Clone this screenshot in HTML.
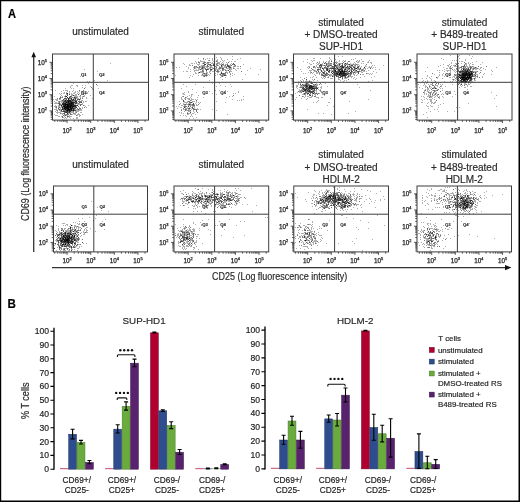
<!DOCTYPE html>
<html><head><meta charset="utf-8"><style>
html,body{margin:0;padding:0;background:#fff;}
svg{display:block;font-family:"Liberation Sans", sans-serif;will-change:transform;}
</style></head><body>
<svg width="520" height="502" viewBox="0 0 520 502">
<rect x="0" y="0" width="520" height="502" fill="#fff"/>
<path d="M63 107.5h1M54 103.5h1M62 106.5h1M69 100.5h1M73 104.5h1M66 96.5h1M64 114.5h1M70 100.5h1M62 101.5h1M75 102.5h1M71 106.5h1M79 102.5h1M65 117.5h1M75 104.5h1M56 109.5h1M72 107.5h1M67 104.5h1M77 105.5h1M71 103.5h1M65 105.5h1M70 86.5h1M63 110.5h1M68 101.5h1M71 110.5h1M58 109.5h1M65 100.5h1M68 113.5h1M70 105.5h1M55 111.5h1M62 116.5h1M62 109.5h1M58 108.5h1M59 98.5h1M74 107.5h1M68 100.5h1M83 102.5h1M55 109.5h1M65 107.5h1M70 103.5h1M62 100.5h1M77 117.5h1M63 110.5h1M75 105.5h1M62 97.5h1M66 94.5h1M59 104.5h1M66 104.5h1M62 108.5h1M80 95.5h1M75 102.5h1M68 98.5h1M71 96.5h1M74 97.5h1M80 105.5h1M55 103.5h1M70 102.5h1M64 109.5h1M72 102.5h1M62 107.5h1M72 106.5h1M65 108.5h1M68 108.5h1M65 112.5h1M70 109.5h1M68 105.5h1M74 97.5h1M61 109.5h1M56 100.5h1M80 115.5h1M75 103.5h1M55 90.5h1M63 103.5h1M71 104.5h1M69 110.5h1M74 99.5h1M69 110.5h1M73 110.5h1M76 102.5h1M70 107.5h1M64 101.5h1M72 110.5h1M71 109.5h1M63 106.5h1M65 104.5h1M66 104.5h1M80 98.5h1M63 115.5h1M66 108.5h1M67 112.5h1M65 90.5h1M79 91.5h1M73 109.5h1M63 104.5h1M64 110.5h1M76 101.5h1M75 106.5h1M82 114.5h1M70 102.5h1M67 102.5h1M68 102.5h1M81 110.5h1M57 99.5h1M78 109.5h1M70 97.5h1M67 115.5h1M69 105.5h1M62 104.5h1M74 105.5h1M74 110.5h1M62 104.5h1M76 100.5h1M79 102.5h1M69 115.5h1M59 99.5h1M65 102.5h1M62 107.5h1M71 109.5h1M76 115.5h1M63 113.5h1M82 103.5h1M70 105.5h1M67 116.5h1M81 102.5h1M70 105.5h1M69 94.5h1M73 103.5h1M69 97.5h1M64 107.5h1M69 102.5h1M79 104.5h1M60 99.5h1M66 111.5h1M71 98.5h1M73 110.5h1M64 98.5h1M59 101.5h1M65 107.5h1M65 115.5h1M63 101.5h1M70 113.5h1M56 99.5h1M73 99.5h1M68 98.5h1M62 119.5h1M76 112.5h1M79 116.5h1M65 109.5h1M70 109.5h1M64 113.5h1M67 106.5h1M66 107.5h1M57 110.5h1M60 103.5h1M67 112.5h1M58 103.5h1M72 103.5h1M73 98.5h1M59 101.5h1M63 103.5h1M69 111.5h1M54 106.5h1M70 105.5h1M60 97.5h1M79 110.5h1M62 104.5h1M69 113.5h1M57 98.5h1M66 99.5h1M67 113.5h1M67 106.5h1M69 106.5h1M56 108.5h1M58 116.5h1M70 106.5h1M74 93.5h1M72 104.5h1M74 105.5h1M71 110.5h1M69 100.5h1M70 118.5h1M74 108.5h1M65 106.5h1M67 97.5h1M78 111.5h1M75 101.5h1M78 106.5h1M70 114.5h1M66 115.5h1M62 109.5h1M65 103.5h1M72 104.5h1M63 109.5h1M56 106.5h1M64 111.5h1M74 98.5h1M60 108.5h1M64 107.5h1M69 110.5h1M68 108.5h1M65 109.5h1M71 105.5h1M67 110.5h1M67 102.5h1M64 106.5h1M64 105.5h1M65 108.5h1M65 100.5h1M64 106.5h1M70 100.5h1M67 110.5h1M64 104.5h1M66 110.5h1M62 108.5h1M66 96.5h1M69 110.5h1M70 105.5h1M62 108.5h1M70 107.5h1M75 105.5h1M64 106.5h1M75 103.5h1M71 100.5h1M63 109.5h1M64 107.5h1M67 107.5h1M64 111.5h1M67 111.5h1M68 104.5h1M65 106.5h1M68 110.5h1M68 108.5h1M69 109.5h1M69 99.5h1M70 106.5h1M65 104.5h1M65 105.5h1M68 109.5h1M68 101.5h1M65 110.5h1M67 106.5h1M65 104.5h1M70 103.5h1M70 101.5h1M64 101.5h1M73 104.5h1M65 106.5h1M71 105.5h1M69 103.5h1M68 112.5h1M70 106.5h1M72 108.5h1M68 109.5h1M73 105.5h1M71 103.5h1M66 107.5h1M67 106.5h1M67 103.5h1M67 110.5h1M66 112.5h1M68 106.5h1M63 107.5h1M67 105.5h1M68 99.5h1M66 102.5h1M69 110.5h1M62 103.5h1M64 103.5h1M65 105.5h1M69 101.5h1M65 107.5h1M63 111.5h1M72 102.5h1M71 102.5h1M67 104.5h1M65 103.5h1M68 101.5h1M71 106.5h1M75 106.5h1M68 106.5h1M69 110.5h1M68 102.5h1M68 101.5h1M67 109.5h1M68 106.5h1M65 104.5h1M69 109.5h1M83 101.5h1M81 94.5h1M69 100.5h1M71 96.5h1M85 87.5h1M81 112.5h1M82 96.5h1M83 94.5h1M73 107.5h1M78 99.5h1M76 95.5h1M70 87.5h1M82 92.5h1M75 94.5h1M86 93.5h1M75 97.5h1M70 97.5h1M80 98.5h1M78 94.5h1M83 92.5h1M83 90.5h1M97 85.5h1M96 84.5h1M85 94.5h1M92 89.5h1M93 89.5h1M98 88.5h1M80 76.5h1M97 71.5h1" stroke="#000" stroke-opacity="0.32" stroke-width="1"/>
<path d="M69 108.5h1M75 103.5h1M63 115.5h1M70 104.5h1M71 106.5h1M75 109.5h1M63 102.5h1M77 102.5h1M65 98.5h1M62 106.5h1M78 103.5h1M71 111.5h1M73 110.5h1M64 105.5h1M67 113.5h1M71 107.5h1M68 107.5h1M80 99.5h1M71 105.5h1M56 103.5h1M73 95.5h1M78 110.5h1M79 108.5h1M75 99.5h1M76 105.5h1M54 109.5h1M66 112.5h1M78 98.5h1M62 107.5h1M61 104.5h1M63 90.5h1M73 105.5h1M79 101.5h1M62 117.5h1M81 104.5h1M66 112.5h1M68 116.5h1M66 110.5h1M80 104.5h1M74 102.5h1M69 109.5h1M63 99.5h1M56 106.5h1M61 101.5h1M65 98.5h1M66 101.5h1M73 104.5h1M66 107.5h1M68 102.5h1M68 111.5h1M73 118.5h1M71 109.5h1M71 114.5h1M77 86.5h1M71 109.5h1M61 110.5h1M66 111.5h1M78 101.5h1M64 118.5h1M70 111.5h1M61 110.5h1M66 109.5h1M70 106.5h1M68 101.5h1M73 109.5h1M69 105.5h1M71 102.5h1M67 116.5h1M64 115.5h1M68 104.5h1M71 101.5h1M73 113.5h1M69 104.5h1M67 109.5h1M71 102.5h1M67 95.5h1M69 111.5h1M68 103.5h1M77 111.5h1M76 105.5h1M62 96.5h1M66 102.5h1M80 109.5h1M65 107.5h1M60 113.5h1M75 99.5h1M60 105.5h1M73 109.5h1M72 106.5h1M69 109.5h1M71 104.5h1M77 108.5h1M70 112.5h1M68 111.5h1M75 101.5h1M67 106.5h1M63 108.5h1M73 106.5h1M68 104.5h1M64 96.5h1M66 108.5h1M75 105.5h1M63 108.5h1M61 97.5h1M57 113.5h1M88 105.5h1M67 104.5h1M59 106.5h1M67 105.5h1M64 105.5h1M82 108.5h1M74 97.5h1M76 115.5h1M61 110.5h1M65 96.5h1M79 99.5h1M65 100.5h1M70 106.5h1M72 102.5h1M69 104.5h1M60 94.5h1M65 101.5h1M68 108.5h1M70 104.5h1M62 100.5h1M67 93.5h1M57 103.5h1M71 105.5h1M74 100.5h1M68 101.5h1M72 103.5h1M75 101.5h1M60 112.5h1M68 116.5h1M76 117.5h1M70 109.5h1M63 101.5h1M59 109.5h1M75 106.5h1M60 98.5h1M84 105.5h1M76 107.5h1M64 114.5h1M71 99.5h1M65 97.5h1M76 109.5h1M64 113.5h1M73 99.5h1M68 99.5h1M77 99.5h1M70 111.5h1M75 95.5h1M67 105.5h1M64 103.5h1M72 105.5h1M59 109.5h1M61 116.5h1M63 109.5h1M79 99.5h1M69 103.5h1M67 103.5h1M70 111.5h1M76 103.5h1M71 104.5h1M67 108.5h1M77 100.5h1M76 101.5h1M63 113.5h1M79 108.5h1M65 115.5h1M85 101.5h1M55 105.5h1M67 93.5h1M80 104.5h1M72 107.5h1M66 112.5h1M82 91.5h1M64 103.5h1M58 106.5h1M75 107.5h1M83 105.5h1M70 106.5h1M63 100.5h1M81 101.5h1M80 97.5h1M65 101.5h1M69 104.5h1M67 100.5h1M69 105.5h1M71 105.5h1M68 106.5h1M72 99.5h1M73 99.5h1M72 102.5h1M66 102.5h1M66 92.5h1M67 94.5h1M78 94.5h1M72 103.5h1M76 97.5h1M68 109.5h1M70 108.5h1M71 114.5h1M68 102.5h1M70 106.5h1M70 106.5h1M66 102.5h1M66 101.5h1M68 105.5h1M66 110.5h1M69 103.5h1M56 110.5h1M61 107.5h1M69 101.5h1M67 116.5h1M70 104.5h1M57 110.5h1M69 106.5h1M67 104.5h1M61 105.5h1M59 107.5h1M69 112.5h1M69 107.5h1M67 108.5h1M67 108.5h1M70 107.5h1M74 110.5h1M66 107.5h1M65 105.5h1M67 107.5h1M73 108.5h1M68 107.5h1M73 106.5h1M70 100.5h1M66 104.5h1M68 102.5h1M70 104.5h1M67 100.5h1M68 106.5h1M70 105.5h1M72 107.5h1M62 107.5h1M65 100.5h1M67 108.5h1M71 106.5h1M68 103.5h1M68 108.5h1M71 98.5h1M66 107.5h1M64 107.5h1M68 104.5h1M73 100.5h1M67 112.5h1M64 104.5h1M70 106.5h1M70 109.5h1M62 107.5h1M67 107.5h1M72 108.5h1M67 111.5h1M67 105.5h1M65 104.5h1M70 107.5h1M67 107.5h1M67 107.5h1M73 108.5h1M71 105.5h1M64 109.5h1M79 100.5h1M85 93.5h1M75 101.5h1M84 88.5h1M78 106.5h1M87 93.5h1M67 98.5h1M77 96.5h1M82 87.5h1M80 105.5h1M81 94.5h1M72 100.5h1M72 91.5h1M78 92.5h1M72 103.5h1M78 94.5h1M83 93.5h1M83 96.5h1M71 88.5h1M90 86.5h1M85 85.5h1M94 80.5h1" stroke="#000" stroke-opacity="0.32" stroke-width="1"/>
<path d="M66 104.5h1M73 106.5h1M71 116.5h1M66 106.5h1M57 111.5h1M71 103.5h1M73 106.5h1M71 94.5h1M71 104.5h1M74 105.5h1M71 109.5h1M68 108.5h1M67 106.5h1M70 96.5h1M78 109.5h1M69 94.5h1M73 110.5h1M73 103.5h1M79 90.5h1M66 102.5h1M73 111.5h1M68 112.5h1M75 108.5h1M66 99.5h1M60 110.5h1M57 115.5h1M75 106.5h1M73 104.5h1M64 93.5h1M73 108.5h1M86 101.5h1M81 109.5h1M71 105.5h1M81 102.5h1M70 108.5h1M64 107.5h1M69 110.5h1M68 106.5h1M64 99.5h1M72 104.5h1M70 109.5h1M75 107.5h1M74 100.5h1M73 102.5h1M61 106.5h1M60 97.5h1M67 110.5h1M71 103.5h1M80 101.5h1M74 106.5h1M60 107.5h1M62 109.5h1M66 102.5h1M64 109.5h1M61 111.5h1M64 103.5h1M70 101.5h1M73 99.5h1M64 100.5h1M56 107.5h1M76 96.5h1M69 104.5h1M72 102.5h1M60 109.5h1M59 102.5h1M79 101.5h1M77 115.5h1M67 109.5h1M68 105.5h1M75 98.5h1M69 106.5h1M65 103.5h1M76 112.5h1M65 107.5h1M70 105.5h1M68 104.5h1M67 110.5h1M71 103.5h1M66 96.5h1M66 104.5h1M71 103.5h1M73 103.5h1M72 100.5h1M70 99.5h1M74 114.5h1M73 102.5h1M66 98.5h1M68 109.5h1M63 117.5h1M73 106.5h1M76 105.5h1M72 97.5h1M68 102.5h1M76 102.5h1M61 105.5h1M65 108.5h1M66 107.5h1M67 106.5h1M66 104.5h1M71 102.5h1M71 85.5h1M56 115.5h1M75 100.5h1M66 108.5h1M68 101.5h1M72 104.5h1M73 106.5h1M73 102.5h1M77 105.5h1M63 106.5h1M71 102.5h1M75 110.5h1M68 101.5h1M70 100.5h1M63 106.5h1M73 105.5h1M66 102.5h1M69 111.5h1M74 102.5h1M74 108.5h1M77 105.5h1M72 108.5h1M68 110.5h1M74 108.5h1M72 106.5h1M71 109.5h1M75 110.5h1M62 104.5h1M64 104.5h1M66 100.5h1M78 109.5h1M77 105.5h1M71 110.5h1M68 110.5h1M67 109.5h1M68 114.5h1M67 94.5h1M65 106.5h1M73 95.5h1M80 108.5h1M82 97.5h1M75 113.5h1M80 110.5h1M57 100.5h1M67 111.5h1M70 103.5h1M63 99.5h1M65 112.5h1M68 99.5h1M64 108.5h1M54 114.5h1M59 102.5h1M74 103.5h1M65 103.5h1M67 95.5h1M55 102.5h1M70 105.5h1M84 107.5h1M59 116.5h1M77 118.5h1M68 104.5h1M67 113.5h1M75 96.5h1M60 98.5h1M63 105.5h1M66 114.5h1M67 100.5h1M73 102.5h1M66 93.5h1M68 108.5h1M58 108.5h1M71 101.5h1M74 113.5h1M77 109.5h1M70 106.5h1M86 97.5h1M64 106.5h1M66 90.5h1M71 107.5h1M84 107.5h1M72 111.5h1M63 103.5h1M66 108.5h1M61 93.5h1M71 108.5h1M78 114.5h1M71 93.5h1M65 104.5h1M80 108.5h1M69 103.5h1M70 101.5h1M66 102.5h1M59 104.5h1M68 100.5h1M69 100.5h1M68 109.5h1M64 111.5h1M81 102.5h1M75 114.5h1M67 91.5h1M67 111.5h1M69 98.5h1M72 110.5h1M69 103.5h1M65 104.5h1M65 105.5h1M72 105.5h1M63 106.5h1M72 109.5h1M69 111.5h1M71 101.5h1M68 104.5h1M60 111.5h1M66 104.5h1M70 107.5h1M66 106.5h1M69 104.5h1M64 112.5h1M68 105.5h1M64 108.5h1M71 105.5h1M70 103.5h1M70 107.5h1M72 101.5h1M64 108.5h1M67 105.5h1M65 111.5h1M68 101.5h1M69 112.5h1M67 103.5h1M70 103.5h1M70 106.5h1M67 104.5h1M64 102.5h1M72 102.5h1M70 101.5h1M60 104.5h1M65 105.5h1M69 107.5h1M73 103.5h1M67 100.5h1M64 106.5h1M68 109.5h1M69 97.5h1M71 102.5h1M67 104.5h1M69 110.5h1M66 109.5h1M64 106.5h1M64 108.5h1M66 106.5h1M67 107.5h1M67 104.5h1M67 104.5h1M72 103.5h1M70 107.5h1M67 101.5h1M74 106.5h1M62 109.5h1M65 104.5h1M66 107.5h1M73 110.5h1M69 105.5h1M82 85.5h1M74 96.5h1M75 100.5h1M82 98.5h1M74 92.5h1M83 90.5h1M81 91.5h1M80 96.5h1M84 96.5h1M79 99.5h1M86 98.5h1M80 102.5h1M83 96.5h1M79 90.5h1M71 100.5h1M74 97.5h1M73 83.5h1M76 100.5h1M66 105.5h1M80 95.5h1M87 92.5h1M94 82.5h1M90 95.5h1M84 95.5h1M92 88.5h1" stroke="#000" stroke-opacity="0.32" stroke-width="1"/>
<path d="M76 103.5h1M71 104.5h1M70 113.5h1M65 109.5h1M73 111.5h1M65 101.5h1M66 114.5h1M67 93.5h1M71 102.5h1M66 111.5h1M82 98.5h1M69 109.5h1M68 106.5h1M73 113.5h1M73 100.5h1M71 108.5h1M72 107.5h1M69 98.5h1M58 102.5h1M78 104.5h1M73 95.5h1M68 101.5h1M72 110.5h1M55 106.5h1M67 106.5h1M66 108.5h1M58 108.5h1M71 109.5h1M71 99.5h1M78 103.5h1M73 90.5h1M70 108.5h1M59 107.5h1M63 102.5h1M58 103.5h1M65 109.5h1M66 101.5h1M69 106.5h1M74 109.5h1M68 99.5h1M59 112.5h1M79 103.5h1M76 118.5h1M71 97.5h1M58 112.5h1M69 106.5h1M68 105.5h1M66 96.5h1M73 104.5h1M66 102.5h1M66 104.5h1M67 90.5h1M65 109.5h1M79 114.5h1M76 107.5h1M71 102.5h1M75 101.5h1M65 109.5h1M74 106.5h1M70 116.5h1M77 99.5h1M70 100.5h1M67 111.5h1M75 100.5h1M65 107.5h1M64 98.5h1M69 107.5h1M78 113.5h1M71 106.5h1M65 100.5h1M73 104.5h1M69 101.5h1M63 111.5h1M73 106.5h1M71 105.5h1M75 98.5h1M70 98.5h1M66 96.5h1M65 107.5h1M55 99.5h1M72 100.5h1M71 110.5h1M66 118.5h1M73 108.5h1M69 104.5h1M61 95.5h1M73 97.5h1M65 111.5h1M73 88.5h1M59 104.5h1M69 100.5h1M63 106.5h1M67 97.5h1M73 112.5h1M65 103.5h1M66 110.5h1M72 85.5h1M66 102.5h1M56 112.5h1M71 107.5h1M72 100.5h1M60 96.5h1M62 97.5h1M67 106.5h1M74 104.5h1M64 108.5h1M72 104.5h1M56 107.5h1M63 104.5h1M57 112.5h1M70 108.5h1M62 103.5h1M69 110.5h1M66 98.5h1M59 103.5h1M53 99.5h1M72 114.5h1M62 114.5h1M68 114.5h1M63 104.5h1M69 103.5h1M79 109.5h1M70 101.5h1M73 108.5h1M69 109.5h1M75 105.5h1M77 98.5h1M66 109.5h1M69 96.5h1M75 105.5h1M65 96.5h1M65 111.5h1M62 104.5h1M76 102.5h1M59 109.5h1M75 111.5h1M65 115.5h1M86 107.5h1M74 102.5h1M79 107.5h1M67 97.5h1M69 100.5h1M67 110.5h1M63 103.5h1M80 102.5h1M73 95.5h1M58 105.5h1M64 106.5h1M63 111.5h1M62 109.5h1M69 117.5h1M68 100.5h1M69 110.5h1M78 101.5h1M71 98.5h1M60 104.5h1M62 100.5h1M63 93.5h1M64 106.5h1M74 100.5h1M65 102.5h1M79 102.5h1M67 103.5h1M59 103.5h1M70 114.5h1M62 116.5h1M64 112.5h1M64 106.5h1M69 94.5h1M76 111.5h1M59 105.5h1M66 108.5h1M55 107.5h1M62 111.5h1M77 105.5h1M63 105.5h1M70 98.5h1M66 99.5h1M70 105.5h1M65 96.5h1M70 108.5h1M66 107.5h1M68 105.5h1M66 102.5h1M82 100.5h1M68 98.5h1M73 107.5h1M65 108.5h1M71 108.5h1M77 110.5h1M61 105.5h1M67 105.5h1M71 106.5h1M76 101.5h1M67 108.5h1M76 107.5h1M65 105.5h1M72 106.5h1M70 102.5h1M69 106.5h1M64 105.5h1M66 110.5h1M70 104.5h1M64 107.5h1M64 110.5h1M64 101.5h1M67 108.5h1M65 104.5h1M67 114.5h1M65 109.5h1M70 104.5h1M66 106.5h1M63 105.5h1M64 108.5h1M70 110.5h1M64 106.5h1M65 103.5h1M65 108.5h1M69 108.5h1M66 104.5h1M66 106.5h1M68 106.5h1M65 104.5h1M67 104.5h1M65 114.5h1M65 107.5h1M66 104.5h1M69 101.5h1M64 108.5h1M66 110.5h1M72 106.5h1M72 103.5h1M65 110.5h1M68 105.5h1M65 105.5h1M66 104.5h1M68 107.5h1M69 107.5h1M64 107.5h1M64 106.5h1M70 105.5h1M71 108.5h1M70 106.5h1M66 106.5h1M66 104.5h1M68 109.5h1M69 106.5h1M70 102.5h1M70 105.5h1M73 105.5h1M74 106.5h1M69 108.5h1M71 99.5h1M66 105.5h1M71 108.5h1M63 102.5h1M67 105.5h1M61 113.5h1M82 104.5h1M73 99.5h1M79 99.5h1M91 87.5h1M74 98.5h1M81 100.5h1M61 102.5h1M74 95.5h1M88 91.5h1M76 97.5h1M88 83.5h1M89 81.5h1M96 84.5h1M91 87.5h1M87 81.5h1M92 98.5h1M90 82.5h1M107 80.5h1M121 82.5h1M84 69.5h1" stroke="#000" stroke-opacity="0.32" stroke-width="1"/>
<path d="M63 104.5h1M75 107.5h1M69 91.5h1M62 111.5h1M68 100.5h1M67 117.5h1M74 101.5h1M75 98.5h1M61 109.5h1M72 95.5h1M68 110.5h1M65 106.5h1M65 88.5h1M67 95.5h1M72 100.5h1M69 116.5h1M73 101.5h1M72 106.5h1M75 99.5h1M71 109.5h1M82 107.5h1M62 117.5h1M78 99.5h1M63 100.5h1M69 112.5h1M61 105.5h1M64 111.5h1M71 101.5h1M69 102.5h1M77 108.5h1M65 104.5h1M79 115.5h1M63 108.5h1M68 104.5h1M73 102.5h1M72 105.5h1M73 104.5h1M54 96.5h1M70 108.5h1M70 96.5h1M70 111.5h1M70 110.5h1M74 109.5h1M70 105.5h1M64 98.5h1M76 107.5h1M80 105.5h1M59 93.5h1M73 106.5h1M68 105.5h1M60 101.5h1M74 110.5h1M77 114.5h1M67 106.5h1M69 107.5h1M72 94.5h1M67 104.5h1M64 103.5h1M66 108.5h1M67 110.5h1M71 103.5h1M71 99.5h1M67 93.5h1M72 105.5h1M64 104.5h1M59 103.5h1M71 108.5h1M69 111.5h1M72 101.5h1M74 107.5h1M73 93.5h1M80 112.5h1M68 99.5h1M75 103.5h1M77 99.5h1M79 93.5h1M63 105.5h1M70 107.5h1M69 92.5h1M72 105.5h1M70 103.5h1M66 112.5h1M56 102.5h1M77 104.5h1M67 101.5h1M64 116.5h1M68 101.5h1M68 102.5h1M65 112.5h1M64 113.5h1M64 92.5h1M70 100.5h1M72 108.5h1M76 106.5h1M63 104.5h1M67 101.5h1M71 95.5h1M67 109.5h1M76 102.5h1M67 109.5h1M75 101.5h1M81 101.5h1M65 100.5h1M70 107.5h1M72 112.5h1M60 113.5h1M59 98.5h1M75 110.5h1M83 105.5h1M61 100.5h1M77 103.5h1M75 92.5h1M64 104.5h1M68 110.5h1M61 91.5h1M69 104.5h1M65 117.5h1M65 98.5h1M76 98.5h1M64 100.5h1M73 105.5h1M68 107.5h1M58 107.5h1M60 97.5h1M62 103.5h1M55 115.5h1M61 110.5h1M68 107.5h1M75 112.5h1M63 111.5h1M66 108.5h1M68 108.5h1M65 95.5h1M76 110.5h1M71 107.5h1M58 101.5h1M76 101.5h1M57 98.5h1M59 110.5h1M73 109.5h1M71 112.5h1M72 97.5h1M62 102.5h1M70 106.5h1M67 97.5h1M72 99.5h1M74 102.5h1M65 104.5h1M81 104.5h1M66 102.5h1M68 103.5h1M67 106.5h1M67 114.5h1M63 106.5h1M77 97.5h1M80 101.5h1M67 101.5h1M71 98.5h1M73 101.5h1M67 102.5h1M75 97.5h1M69 103.5h1M62 105.5h1M54 101.5h1M71 110.5h1M68 103.5h1M69 97.5h1M65 109.5h1M75 108.5h1M85 106.5h1M65 103.5h1M74 105.5h1M68 98.5h1M70 109.5h1M70 106.5h1M65 101.5h1M67 104.5h1M69 93.5h1M67 113.5h1M67 93.5h1M71 104.5h1M61 106.5h1M66 103.5h1M70 96.5h1M70 108.5h1M66 100.5h1M72 109.5h1M76 103.5h1M63 104.5h1M66 106.5h1M66 93.5h1M69 103.5h1M69 109.5h1M66 106.5h1M68 101.5h1M68 108.5h1M68 103.5h1M69 106.5h1M61 105.5h1M65 102.5h1M65 99.5h1M64 108.5h1M72 107.5h1M68 99.5h1M69 102.5h1M70 106.5h1M69 107.5h1M66 105.5h1M68 105.5h1M66 103.5h1M65 109.5h1M68 106.5h1M59 105.5h1M61 111.5h1M74 106.5h1M72 107.5h1M70 105.5h1M67 104.5h1M67 108.5h1M70 110.5h1M67 109.5h1M75 106.5h1M64 102.5h1M68 101.5h1M73 106.5h1M73 110.5h1M64 101.5h1M64 105.5h1M65 109.5h1M68 104.5h1M67 105.5h1M63 102.5h1M70 109.5h1M71 102.5h1M66 108.5h1M68 107.5h1M69 112.5h1M72 107.5h1M66 107.5h1M67 107.5h1M68 105.5h1M68 98.5h1M73 108.5h1M67 100.5h1M64 108.5h1M62 113.5h1M68 105.5h1M68 109.5h1M67 110.5h1M68 107.5h1M72 106.5h1M74 105.5h1M69 101.5h1M62 103.5h1M63 99.5h1M62 107.5h1M68 101.5h1M68 105.5h1M66 106.5h1M70 107.5h1M71 103.5h1M65 105.5h1M76 85.5h1M75 91.5h1M76 94.5h1M77 85.5h1M79 96.5h1M84 88.5h1M77 93.5h1M77 91.5h1M110 63.5h1" stroke="#000" stroke-opacity="0.32" stroke-width="1"/>
<rect x="52.5" y="54" width="96" height="66.1" fill="none" stroke="#3c3c3c" stroke-width="1"/>
<path d="M93.3 54V120.1M52.5 82.3H148.5" stroke="#3c3c3c" stroke-width="1" fill="none"/>
<text x="83.8" y="75.9" font-size="4.3" text-anchor="middle" fill="#222" stroke="#222" stroke-width="0.12" font-weight="bold">Q1</text>
<text x="101.8" y="75.9" font-size="4.3" text-anchor="middle" fill="#222" stroke="#222" stroke-width="0.12" font-weight="bold">Q2</text>
<text x="83.8" y="93.9" font-size="4.3" text-anchor="middle" fill="#222" stroke="#222" stroke-width="0.12" font-weight="bold">Q3</text>
<text x="101.8" y="93.9" font-size="4.3" text-anchor="middle" fill="#222" stroke="#222" stroke-width="0.12" font-weight="bold">Q4</text>
<path d="M52.5 62.3h-3M52.5 73.62h-1.8M52.5 70.77h-1.8M52.5 68.75h-1.8M52.5 67.18h-1.8M52.5 65.89h-1.8M52.5 64.81h-1.8M52.5 63.87h-1.8M52.5 63.04h-1.8M52.5 78.5h-3M52.5 89.82h-1.8M52.5 86.97h-1.8M52.5 84.95h-1.8M52.5 83.38h-1.8M52.5 82.09h-1.8M52.5 81.01h-1.8M52.5 80.07h-1.8M52.5 79.24h-1.8M52.5 94.7h-3M52.5 106.02h-1.8M52.5 103.17h-1.8M52.5 101.15h-1.8M52.5 99.58h-1.8M52.5 98.29h-1.8M52.5 97.21h-1.8M52.5 96.27h-1.8M52.5 95.44h-1.8M52.5 110.9h-3M52.5 119.37h-1.8M52.5 117.35h-1.8M52.5 115.78h-1.8M52.5 114.49h-1.8M52.5 113.41h-1.8M52.5 112.47h-1.8M52.5 111.64h-1.8M54.75 120.1v1.8M57.7 120.1v1.8M59.99 120.1v1.8M61.86 120.1v1.8M63.44 120.1v1.8M64.81 120.1v1.8M66.02 120.1v1.8M67.1 120.1v3M74.21 120.1v1.8M78.37 120.1v1.8M81.32 120.1v1.8M83.61 120.1v1.8M85.48 120.1v1.8M87.06 120.1v1.8M88.43 120.1v1.8M89.64 120.1v1.8M90.72 120.1v3M97.83 120.1v1.8M101.99 120.1v1.8M104.94 120.1v1.8M107.23 120.1v1.8M109.1 120.1v1.8M110.68 120.1v1.8M112.05 120.1v1.8M113.26 120.1v1.8M114.34 120.1v3M121.45 120.1v1.8M125.61 120.1v1.8M128.56 120.1v1.8M130.85 120.1v1.8M132.72 120.1v1.8M134.3 120.1v1.8M135.67 120.1v1.8M136.88 120.1v1.8M137.96 120.1v3M145.07 120.1v1.8" stroke="#333" stroke-width="0.8" fill="none"/>
<text x="46.9" y="64.6" font-size="6.3" text-anchor="end" fill="#1e1e1e" stroke="#1e1e1e" stroke-width="0.25">10<tspan font-size="3.9" dy="-3.0">5</tspan></text>
<text x="46.9" y="80.8" font-size="6.3" text-anchor="end" fill="#1e1e1e" stroke="#1e1e1e" stroke-width="0.25">10<tspan font-size="3.9" dy="-3.0">4</tspan></text>
<text x="46.9" y="97" font-size="6.3" text-anchor="end" fill="#1e1e1e" stroke="#1e1e1e" stroke-width="0.25">10<tspan font-size="3.9" dy="-3.0">3</tspan></text>
<text x="46.9" y="113.2" font-size="6.3" text-anchor="end" fill="#1e1e1e" stroke="#1e1e1e" stroke-width="0.25">10<tspan font-size="3.9" dy="-3.0">2</tspan></text>
<text x="67.1" y="132.7" font-size="6.3" text-anchor="middle" fill="#1e1e1e" stroke="#1e1e1e" stroke-width="0.25">10<tspan font-size="3.9" dy="-3.0">2</tspan></text>
<text x="90.72" y="132.7" font-size="6.3" text-anchor="middle" fill="#1e1e1e" stroke="#1e1e1e" stroke-width="0.25">10<tspan font-size="3.9" dy="-3.0">3</tspan></text>
<text x="114.34" y="132.7" font-size="6.3" text-anchor="middle" fill="#1e1e1e" stroke="#1e1e1e" stroke-width="0.25">10<tspan font-size="3.9" dy="-3.0">4</tspan></text>
<text x="137.96" y="132.7" font-size="6.3" text-anchor="middle" fill="#1e1e1e" stroke="#1e1e1e" stroke-width="0.25">10<tspan font-size="3.9" dy="-3.0">5</tspan></text>
<path d="M220 68.5h1M214 64.5h1M194 67.5h1M203 61.5h1M199 66.5h1M206 63.5h1M222 69.5h1M215 66.5h1M221 65.5h1M193 74.5h1M208 62.5h1M208 69.5h1M196 62.5h1M200 69.5h1M229 61.5h1M220 67.5h1M226 67.5h1M194 68.5h1M205 66.5h1M202 63.5h1M234 66.5h1M230 69.5h1M227 59.5h1M202 69.5h1M198 64.5h1M221 66.5h1M202 70.5h1M212 65.5h1M204 67.5h1M216 60.5h1M229 67.5h1M208 64.5h1M200 71.5h1M220 67.5h1M210 71.5h1M214 65.5h1M211 70.5h1M220 64.5h1M226 66.5h1M199 64.5h1M213 61.5h1M214 66.5h1M199 72.5h1M243 64.5h1M232 56.5h1M203 65.5h1M229 72.5h1M204 66.5h1M210 73.5h1M217 74.5h1M221 71.5h1M223 61.5h1M214 70.5h1M217 61.5h1M222 66.5h1M216 67.5h1M207 66.5h1M209 75.5h1M223 69.5h1M203 58.5h1M211 69.5h1M227 68.5h1M202 68.5h1M213 68.5h1M217 72.5h1M233 63.5h1M219 62.5h1M214 67.5h1M207 62.5h1M233 66.5h1M225 65.5h1M203 71.5h1M210 69.5h1M222 68.5h1M211 69.5h1M206 76.5h1M207 65.5h1M190 71.5h1M214 65.5h1M207 62.5h1M196 67.5h1M205 62.5h1M236 70.5h1M225 70.5h1M198 62.5h1M211 69.5h1M187 71.5h1M203 67.5h1M206 70.5h1M223 74.5h1M199 72.5h1M210 64.5h1M245 74.5h1M219 66.5h1M190 75.5h1M258 74.5h1M226 62.5h1M190 112.5h1M192 113.5h1M194 105.5h1M187 113.5h1M183 113.5h1M190 102.5h1M193 105.5h1M191 105.5h1M189 108.5h1M190 100.5h1M189 104.5h1M185 99.5h1M192 106.5h1M183 104.5h1M190 102.5h1M189 99.5h1M185 105.5h1M194 112.5h1M192 116.5h1M198 104.5h1M189 107.5h1M196 105.5h1M193 113.5h1M183 101.5h1M182 96.5h1M184 107.5h1M186 103.5h1M191 104.5h1M187 113.5h1M190 106.5h1M188 105.5h1M187 104.5h1M184 107.5h1M187 112.5h1M184 102.5h1M196 101.5h1M188 92.5h1M188 109.5h1M185 99.5h1M196 111.5h1M191 96.5h1M193 118.5h1M192 94.5h1M190 103.5h1M196 109.5h1M192 99.5h1M190 102.5h1M189 108.5h1M219 83.5h1M209 91.5h1M203 87.5h1M192 101.5h1M183 84.5h1M216 86.5h1M233 95.5h1M243 99.5h1M238 91.5h1M233 93.5h1" stroke="#000" stroke-opacity="0.32" stroke-width="1"/>
<path d="M215 69.5h1M211 69.5h1M230 67.5h1M188 68.5h1M208 66.5h1M201 68.5h1M213 68.5h1M202 65.5h1M221 59.5h1M198 61.5h1M209 60.5h1M205 69.5h1M217 69.5h1M227 65.5h1M203 63.5h1M221 73.5h1M208 64.5h1M209 64.5h1M214 61.5h1M201 72.5h1M226 67.5h1M192 65.5h1M205 59.5h1M218 68.5h1M224 69.5h1M190 69.5h1M204 64.5h1M195 70.5h1M216 61.5h1M227 73.5h1M226 64.5h1M213 71.5h1M231 61.5h1M229 71.5h1M223 70.5h1M231 65.5h1M211 63.5h1M223 69.5h1M230 74.5h1M228 66.5h1M221 63.5h1M202 66.5h1M229 66.5h1M200 61.5h1M220 57.5h1M219 63.5h1M212 68.5h1M222 64.5h1M225 67.5h1M240 66.5h1M209 65.5h1M215 66.5h1M214 62.5h1M218 63.5h1M231 67.5h1M214 66.5h1M223 73.5h1M225 69.5h1M237 66.5h1M228 70.5h1M214 64.5h1M227 65.5h1M210 65.5h1M235 65.5h1M206 70.5h1M235 66.5h1M214 74.5h1M211 66.5h1M233 67.5h1M186 71.5h1M203 65.5h1M210 65.5h1M195 66.5h1M196 63.5h1M200 66.5h1M210 70.5h1M207 63.5h1M194 70.5h1M232 59.5h1M208 69.5h1M199 66.5h1M209 60.5h1M204 73.5h1M202 61.5h1M231 63.5h1M204 64.5h1M218 69.5h1M216 66.5h1M234 74.5h1M223 65.5h1M217 71.5h1M210 66.5h1M211 65.5h1M198 65.5h1M197 70.5h1M232 73.5h1M216 61.5h1M229 67.5h1M221 68.5h1M205 75.5h1M213 64.5h1M230 73.5h1M227 64.5h1M203 67.5h1M225 77.5h1M192 76.5h1M214 79.5h1M189 65.5h1M207 65.5h1M231 71.5h1M225 75.5h1M201 67.5h1M215 70.5h1M210 70.5h1M203 58.5h1M189 104.5h1M183 100.5h1M196 110.5h1M185 110.5h1M187 107.5h1M193 104.5h1M194 106.5h1M181 110.5h1M188 106.5h1M188 114.5h1M186 106.5h1M188 103.5h1M193 103.5h1M185 106.5h1M184 104.5h1M194 109.5h1M181 107.5h1M191 102.5h1M190 116.5h1M185 104.5h1M198 109.5h1M195 109.5h1M188 111.5h1M186 116.5h1M188 106.5h1M193 104.5h1M189 101.5h1M203 97.5h1M188 98.5h1M192 105.5h1M188 106.5h1M181 112.5h1M186 109.5h1M184 105.5h1M196 110.5h1M189 98.5h1M188 104.5h1M193 99.5h1M194 101.5h1M193 105.5h1M182 99.5h1M193 111.5h1M187 96.5h1M189 102.5h1M185 110.5h1M185 97.5h1M181 105.5h1M193 109.5h1M188 110.5h1M187 102.5h1M188 91.5h1M184 94.5h1M190 100.5h1M231 86.5h1M212 83.5h1M241 100.5h1M238 92.5h1M243 96.5h1" stroke="#000" stroke-opacity="0.32" stroke-width="1"/>
<path d="M198 68.5h1M204 65.5h1M198 75.5h1M192 63.5h1M216 71.5h1M203 72.5h1M230 67.5h1M224 60.5h1M204 67.5h1M216 65.5h1M233 68.5h1M188 67.5h1M233 64.5h1M204 63.5h1M221 65.5h1M221 67.5h1M228 62.5h1M233 63.5h1M209 67.5h1M196 69.5h1M212 62.5h1M203 69.5h1M207 67.5h1M220 70.5h1M202 71.5h1M221 72.5h1M227 64.5h1M203 71.5h1M197 64.5h1M202 72.5h1M207 69.5h1M233 63.5h1M207 65.5h1M208 62.5h1M199 69.5h1M229 65.5h1M214 69.5h1M195 73.5h1M207 66.5h1M217 71.5h1M201 75.5h1M225 75.5h1M212 67.5h1M199 67.5h1M226 68.5h1M190 65.5h1M234 66.5h1M213 65.5h1M217 59.5h1M222 64.5h1M229 72.5h1M206 69.5h1M216 71.5h1M220 68.5h1M228 66.5h1M227 63.5h1M230 66.5h1M203 59.5h1M219 71.5h1M201 69.5h1M210 69.5h1M203 70.5h1M216 63.5h1M229 67.5h1M229 71.5h1M229 66.5h1M195 68.5h1M217 65.5h1M217 70.5h1M217 64.5h1M230 74.5h1M240 66.5h1M201 68.5h1M196 66.5h1M199 63.5h1M222 70.5h1M219 67.5h1M183 63.5h1M198 67.5h1M228 62.5h1M228 65.5h1M203 66.5h1M215 75.5h1M217 62.5h1M222 68.5h1M211 65.5h1M200 60.5h1M209 71.5h1M197 67.5h1M207 72.5h1M214 69.5h1M209 68.5h1M216 67.5h1M194 67.5h1M198 72.5h1M218 71.5h1M225 65.5h1M230 68.5h1M240 58.5h1M214 71.5h1M227 72.5h1M223 68.5h1M203 62.5h1M179 67.5h1M228 70.5h1M217 63.5h1M198 58.5h1M222 79.5h1M194 66.5h1M216 69.5h1M218 62.5h1M212 63.5h1M189 64.5h1M199 68.5h1M175 75.5h1M193 67.5h1M183 71.5h1M230 64.5h1M183 108.5h1M189 105.5h1M183 101.5h1M191 100.5h1M192 108.5h1M189 101.5h1M197 105.5h1M187 108.5h1M186 108.5h1M189 109.5h1M193 109.5h1M192 107.5h1M179 101.5h1M190 106.5h1M197 109.5h1M185 106.5h1M196 104.5h1M186 104.5h1M183 100.5h1M185 109.5h1M196 100.5h1M189 95.5h1M191 98.5h1M188 106.5h1M185 109.5h1M192 104.5h1M196 109.5h1M183 103.5h1M190 110.5h1M190 97.5h1M179 104.5h1M193 110.5h1M180 103.5h1M195 99.5h1M193 108.5h1M184 109.5h1M195 109.5h1M191 107.5h1M194 105.5h1M187 98.5h1M193 101.5h1M190 105.5h1M183 101.5h1M187 113.5h1M192 105.5h1M184 111.5h1M189 103.5h1M181 99.5h1M191 102.5h1M192 107.5h1M181 97.5h1M187 110.5h1M197 97.5h1M183 109.5h1M227 91.5h1M202 67.5h1M215 90.5h1M212 109.5h1M198 95.5h1M226 97.5h1M227 114.5h1M195 103.5h1M192 89.5h1M209 80.5h1M181 88.5h1M212 93.5h1M189 77.5h1M237 100.5h1M232 96.5h1" stroke="#000" stroke-opacity="0.32" stroke-width="1"/>
<path d="M234 65.5h1M228 66.5h1M213 65.5h1M234 64.5h1M233 68.5h1M205 64.5h1M230 70.5h1M215 73.5h1M234 68.5h1M198 69.5h1M230 76.5h1M223 63.5h1M222 69.5h1M221 65.5h1M219 67.5h1M199 72.5h1M224 66.5h1M227 65.5h1M194 66.5h1M222 70.5h1M212 60.5h1M223 67.5h1M206 72.5h1M210 68.5h1M207 69.5h1M204 61.5h1M196 66.5h1M230 65.5h1M206 70.5h1M237 68.5h1M207 58.5h1M226 71.5h1M238 66.5h1M186 66.5h1M235 65.5h1M223 64.5h1M202 68.5h1M202 68.5h1M227 66.5h1M205 68.5h1M195 72.5h1M213 64.5h1M221 58.5h1M221 64.5h1M199 67.5h1M203 68.5h1M225 66.5h1M219 69.5h1M217 70.5h1M213 63.5h1M224 67.5h1M223 64.5h1M228 68.5h1M204 64.5h1M198 73.5h1M216 64.5h1M195 67.5h1M205 64.5h1M206 69.5h1M208 63.5h1M210 64.5h1M235 61.5h1M221 66.5h1M229 66.5h1M210 69.5h1M222 68.5h1M207 69.5h1M214 63.5h1M204 62.5h1M196 70.5h1M231 69.5h1M216 64.5h1M240 68.5h1M229 69.5h1M191 63.5h1M211 67.5h1M222 60.5h1M212 69.5h1M208 60.5h1M213 64.5h1M227 70.5h1M212 59.5h1M205 69.5h1M232 64.5h1M205 62.5h1M210 67.5h1M202 70.5h1M238 68.5h1M207 64.5h1M229 69.5h1M219 64.5h1M232 64.5h1M210 67.5h1M234 61.5h1M209 62.5h1M199 62.5h1M222 67.5h1M228 70.5h1M234 64.5h1M199 62.5h1M227 66.5h1M260 69.5h1M215 68.5h1M228 67.5h1M201 71.5h1M223 73.5h1M186 102.5h1M200 109.5h1M190 112.5h1M188 113.5h1M190 104.5h1M185 108.5h1M186 110.5h1M198 102.5h1M200 102.5h1M189 99.5h1M194 108.5h1M185 102.5h1M190 108.5h1M188 110.5h1M199 103.5h1M197 112.5h1M192 102.5h1M188 101.5h1M181 110.5h1M190 110.5h1M182 93.5h1M194 109.5h1M190 113.5h1M186 109.5h1M184 92.5h1M183 93.5h1M189 104.5h1M192 104.5h1M177 108.5h1M195 114.5h1M192 108.5h1M186 106.5h1M198 104.5h1M193 104.5h1M187 114.5h1M190 112.5h1M188 99.5h1M193 108.5h1M197 108.5h1M191 115.5h1M184 107.5h1M216 101.5h1M220 85.5h1M183 96.5h1M242 79.5h1M225 86.5h1M230 84.5h1M226 75.5h1M219 90.5h1M216 94.5h1M233 95.5h1M229 96.5h1" stroke="#000" stroke-opacity="0.32" stroke-width="1"/>
<path d="M214 67.5h1M219 68.5h1M217 65.5h1M221 73.5h1M225 70.5h1M201 66.5h1M221 66.5h1M192 65.5h1M205 64.5h1M200 72.5h1M227 65.5h1M202 66.5h1M200 69.5h1M216 57.5h1M223 68.5h1M198 70.5h1M231 68.5h1M222 74.5h1M206 67.5h1M210 64.5h1M208 66.5h1M221 72.5h1M202 67.5h1M222 65.5h1M228 66.5h1M226 70.5h1M221 73.5h1M219 68.5h1M220 74.5h1M217 63.5h1M200 69.5h1M225 64.5h1M218 70.5h1M206 66.5h1M221 65.5h1M194 68.5h1M197 67.5h1M224 65.5h1M202 67.5h1M206 69.5h1M209 64.5h1M208 68.5h1M204 65.5h1M195 61.5h1M212 58.5h1M234 64.5h1M218 72.5h1M241 71.5h1M225 72.5h1M220 61.5h1M205 68.5h1M209 72.5h1M202 71.5h1M214 74.5h1M232 75.5h1M218 71.5h1M204 62.5h1M230 67.5h1M225 72.5h1M210 73.5h1M207 68.5h1M194 63.5h1M205 64.5h1M226 72.5h1M228 65.5h1M214 68.5h1M222 62.5h1M230 71.5h1M235 69.5h1M220 77.5h1M200 67.5h1M209 58.5h1M233 64.5h1M203 63.5h1M193 69.5h1M231 65.5h1M194 71.5h1M201 65.5h1M198 62.5h1M229 68.5h1M204 68.5h1M203 63.5h1M215 70.5h1M216 68.5h1M206 71.5h1M221 72.5h1M212 71.5h1M210 62.5h1M226 67.5h1M218 65.5h1M199 72.5h1M196 73.5h1M219 74.5h1M250 68.5h1M237 59.5h1M176 67.5h1M217 60.5h1M241 71.5h1M184 64.5h1M214 70.5h1M208 74.5h1M213 65.5h1M247 70.5h1M201 61.5h1M183 115.5h1M185 97.5h1M188 108.5h1M179 104.5h1M184 106.5h1M193 103.5h1M181 98.5h1M189 108.5h1M183 106.5h1M197 99.5h1M179 112.5h1M188 104.5h1M189 110.5h1M187 101.5h1M189 113.5h1M191 109.5h1M181 109.5h1M193 103.5h1M184 98.5h1M196 117.5h1M196 102.5h1M194 104.5h1M186 97.5h1M191 102.5h1M188 108.5h1M189 111.5h1M184 104.5h1M183 94.5h1M183 100.5h1M196 100.5h1M194 107.5h1M180 115.5h1M181 113.5h1M184 107.5h1M184 101.5h1M191 99.5h1M196 92.5h1M189 118.5h1M191 94.5h1M183 108.5h1M189 104.5h1M190 111.5h1M191 114.5h1M182 105.5h1M184 106.5h1M185 115.5h1M190 104.5h1M189 102.5h1M183 96.5h1M185 104.5h1M197 112.5h1M185 98.5h1M196 111.5h1M188 101.5h1M192 107.5h1M193 106.5h1M180 107.5h1M176 106.5h1M225 102.5h1M195 84.5h1M178 106.5h1M216 110.5h1M186 86.5h1M225 90.5h1M191 95.5h1M185 107.5h1M241 99.5h1M232 99.5h1M235 93.5h1M239 100.5h1" stroke="#000" stroke-opacity="0.32" stroke-width="1"/>
<rect x="174" y="54" width="94.7" height="66.1" fill="none" stroke="#3c3c3c" stroke-width="1"/>
<path d="M214.6 54V120.1M174 82.3H268.7" stroke="#3c3c3c" stroke-width="1" fill="none"/>
<text x="205.1" y="75.9" font-size="4.3" text-anchor="middle" fill="#222" stroke="#222" stroke-width="0.12" font-weight="bold">Q1</text>
<text x="223.1" y="75.9" font-size="4.3" text-anchor="middle" fill="#222" stroke="#222" stroke-width="0.12" font-weight="bold">Q2</text>
<text x="205.1" y="93.9" font-size="4.3" text-anchor="middle" fill="#222" stroke="#222" stroke-width="0.12" font-weight="bold">Q3</text>
<text x="223.1" y="93.9" font-size="4.3" text-anchor="middle" fill="#222" stroke="#222" stroke-width="0.12" font-weight="bold">Q4</text>
<path d="M174 62.3h-3M174 73.62h-1.8M174 70.77h-1.8M174 68.75h-1.8M174 67.18h-1.8M174 65.89h-1.8M174 64.81h-1.8M174 63.87h-1.8M174 63.04h-1.8M174 78.5h-3M174 89.82h-1.8M174 86.97h-1.8M174 84.95h-1.8M174 83.38h-1.8M174 82.09h-1.8M174 81.01h-1.8M174 80.07h-1.8M174 79.24h-1.8M174 94.7h-3M174 106.02h-1.8M174 103.17h-1.8M174 101.15h-1.8M174 99.58h-1.8M174 98.29h-1.8M174 97.21h-1.8M174 96.27h-1.8M174 95.44h-1.8M174 110.9h-3M174 119.37h-1.8M174 117.35h-1.8M174 115.78h-1.8M174 114.49h-1.8M174 113.41h-1.8M174 112.47h-1.8M174 111.64h-1.8M175.85 120.1v1.8M178.8 120.1v1.8M181.09 120.1v1.8M182.96 120.1v1.8M184.54 120.1v1.8M185.91 120.1v1.8M187.12 120.1v1.8M188.2 120.1v3M195.31 120.1v1.8M199.47 120.1v1.8M202.42 120.1v1.8M204.71 120.1v1.8M206.58 120.1v1.8M208.16 120.1v1.8M209.53 120.1v1.8M210.74 120.1v1.8M211.82 120.1v3M218.93 120.1v1.8M223.09 120.1v1.8M226.04 120.1v1.8M228.33 120.1v1.8M230.2 120.1v1.8M231.78 120.1v1.8M233.15 120.1v1.8M234.36 120.1v1.8M235.44 120.1v3M242.55 120.1v1.8M246.71 120.1v1.8M249.66 120.1v1.8M251.95 120.1v1.8M253.82 120.1v1.8M255.4 120.1v1.8M256.77 120.1v1.8M257.98 120.1v1.8M259.06 120.1v3M266.17 120.1v1.8" stroke="#333" stroke-width="0.8" fill="none"/>
<text x="168.4" y="64.6" font-size="6.3" text-anchor="end" fill="#1e1e1e" stroke="#1e1e1e" stroke-width="0.25">10<tspan font-size="3.9" dy="-3.0">5</tspan></text>
<text x="168.4" y="80.8" font-size="6.3" text-anchor="end" fill="#1e1e1e" stroke="#1e1e1e" stroke-width="0.25">10<tspan font-size="3.9" dy="-3.0">4</tspan></text>
<text x="168.4" y="97" font-size="6.3" text-anchor="end" fill="#1e1e1e" stroke="#1e1e1e" stroke-width="0.25">10<tspan font-size="3.9" dy="-3.0">3</tspan></text>
<text x="168.4" y="113.2" font-size="6.3" text-anchor="end" fill="#1e1e1e" stroke="#1e1e1e" stroke-width="0.25">10<tspan font-size="3.9" dy="-3.0">2</tspan></text>
<text x="188.2" y="132.7" font-size="6.3" text-anchor="middle" fill="#1e1e1e" stroke="#1e1e1e" stroke-width="0.25">10<tspan font-size="3.9" dy="-3.0">2</tspan></text>
<text x="211.82" y="132.7" font-size="6.3" text-anchor="middle" fill="#1e1e1e" stroke="#1e1e1e" stroke-width="0.25">10<tspan font-size="3.9" dy="-3.0">3</tspan></text>
<text x="235.44" y="132.7" font-size="6.3" text-anchor="middle" fill="#1e1e1e" stroke="#1e1e1e" stroke-width="0.25">10<tspan font-size="3.9" dy="-3.0">4</tspan></text>
<text x="259.06" y="132.7" font-size="6.3" text-anchor="middle" fill="#1e1e1e" stroke="#1e1e1e" stroke-width="0.25">10<tspan font-size="3.9" dy="-3.0">5</tspan></text>
<path d="M329 69.5h1M338 69.5h1M342 67.5h1M347 66.5h1M343 67.5h1M356 70.5h1M344 68.5h1M341 66.5h1M331 65.5h1M351 64.5h1M333 76.5h1M326 61.5h1M357 67.5h1M339 65.5h1M326 68.5h1M342 67.5h1M350 63.5h1M340 66.5h1M334 68.5h1M337 69.5h1M329 62.5h1M337 68.5h1M348 76.5h1M321 70.5h1M342 56.5h1M353 73.5h1M335 62.5h1M328 65.5h1M354 74.5h1M368 81.5h1M342 73.5h1M339 70.5h1M308 72.5h1M350 76.5h1M316 72.5h1M326 69.5h1M359 70.5h1M319 65.5h1M316 71.5h1M338 69.5h1M324 68.5h1M339 69.5h1M331 69.5h1M337 74.5h1M336 71.5h1M334 63.5h1M328 64.5h1M346 82.5h1M324 67.5h1M355 65.5h1M359 61.5h1M317 69.5h1M340 66.5h1M324 63.5h1M370 68.5h1M322 72.5h1M337 65.5h1M323 68.5h1M321 71.5h1M335 72.5h1M348 68.5h1M330 76.5h1M351 67.5h1M330 78.5h1M359 69.5h1M313 72.5h1M322 68.5h1M342 73.5h1M333 69.5h1M336 67.5h1M322 68.5h1M319 69.5h1M349 70.5h1M321 64.5h1M345 69.5h1M314 67.5h1M356 70.5h1M358 68.5h1M348 61.5h1M356 61.5h1M331 60.5h1M347 67.5h1M335 65.5h1M324 67.5h1M355 71.5h1M349 68.5h1M346 67.5h1M346 75.5h1M313 76.5h1M355 72.5h1M316 66.5h1M324 65.5h1M344 69.5h1M353 63.5h1M322 67.5h1M314 74.5h1M336 66.5h1M345 63.5h1M362 72.5h1M349 66.5h1M336 68.5h1M348 67.5h1M357 69.5h1M344 67.5h1M328 69.5h1M331 65.5h1M344 74.5h1M334 69.5h1M342 66.5h1M343 73.5h1M329 68.5h1M353 66.5h1M350 66.5h1M339 74.5h1M335 68.5h1M317 69.5h1M350 67.5h1M331 72.5h1M325 71.5h1M324 73.5h1M343 67.5h1M348 72.5h1M310 72.5h1M327 67.5h1M347 67.5h1M340 71.5h1M319 62.5h1M335 71.5h1M338 68.5h1M329 71.5h1M324 72.5h1M319 65.5h1M355 58.5h1M333 66.5h1M352 65.5h1M340 73.5h1M342 67.5h1M338 71.5h1M327 68.5h1M318 64.5h1M339 71.5h1M324 65.5h1M341 65.5h1M337 67.5h1M320 65.5h1M348 76.5h1M361 63.5h1M330 63.5h1M346 70.5h1M327 69.5h1M333 66.5h1M341 74.5h1M335 71.5h1M350 70.5h1M333 73.5h1M356 68.5h1M335 62.5h1M342 64.5h1M348 64.5h1M323 72.5h1M338 69.5h1M346 73.5h1M351 72.5h1M353 70.5h1M340 73.5h1M342 69.5h1M341 69.5h1M340 75.5h1M339 75.5h1M340 72.5h1M344 70.5h1M344 80.5h1M342 70.5h1M344 73.5h1M343 71.5h1M341 69.5h1M340 71.5h1M348 68.5h1M336 81.5h1M344 73.5h1M332 76.5h1M342 73.5h1M341 68.5h1M340 77.5h1M339 71.5h1M344 75.5h1M342 75.5h1M338 70.5h1M338 75.5h1M338 76.5h1M345 75.5h1M339 79.5h1M342 70.5h1M341 70.5h1M345 77.5h1M344 73.5h1M344 71.5h1M345 69.5h1M340 72.5h1M346 74.5h1M342 76.5h1M342 69.5h1M345 74.5h1M343 73.5h1M349 74.5h1M343 75.5h1M350 72.5h1M334 72.5h1M345 73.5h1M342 73.5h1M342 71.5h1M336 73.5h1M339 73.5h1M348 74.5h1M347 74.5h1M347 74.5h1M343 73.5h1M311 68.5h1M324 78.5h1M383 65.5h1M300 69.5h1M338 74.5h1M353 78.5h1M336 63.5h1M325 66.5h1M339 66.5h1M332 73.5h1M311 68.5h1M326 63.5h1M331 63.5h1M337 74.5h1M327 66.5h1M357 71.5h1M306 77.5h1M370 62.5h1M345 73.5h1M371 67.5h1M345 64.5h1M342 71.5h1M324 71.5h1M338 71.5h1M309 66.5h1M313 70.5h1M325 62.5h1M344 70.5h1M374 76.5h1M341 76.5h1M313 60.5h1M341 65.5h1M322 75.5h1M340 75.5h1M340 64.5h1M347 72.5h1M363 70.5h1M327 69.5h1M359 60.5h1M344 71.5h1M321 92.5h1M306 91.5h1M310 92.5h1M305 87.5h1M307 90.5h1M310 94.5h1M302 88.5h1M310 86.5h1M307 96.5h1M304 88.5h1M318 87.5h1M305 87.5h1M301 91.5h1M312 90.5h1M307 88.5h1M313 86.5h1M305 89.5h1M317 93.5h1M303 91.5h1M304 91.5h1M311 83.5h1M305 90.5h1M307 88.5h1M309 81.5h1M314 94.5h1M310 87.5h1M306 84.5h1M308 88.5h1M313 85.5h1M310 87.5h1M315 96.5h1M306 82.5h1M303 91.5h1M306 83.5h1M302 91.5h1M310 93.5h1M305 86.5h1M303 85.5h1M311 88.5h1M321 87.5h1M304 78.5h1M321 86.5h1M308 87.5h1M310 83.5h1M317 88.5h1M307 91.5h1M305 93.5h1M305 90.5h1M315 96.5h1M305 94.5h1M310 86.5h1M307 98.5h1M310 88.5h1M311 87.5h1M299 91.5h1M313 91.5h1M303 89.5h1M308 90.5h1M308 89.5h1M303 89.5h1M311 91.5h1M302 87.5h1M307 84.5h1M310 87.5h1M308 84.5h1M297 88.5h1M318 98.5h1M311 82.5h1M318 93.5h1M319 93.5h1M307 85.5h1M305 89.5h1M313 88.5h1M303 85.5h1M306 85.5h1M303 93.5h1M310 90.5h1M305 85.5h1M308 86.5h1M309 97.5h1M302 88.5h1M306 93.5h1M305 90.5h1M299 95.5h1M299 87.5h1M308 89.5h1M312 87.5h1M316 84.5h1M315 88.5h1M308 91.5h1M319 90.5h1M300 87.5h1M298 83.5h1M309 91.5h1M314 79.5h1M311 85.5h1M311 82.5h1M313 93.5h1M312 86.5h1M312 86.5h1M303 89.5h1M310 92.5h1M310 91.5h1M307 90.5h1M316 89.5h1M330 98.5h1M338 79.5h1M331 114.5h1M327 86.5h1M322 97.5h1" stroke="#000" stroke-opacity="0.32" stroke-width="1"/>
<path d="M356 64.5h1M355 64.5h1M320 64.5h1M371 74.5h1M337 62.5h1M352 69.5h1M372 65.5h1M314 70.5h1M324 70.5h1M373 67.5h1M332 67.5h1M343 60.5h1M356 64.5h1M339 64.5h1M340 80.5h1M329 71.5h1M345 68.5h1M326 70.5h1M335 73.5h1M343 67.5h1M350 75.5h1M346 63.5h1M359 66.5h1M358 71.5h1M341 71.5h1M348 75.5h1M318 71.5h1M313 63.5h1M349 73.5h1M361 59.5h1M323 73.5h1M334 67.5h1M313 66.5h1M327 68.5h1M353 59.5h1M321 66.5h1M366 73.5h1M349 64.5h1M360 67.5h1M328 77.5h1M327 70.5h1M347 68.5h1M326 68.5h1M354 68.5h1M315 70.5h1M349 61.5h1M346 77.5h1M361 66.5h1M318 68.5h1M336 71.5h1M341 70.5h1M350 73.5h1M370 68.5h1M348 71.5h1M351 76.5h1M357 62.5h1M318 67.5h1M334 65.5h1M350 75.5h1M342 64.5h1M325 68.5h1M339 69.5h1M335 70.5h1M367 62.5h1M344 72.5h1M337 67.5h1M342 69.5h1M358 73.5h1M330 65.5h1M353 70.5h1M352 69.5h1M321 70.5h1M360 74.5h1M373 71.5h1M368 70.5h1M343 66.5h1M323 70.5h1M349 68.5h1M320 65.5h1M312 73.5h1M349 64.5h1M326 65.5h1M305 73.5h1M334 65.5h1M342 67.5h1M315 68.5h1M351 70.5h1M353 72.5h1M336 61.5h1M352 71.5h1M357 71.5h1M354 66.5h1M370 68.5h1M329 57.5h1M320 65.5h1M320 66.5h1M342 71.5h1M323 69.5h1M318 72.5h1M351 68.5h1M339 73.5h1M348 64.5h1M342 66.5h1M330 68.5h1M335 64.5h1M333 68.5h1M351 73.5h1M328 71.5h1M343 62.5h1M355 68.5h1M352 76.5h1M350 73.5h1M350 66.5h1M332 71.5h1M344 66.5h1M359 71.5h1M326 69.5h1M340 68.5h1M364 70.5h1M356 70.5h1M319 74.5h1M358 66.5h1M356 75.5h1M340 76.5h1M316 65.5h1M338 64.5h1M352 65.5h1M324 71.5h1M346 73.5h1M329 58.5h1M358 68.5h1M339 67.5h1M317 70.5h1M334 72.5h1M317 62.5h1M322 63.5h1M327 70.5h1M334 76.5h1M361 70.5h1M344 64.5h1M372 80.5h1M360 74.5h1M318 70.5h1M342 65.5h1M352 66.5h1M309 63.5h1M321 65.5h1M329 60.5h1M347 69.5h1M321 70.5h1M326 65.5h1M331 70.5h1M339 64.5h1M336 71.5h1M335 71.5h1M317 62.5h1M369 60.5h1M364 67.5h1M317 64.5h1M333 75.5h1M329 72.5h1M358 72.5h1M326 72.5h1M297 67.5h1M309 67.5h1M346 75.5h1M338 66.5h1M330 70.5h1M354 67.5h1M329 75.5h1M327 70.5h1M351 67.5h1M330 67.5h1M361 70.5h1M342 65.5h1M337 68.5h1M339 73.5h1M354 68.5h1M328 61.5h1M334 63.5h1M349 71.5h1M351 70.5h1M340 71.5h1M345 71.5h1M333 74.5h1M340 71.5h1M344 72.5h1M342 73.5h1M333 69.5h1M341 68.5h1M339 75.5h1M335 71.5h1M336 75.5h1M337 73.5h1M345 69.5h1M340 73.5h1M337 74.5h1M348 76.5h1M340 73.5h1M336 76.5h1M344 74.5h1M343 72.5h1M328 76.5h1M342 70.5h1M343 71.5h1M342 72.5h1M339 74.5h1M329 74.5h1M335 74.5h1M341 72.5h1M327 77.5h1M347 73.5h1M331 74.5h1M339 73.5h1M343 73.5h1M346 74.5h1M345 74.5h1M337 76.5h1M342 74.5h1M341 76.5h1M351 71.5h1M341 71.5h1M344 72.5h1M336 75.5h1M337 73.5h1M345 73.5h1M349 71.5h1M342 72.5h1M354 71.5h1M344 75.5h1M337 74.5h1M336 72.5h1M337 73.5h1M341 73.5h1M345 77.5h1M336 73.5h1M344 74.5h1M339 74.5h1M343 74.5h1M346 72.5h1M338 73.5h1M332 71.5h1M344 71.5h1M344 71.5h1M341 71.5h1M345 76.5h1M319 63.5h1M357 74.5h1M332 73.5h1M328 71.5h1M325 75.5h1M372 73.5h1M301 71.5h1M340 77.5h1M307 59.5h1M359 68.5h1M308 66.5h1M342 70.5h1M350 67.5h1M330 59.5h1M349 82.5h1M332 71.5h1M357 66.5h1M327 73.5h1M333 68.5h1M337 68.5h1M354 67.5h1M331 63.5h1M349 64.5h1M332 66.5h1M321 77.5h1M320 72.5h1M328 65.5h1M314 58.5h1M308 88.5h1M305 92.5h1M306 83.5h1M313 88.5h1M309 91.5h1M314 82.5h1M307 86.5h1M310 95.5h1M304 78.5h1M311 86.5h1M299 95.5h1M313 93.5h1M313 84.5h1M314 85.5h1M314 96.5h1M309 89.5h1M306 88.5h1M312 95.5h1M316 86.5h1M320 87.5h1M301 92.5h1M313 88.5h1M296 86.5h1M311 88.5h1M313 91.5h1M309 92.5h1M310 93.5h1M312 88.5h1M303 86.5h1M301 86.5h1M315 87.5h1M308 88.5h1M309 90.5h1M316 88.5h1M307 94.5h1M298 81.5h1M317 88.5h1M305 93.5h1M304 90.5h1M316 90.5h1M307 94.5h1M308 84.5h1M308 91.5h1M306 90.5h1M322 94.5h1M308 85.5h1M311 89.5h1M308 93.5h1M309 87.5h1M310 91.5h1M308 89.5h1M312 91.5h1M313 87.5h1M311 92.5h1M309 86.5h1M320 90.5h1M315 84.5h1M312 79.5h1M304 88.5h1M299 90.5h1M302 90.5h1M306 90.5h1M315 84.5h1M307 83.5h1M305 91.5h1M309 90.5h1M301 87.5h1M311 86.5h1M310 81.5h1M310 86.5h1M309 90.5h1M320 89.5h1M312 92.5h1M306 87.5h1M304 94.5h1M305 89.5h1M320 83.5h1M315 86.5h1M315 84.5h1M303 88.5h1M309 87.5h1M300 92.5h1M306 86.5h1M306 92.5h1M301 98.5h1M310 87.5h1M313 84.5h1M309 87.5h1M309 85.5h1M298 84.5h1M317 88.5h1M311 89.5h1M314 87.5h1M305 89.5h1M314 89.5h1M312 87.5h1M297 92.5h1M312 83.5h1M311 85.5h1M314 88.5h1M309 91.5h1M296 85.5h1M315 85.5h1M307 89.5h1M309 88.5h1M315 93.5h1M306 84.5h1M321 84.5h1M302 89.5h1M314 88.5h1M314 85.5h1M316 87.5h1M308 91.5h1M303 85.5h1M317 80.5h1M328 102.5h1M368 99.5h1M359 87.5h1M370 90.5h1M302 96.5h1M331 75.5h1M316 102.5h1M303 96.5h1" stroke="#000" stroke-opacity="0.32" stroke-width="1"/>
<path d="M318 69.5h1M329 70.5h1M333 74.5h1M358 67.5h1M329 70.5h1M342 71.5h1M321 75.5h1M364 71.5h1M329 64.5h1M346 67.5h1M321 64.5h1M348 79.5h1M366 73.5h1M311 64.5h1M338 63.5h1M367 73.5h1M316 73.5h1M336 74.5h1M349 68.5h1M331 68.5h1M315 71.5h1M334 66.5h1M327 65.5h1M343 70.5h1M328 71.5h1M319 69.5h1M316 63.5h1M322 64.5h1M353 67.5h1M327 68.5h1M341 74.5h1M350 69.5h1M347 66.5h1M322 68.5h1M350 72.5h1M321 75.5h1M333 68.5h1M332 67.5h1M358 73.5h1M326 68.5h1M323 69.5h1M355 70.5h1M352 68.5h1M328 66.5h1M337 71.5h1M332 68.5h1M322 65.5h1M322 72.5h1M326 69.5h1M344 71.5h1M339 70.5h1M342 63.5h1M327 66.5h1M343 66.5h1M336 63.5h1M332 68.5h1M362 70.5h1M331 72.5h1M347 63.5h1M346 80.5h1M325 66.5h1M342 67.5h1M327 70.5h1M345 65.5h1M333 72.5h1M351 74.5h1M360 68.5h1M345 70.5h1M339 68.5h1M348 79.5h1M332 66.5h1M337 70.5h1M351 71.5h1M345 63.5h1M327 69.5h1M320 69.5h1M350 65.5h1M328 66.5h1M345 65.5h1M342 66.5h1M323 72.5h1M347 68.5h1M366 66.5h1M313 69.5h1M339 71.5h1M324 67.5h1M324 63.5h1M340 73.5h1M358 72.5h1M356 70.5h1M358 62.5h1M340 66.5h1M345 68.5h1M328 72.5h1M334 78.5h1M327 73.5h1M333 68.5h1M346 71.5h1M319 67.5h1M335 70.5h1M354 72.5h1M363 68.5h1M360 71.5h1M358 64.5h1M364 67.5h1M329 65.5h1M331 61.5h1M371 62.5h1M361 72.5h1M341 63.5h1M337 68.5h1M348 67.5h1M366 64.5h1M355 68.5h1M351 73.5h1M321 74.5h1M333 64.5h1M351 69.5h1M311 70.5h1M356 68.5h1M341 68.5h1M370 73.5h1M327 64.5h1M329 70.5h1M342 71.5h1M354 69.5h1M338 56.5h1M317 69.5h1M341 68.5h1M346 67.5h1M355 66.5h1M356 71.5h1M336 62.5h1M368 61.5h1M362 61.5h1M330 68.5h1M334 61.5h1M327 69.5h1M347 77.5h1M351 66.5h1M364 67.5h1M333 72.5h1M333 63.5h1M333 72.5h1M359 65.5h1M357 67.5h1M354 62.5h1M321 65.5h1M336 67.5h1M342 68.5h1M371 63.5h1M325 74.5h1M354 64.5h1M367 68.5h1M372 68.5h1M369 67.5h1M362 69.5h1M332 66.5h1M349 64.5h1M358 69.5h1M355 73.5h1M348 77.5h1M348 66.5h1M340 69.5h1M354 72.5h1M326 63.5h1M369 66.5h1M339 64.5h1M336 75.5h1M342 68.5h1M347 70.5h1M351 67.5h1M344 69.5h1M335 73.5h1M349 71.5h1M336 76.5h1M347 72.5h1M348 73.5h1M343 73.5h1M344 76.5h1M350 74.5h1M347 76.5h1M348 73.5h1M337 73.5h1M345 76.5h1M346 73.5h1M345 71.5h1M334 75.5h1M345 74.5h1M335 70.5h1M339 74.5h1M343 74.5h1M346 74.5h1M340 71.5h1M343 71.5h1M350 72.5h1M344 74.5h1M342 75.5h1M339 69.5h1M342 72.5h1M344 66.5h1M336 72.5h1M340 72.5h1M340 76.5h1M340 76.5h1M342 79.5h1M354 69.5h1M330 74.5h1M346 75.5h1M344 73.5h1M341 70.5h1M343 76.5h1M339 75.5h1M342 76.5h1M340 69.5h1M347 70.5h1M339 77.5h1M339 74.5h1M342 75.5h1M345 71.5h1M338 74.5h1M349 75.5h1M332 76.5h1M335 75.5h1M341 73.5h1M339 73.5h1M344 77.5h1M341 76.5h1M354 72.5h1M333 70.5h1M366 71.5h1M357 68.5h1M345 63.5h1M325 65.5h1M319 72.5h1M356 68.5h1M317 72.5h1M357 65.5h1M335 69.5h1M322 68.5h1M323 65.5h1M313 67.5h1M331 78.5h1M351 71.5h1M333 64.5h1M350 64.5h1M311 72.5h1M329 75.5h1M349 61.5h1M343 81.5h1M354 67.5h1M301 92.5h1M312 89.5h1M313 90.5h1M311 89.5h1M306 80.5h1M307 91.5h1M307 84.5h1M300 91.5h1M312 88.5h1M317 94.5h1M317 88.5h1M305 89.5h1M306 84.5h1M309 90.5h1M305 86.5h1M304 85.5h1M302 91.5h1M310 95.5h1M308 89.5h1M308 90.5h1M306 91.5h1M314 90.5h1M321 97.5h1M314 87.5h1M308 85.5h1M307 93.5h1M307 85.5h1M311 92.5h1M313 80.5h1M314 92.5h1M316 93.5h1M310 97.5h1M307 83.5h1M317 94.5h1M300 85.5h1M306 85.5h1M312 94.5h1M307 93.5h1M305 88.5h1M310 85.5h1M313 88.5h1M309 95.5h1M305 91.5h1M309 88.5h1M313 90.5h1M321 92.5h1M302 79.5h1M306 79.5h1M316 88.5h1M303 87.5h1M323 91.5h1M305 84.5h1M303 91.5h1M309 80.5h1M309 84.5h1M309 92.5h1M310 85.5h1M314 96.5h1M304 93.5h1M312 92.5h1M302 94.5h1M310 95.5h1M323 82.5h1M308 81.5h1M316 88.5h1M306 88.5h1M300 84.5h1M309 86.5h1M300 83.5h1M305 95.5h1M310 88.5h1M314 89.5h1M301 90.5h1M316 87.5h1M303 88.5h1M314 92.5h1M309 86.5h1M314 89.5h1M310 88.5h1M311 86.5h1M311 92.5h1M309 94.5h1M319 84.5h1M309 88.5h1M311 88.5h1M309 95.5h1M303 94.5h1M315 90.5h1M299 89.5h1M312 89.5h1M318 93.5h1M314 79.5h1M310 85.5h1M305 90.5h1M310 85.5h1M310 87.5h1M306 89.5h1M311 83.5h1M303 87.5h1M327 105.5h1M329 102.5h1M348 113.5h1M346 91.5h1M300 91.5h1M295 99.5h1M333 106.5h1M319 73.5h1M313 102.5h1" stroke="#000" stroke-opacity="0.32" stroke-width="1"/>
<path d="M323 72.5h1M309 67.5h1M326 67.5h1M354 65.5h1M338 65.5h1M349 68.5h1M313 66.5h1M353 66.5h1M329 70.5h1M351 77.5h1M342 63.5h1M340 67.5h1M330 65.5h1M336 66.5h1M349 66.5h1M321 66.5h1M376 72.5h1M358 66.5h1M318 71.5h1M310 73.5h1M353 72.5h1M322 71.5h1M353 74.5h1M353 67.5h1M325 62.5h1M362 69.5h1M318 71.5h1M319 65.5h1M342 71.5h1M340 69.5h1M359 69.5h1M336 65.5h1M326 72.5h1M335 70.5h1M326 69.5h1M343 68.5h1M325 77.5h1M333 70.5h1M320 67.5h1M317 73.5h1M319 66.5h1M337 65.5h1M358 66.5h1M335 72.5h1M332 73.5h1M353 73.5h1M335 68.5h1M320 70.5h1M310 64.5h1M319 73.5h1M329 63.5h1M336 72.5h1M368 67.5h1M325 76.5h1M345 63.5h1M344 66.5h1M341 70.5h1M358 61.5h1M318 69.5h1M375 69.5h1M310 71.5h1M337 64.5h1M340 69.5h1M331 72.5h1M356 78.5h1M312 69.5h1M328 63.5h1M316 71.5h1M318 69.5h1M349 68.5h1M339 64.5h1M328 67.5h1M314 60.5h1M346 64.5h1M361 71.5h1M333 67.5h1M325 74.5h1M326 70.5h1M355 68.5h1M355 63.5h1M331 67.5h1M320 68.5h1M351 65.5h1M321 73.5h1M331 66.5h1M341 68.5h1M352 72.5h1M339 65.5h1M346 69.5h1M337 71.5h1M342 61.5h1M343 67.5h1M351 65.5h1M342 63.5h1M332 75.5h1M358 72.5h1M337 71.5h1M336 67.5h1M323 61.5h1M341 72.5h1M355 67.5h1M324 63.5h1M314 66.5h1M349 71.5h1M334 74.5h1M335 73.5h1M335 65.5h1M346 67.5h1M348 71.5h1M369 74.5h1M321 65.5h1M374 65.5h1M365 65.5h1M352 71.5h1M324 65.5h1M342 65.5h1M356 68.5h1M354 69.5h1M334 77.5h1M357 67.5h1M331 61.5h1M353 69.5h1M344 71.5h1M334 70.5h1M332 76.5h1M329 66.5h1M337 72.5h1M310 70.5h1M328 63.5h1M335 65.5h1M332 70.5h1M335 66.5h1M334 74.5h1M365 68.5h1M347 66.5h1M321 71.5h1M321 67.5h1M347 65.5h1M337 68.5h1M348 73.5h1M346 64.5h1M331 71.5h1M339 63.5h1M311 72.5h1M375 67.5h1M320 64.5h1M364 70.5h1M371 66.5h1M340 68.5h1M348 69.5h1M349 65.5h1M336 69.5h1M332 68.5h1M347 64.5h1M345 69.5h1M335 66.5h1M351 65.5h1M338 67.5h1M325 67.5h1M314 70.5h1M343 72.5h1M343 74.5h1M339 72.5h1M338 75.5h1M340 75.5h1M340 73.5h1M341 74.5h1M345 76.5h1M344 78.5h1M344 76.5h1M340 73.5h1M337 73.5h1M338 72.5h1M337 72.5h1M349 76.5h1M334 73.5h1M342 73.5h1M342 75.5h1M341 72.5h1M340 71.5h1M341 69.5h1M342 74.5h1M342 77.5h1M343 72.5h1M338 72.5h1M339 74.5h1M336 74.5h1M340 77.5h1M334 73.5h1M341 75.5h1M341 72.5h1M338 77.5h1M334 70.5h1M337 74.5h1M338 71.5h1M339 73.5h1M343 74.5h1M345 69.5h1M342 70.5h1M345 67.5h1M338 78.5h1M340 71.5h1M348 73.5h1M338 76.5h1M335 74.5h1M347 73.5h1M338 74.5h1M343 75.5h1M344 72.5h1M343 72.5h1M340 74.5h1M340 72.5h1M339 77.5h1M338 70.5h1M340 71.5h1M343 75.5h1M340 72.5h1M337 72.5h1M342 75.5h1M345 77.5h1M344 64.5h1M359 71.5h1M312 69.5h1M330 63.5h1M356 61.5h1M371 77.5h1M331 61.5h1M326 64.5h1M340 63.5h1M303 61.5h1M303 73.5h1M365 69.5h1M347 71.5h1M356 68.5h1M339 70.5h1M320 69.5h1M360 68.5h1M339 70.5h1M310 77.5h1M348 61.5h1M351 71.5h1M358 71.5h1M300 84.5h1M345 61.5h1M309 87.5h1M310 89.5h1M315 94.5h1M304 86.5h1M301 85.5h1M305 85.5h1M303 88.5h1M313 88.5h1M306 85.5h1M312 85.5h1M312 92.5h1M311 96.5h1M303 91.5h1M305 90.5h1M304 89.5h1M311 97.5h1M308 93.5h1M315 93.5h1M307 93.5h1M301 81.5h1M307 90.5h1M300 86.5h1M316 85.5h1M316 83.5h1M305 83.5h1M311 91.5h1M303 84.5h1M304 90.5h1M312 86.5h1M304 84.5h1M304 90.5h1M305 85.5h1M316 91.5h1M301 89.5h1M312 77.5h1M316 87.5h1M305 92.5h1M307 92.5h1M308 91.5h1M307 87.5h1M311 89.5h1M300 87.5h1M302 90.5h1M311 86.5h1M300 77.5h1M303 81.5h1M319 82.5h1M309 94.5h1M311 87.5h1M314 88.5h1M310 95.5h1M304 93.5h1M311 87.5h1M307 86.5h1M313 91.5h1M306 86.5h1M306 87.5h1M316 93.5h1M295 93.5h1M303 89.5h1M307 86.5h1M306 83.5h1M313 86.5h1M309 86.5h1M303 80.5h1M309 85.5h1M312 88.5h1M313 93.5h1M297 85.5h1M304 86.5h1M306 87.5h1M298 91.5h1M309 89.5h1M310 85.5h1M306 88.5h1M312 95.5h1M312 93.5h1M314 82.5h1M309 88.5h1M314 92.5h1M316 89.5h1M304 90.5h1M306 88.5h1M316 86.5h1M307 86.5h1M311 87.5h1M309 81.5h1M310 86.5h1M302 86.5h1M312 82.5h1M313 88.5h1M297 86.5h1M311 86.5h1M313 93.5h1M309 87.5h1M306 86.5h1M309 90.5h1M314 82.5h1M305 85.5h1M305 84.5h1M321 88.5h1M309 88.5h1M301 81.5h1M314 90.5h1M309 94.5h1M303 91.5h1M313 91.5h1M307 85.5h1M315 82.5h1M300 90.5h1M302 87.5h1M304 93.5h1M317 87.5h1M309 81.5h1M296 97.5h1M310 90.5h1M307 109.5h1M317 97.5h1M323 113.5h1M318 100.5h1M319 84.5h1M305 81.5h1M313 92.5h1M334 72.5h1M334 106.5h1M318 113.5h1" stroke="#000" stroke-opacity="0.32" stroke-width="1"/>
<path d="M354 70.5h1M340 72.5h1M334 66.5h1M319 61.5h1M346 71.5h1M328 70.5h1M349 71.5h1M325 67.5h1M329 71.5h1M357 60.5h1M319 67.5h1M349 68.5h1M339 74.5h1M319 66.5h1M313 67.5h1M331 68.5h1M349 68.5h1M338 69.5h1M347 66.5h1M317 67.5h1M320 67.5h1M349 73.5h1M343 67.5h1M342 73.5h1M341 66.5h1M323 69.5h1M322 78.5h1M345 67.5h1M364 76.5h1M357 72.5h1M330 65.5h1M336 65.5h1M344 74.5h1M344 71.5h1M335 70.5h1M327 70.5h1M357 71.5h1M353 70.5h1M323 62.5h1M349 66.5h1M317 70.5h1M341 67.5h1M351 73.5h1M358 71.5h1M328 71.5h1M364 67.5h1M332 71.5h1M366 64.5h1M329 61.5h1M327 68.5h1M354 67.5h1M344 65.5h1M356 72.5h1M350 74.5h1M343 67.5h1M335 68.5h1M363 63.5h1M346 71.5h1M341 74.5h1M351 59.5h1M360 77.5h1M355 65.5h1M333 62.5h1M339 60.5h1M341 67.5h1M324 72.5h1M344 61.5h1M343 62.5h1M351 68.5h1M314 66.5h1M361 69.5h1M357 67.5h1M345 66.5h1M321 66.5h1M364 68.5h1M320 67.5h1M344 69.5h1M316 77.5h1M351 70.5h1M308 68.5h1M353 64.5h1M335 71.5h1M350 67.5h1M307 67.5h1M341 71.5h1M320 64.5h1M357 64.5h1M317 67.5h1M344 75.5h1M329 68.5h1M370 67.5h1M339 63.5h1M330 64.5h1M363 69.5h1M347 63.5h1M343 73.5h1M321 74.5h1M364 67.5h1M320 68.5h1M336 69.5h1M315 75.5h1M345 65.5h1M342 71.5h1M323 68.5h1M360 68.5h1M350 72.5h1M327 63.5h1M342 75.5h1M328 62.5h1M329 65.5h1M354 75.5h1M341 66.5h1M332 73.5h1M339 61.5h1M348 69.5h1M355 69.5h1M360 68.5h1M332 68.5h1M326 67.5h1M345 73.5h1M331 64.5h1M331 68.5h1M344 70.5h1M352 64.5h1M320 58.5h1M363 71.5h1M328 68.5h1M339 72.5h1M347 70.5h1M334 67.5h1M351 72.5h1M348 75.5h1M349 69.5h1M326 64.5h1M339 74.5h1M326 64.5h1M351 68.5h1M334 73.5h1M335 70.5h1M329 72.5h1M315 67.5h1M352 68.5h1M330 68.5h1M335 70.5h1M345 75.5h1M340 66.5h1M352 65.5h1M321 71.5h1M351 69.5h1M334 60.5h1M333 67.5h1M346 68.5h1M309 70.5h1M342 66.5h1M323 75.5h1M327 74.5h1M358 67.5h1M318 63.5h1M327 66.5h1M363 61.5h1M339 69.5h1M368 62.5h1M342 65.5h1M336 74.5h1M334 61.5h1M312 61.5h1M336 73.5h1M335 59.5h1M328 74.5h1M335 70.5h1M365 66.5h1M349 67.5h1M368 73.5h1M313 58.5h1M333 71.5h1M328 74.5h1M323 72.5h1M340 72.5h1M340 72.5h1M341 72.5h1M343 75.5h1M338 70.5h1M345 71.5h1M338 72.5h1M343 72.5h1M345 72.5h1M343 71.5h1M335 75.5h1M342 71.5h1M341 71.5h1M346 78.5h1M343 75.5h1M342 78.5h1M341 74.5h1M342 75.5h1M337 73.5h1M344 71.5h1M340 74.5h1M341 71.5h1M339 74.5h1M336 73.5h1M339 71.5h1M341 73.5h1M336 75.5h1M341 73.5h1M340 70.5h1M342 78.5h1M347 77.5h1M345 78.5h1M345 73.5h1M342 74.5h1M334 74.5h1M339 70.5h1M338 73.5h1M346 71.5h1M338 74.5h1M341 74.5h1M336 73.5h1M336 76.5h1M333 71.5h1M331 72.5h1M338 70.5h1M342 77.5h1M338 72.5h1M337 73.5h1M339 73.5h1M343 72.5h1M346 73.5h1M337 75.5h1M338 77.5h1M339 74.5h1M340 73.5h1M340 72.5h1M339 75.5h1M345 75.5h1M342 78.5h1M347 74.5h1M338 69.5h1M337 66.5h1M314 71.5h1M363 74.5h1M335 74.5h1M344 61.5h1M347 62.5h1M335 65.5h1M353 64.5h1M345 60.5h1M358 73.5h1M339 67.5h1M379 69.5h1M344 63.5h1M355 79.5h1M330 75.5h1M307 62.5h1M332 78.5h1M335 71.5h1M311 60.5h1M347 74.5h1M360 69.5h1M340 66.5h1M337 76.5h1M355 70.5h1M362 74.5h1M362 70.5h1M328 77.5h1M354 77.5h1M323 77.5h1M325 63.5h1M323 75.5h1M345 65.5h1M324 95.5h1M311 81.5h1M314 90.5h1M313 86.5h1M303 87.5h1M312 91.5h1M306 85.5h1M312 88.5h1M307 81.5h1M298 91.5h1M296 87.5h1M309 86.5h1M304 88.5h1M312 88.5h1M307 87.5h1M312 93.5h1M317 84.5h1M311 83.5h1M303 87.5h1M310 85.5h1M305 96.5h1M311 89.5h1M299 92.5h1M302 84.5h1M314 86.5h1M306 86.5h1M314 86.5h1M313 86.5h1M321 91.5h1M301 87.5h1M314 93.5h1M312 87.5h1M315 87.5h1M311 91.5h1M314 84.5h1M311 85.5h1M313 87.5h1M303 90.5h1M315 86.5h1M307 89.5h1M301 90.5h1M302 84.5h1M304 94.5h1M304 85.5h1M311 87.5h1M308 83.5h1M312 91.5h1M309 91.5h1M309 85.5h1M314 88.5h1M312 83.5h1M304 89.5h1M307 88.5h1M300 80.5h1M310 91.5h1M307 90.5h1M314 91.5h1M310 88.5h1M304 97.5h1M310 92.5h1M301 85.5h1M302 84.5h1M312 96.5h1M302 96.5h1M320 91.5h1M306 79.5h1M306 81.5h1M312 86.5h1M305 87.5h1M306 99.5h1M312 88.5h1M306 79.5h1M302 85.5h1M300 84.5h1M315 88.5h1M302 88.5h1M308 87.5h1M313 89.5h1M309 86.5h1M309 87.5h1M308 93.5h1M307 82.5h1M318 97.5h1M312 87.5h1M309 88.5h1M315 95.5h1M317 85.5h1M308 92.5h1M308 96.5h1M306 89.5h1M320 83.5h1M311 89.5h1M306 89.5h1M315 88.5h1M318 89.5h1M320 90.5h1M304 89.5h1M311 86.5h1M317 88.5h1M308 93.5h1M308 87.5h1M310 86.5h1M306 86.5h1M306 92.5h1M349 101.5h1M355 111.5h1M316 97.5h1M316 92.5h1M325 83.5h1M317 101.5h1M357 84.5h1M334 104.5h1" stroke="#000" stroke-opacity="0.32" stroke-width="1"/>
<rect x="293.5" y="54" width="95" height="66.1" fill="none" stroke="#3c3c3c" stroke-width="1"/>
<path d="M334.6 54V120.1M293.5 82.3H388.5" stroke="#3c3c3c" stroke-width="1" fill="none"/>
<text x="325.1" y="75.9" font-size="4.3" text-anchor="middle" fill="#222" stroke="#222" stroke-width="0.12" font-weight="bold">Q1</text>
<text x="343.1" y="75.9" font-size="4.3" text-anchor="middle" fill="#222" stroke="#222" stroke-width="0.12" font-weight="bold">Q2</text>
<text x="325.1" y="93.9" font-size="4.3" text-anchor="middle" fill="#222" stroke="#222" stroke-width="0.12" font-weight="bold">Q3</text>
<text x="343.1" y="93.9" font-size="4.3" text-anchor="middle" fill="#222" stroke="#222" stroke-width="0.12" font-weight="bold">Q4</text>
<path d="M293.5 62.3h-3M293.5 73.62h-1.8M293.5 70.77h-1.8M293.5 68.75h-1.8M293.5 67.18h-1.8M293.5 65.89h-1.8M293.5 64.81h-1.8M293.5 63.87h-1.8M293.5 63.04h-1.8M293.5 78.5h-3M293.5 89.82h-1.8M293.5 86.97h-1.8M293.5 84.95h-1.8M293.5 83.38h-1.8M293.5 82.09h-1.8M293.5 81.01h-1.8M293.5 80.07h-1.8M293.5 79.24h-1.8M293.5 94.7h-3M293.5 106.02h-1.8M293.5 103.17h-1.8M293.5 101.15h-1.8M293.5 99.58h-1.8M293.5 98.29h-1.8M293.5 97.21h-1.8M293.5 96.27h-1.8M293.5 95.44h-1.8M293.5 110.9h-3M293.5 119.37h-1.8M293.5 117.35h-1.8M293.5 115.78h-1.8M293.5 114.49h-1.8M293.5 113.41h-1.8M293.5 112.47h-1.8M293.5 111.64h-1.8M295.35 120.1v1.8M298.3 120.1v1.8M300.59 120.1v1.8M302.46 120.1v1.8M304.04 120.1v1.8M305.41 120.1v1.8M306.62 120.1v1.8M307.7 120.1v3M314.81 120.1v1.8M318.97 120.1v1.8M321.92 120.1v1.8M324.21 120.1v1.8M326.08 120.1v1.8M327.66 120.1v1.8M329.03 120.1v1.8M330.24 120.1v1.8M331.32 120.1v3M338.43 120.1v1.8M342.59 120.1v1.8M345.54 120.1v1.8M347.83 120.1v1.8M349.7 120.1v1.8M351.28 120.1v1.8M352.65 120.1v1.8M353.86 120.1v1.8M354.94 120.1v3M362.05 120.1v1.8M366.21 120.1v1.8M369.16 120.1v1.8M371.45 120.1v1.8M373.32 120.1v1.8M374.9 120.1v1.8M376.27 120.1v1.8M377.48 120.1v1.8M378.56 120.1v3M385.67 120.1v1.8" stroke="#333" stroke-width="0.8" fill="none"/>
<text x="287.9" y="64.6" font-size="6.3" text-anchor="end" fill="#1e1e1e" stroke="#1e1e1e" stroke-width="0.25">10<tspan font-size="3.9" dy="-3.0">5</tspan></text>
<text x="287.9" y="80.8" font-size="6.3" text-anchor="end" fill="#1e1e1e" stroke="#1e1e1e" stroke-width="0.25">10<tspan font-size="3.9" dy="-3.0">4</tspan></text>
<text x="287.9" y="97" font-size="6.3" text-anchor="end" fill="#1e1e1e" stroke="#1e1e1e" stroke-width="0.25">10<tspan font-size="3.9" dy="-3.0">3</tspan></text>
<text x="287.9" y="113.2" font-size="6.3" text-anchor="end" fill="#1e1e1e" stroke="#1e1e1e" stroke-width="0.25">10<tspan font-size="3.9" dy="-3.0">2</tspan></text>
<text x="307.7" y="132.7" font-size="6.3" text-anchor="middle" fill="#1e1e1e" stroke="#1e1e1e" stroke-width="0.25">10<tspan font-size="3.9" dy="-3.0">2</tspan></text>
<text x="331.32" y="132.7" font-size="6.3" text-anchor="middle" fill="#1e1e1e" stroke="#1e1e1e" stroke-width="0.25">10<tspan font-size="3.9" dy="-3.0">3</tspan></text>
<text x="354.94" y="132.7" font-size="6.3" text-anchor="middle" fill="#1e1e1e" stroke="#1e1e1e" stroke-width="0.25">10<tspan font-size="3.9" dy="-3.0">4</tspan></text>
<text x="378.56" y="132.7" font-size="6.3" text-anchor="middle" fill="#1e1e1e" stroke="#1e1e1e" stroke-width="0.25">10<tspan font-size="3.9" dy="-3.0">5</tspan></text>
<path d="M468 74.5h1M461 77.5h1M469 78.5h1M458 70.5h1M472 69.5h1M461 79.5h1M475 76.5h1M464 72.5h1M475 72.5h1M467 76.5h1M467 75.5h1M458 76.5h1M470 71.5h1M462 73.5h1M463 71.5h1M471 74.5h1M465 75.5h1M458 82.5h1M472 71.5h1M470 72.5h1M457 74.5h1M462 78.5h1M467 85.5h1M463 74.5h1M465 77.5h1M467 79.5h1M468 78.5h1M475 75.5h1M474 76.5h1M466 75.5h1M459 74.5h1M467 74.5h1M467 75.5h1M468 79.5h1M463 73.5h1M454 82.5h1M471 73.5h1M463 81.5h1M473 72.5h1M465 73.5h1M469 77.5h1M469 75.5h1M467 66.5h1M466 84.5h1M466 71.5h1M467 73.5h1M462 75.5h1M467 70.5h1M471 72.5h1M468 71.5h1M469 69.5h1M464 70.5h1M467 76.5h1M461 84.5h1M465 76.5h1M458 81.5h1M459 79.5h1M472 75.5h1M468 76.5h1M468 75.5h1M455 66.5h1M476 72.5h1M464 76.5h1M463 78.5h1M468 79.5h1M460 80.5h1M459 76.5h1M462 70.5h1M466 77.5h1M469 82.5h1M476 76.5h1M468 77.5h1M464 75.5h1M467 77.5h1M476 69.5h1M461 84.5h1M462 72.5h1M466 74.5h1M471 86.5h1M468 69.5h1M465 72.5h1M466 73.5h1M465 74.5h1M463 79.5h1M475 73.5h1M471 77.5h1M466 74.5h1M456 79.5h1M457 76.5h1M462 77.5h1M460 82.5h1M469 77.5h1M458 77.5h1M466 77.5h1M470 74.5h1M471 74.5h1M465 75.5h1M466 77.5h1M462 81.5h1M468 77.5h1M473 72.5h1M467 89.5h1M465 71.5h1M461 77.5h1M461 75.5h1M465 75.5h1M459 74.5h1M463 69.5h1M464 74.5h1M458 79.5h1M462 73.5h1M461 75.5h1M460 71.5h1M472 70.5h1M467 76.5h1M466 84.5h1M460 81.5h1M464 75.5h1M469 81.5h1M463 77.5h1M459 72.5h1M459 77.5h1M460 80.5h1M466 77.5h1M462 74.5h1M471 80.5h1M474 78.5h1M467 71.5h1M467 81.5h1M465 79.5h1M471 72.5h1M461 77.5h1M465 75.5h1M466 77.5h1M467 74.5h1M462 80.5h1M471 66.5h1M475 69.5h1M458 74.5h1M468 69.5h1M458 79.5h1M465 79.5h1M454 76.5h1M464 79.5h1M469 71.5h1M464 74.5h1M462 75.5h1M469 77.5h1M462 71.5h1M466 78.5h1M466 74.5h1M473 74.5h1M466 73.5h1M464 76.5h1M474 74.5h1M462 79.5h1M469 76.5h1M463 77.5h1M464 81.5h1M471 75.5h1M468 73.5h1M462 77.5h1M468 77.5h1M469 74.5h1M459 77.5h1M462 78.5h1M462 78.5h1M464 77.5h1M467 76.5h1M465 74.5h1M465 75.5h1M465 77.5h1M464 79.5h1M468 77.5h1M463 77.5h1M468 77.5h1M467 73.5h1M470 79.5h1M467 77.5h1M464 76.5h1M467 76.5h1M467 76.5h1M469 75.5h1M465 80.5h1M464 77.5h1M464 76.5h1M461 79.5h1M465 75.5h1M464 65.5h1M463 69.5h1M460 78.5h1M460 73.5h1M482 62.5h1M466 71.5h1M443 73.5h1M449 68.5h1M462 68.5h1M450 74.5h1M473 68.5h1M461 67.5h1M466 70.5h1M450 72.5h1M462 73.5h1M458 68.5h1M439 75.5h1M474 72.5h1M457 59.5h1M473 68.5h1M456 63.5h1M463 68.5h1M469 70.5h1M458 69.5h1M458 74.5h1M464 76.5h1M466 72.5h1M449 77.5h1M447 70.5h1M454 77.5h1M440 65.5h1M465 72.5h1M462 71.5h1M459 68.5h1M464 68.5h1M481 67.5h1M454 71.5h1M465 60.5h1M456 78.5h1M467 79.5h1M439 74.5h1M486 66.5h1M451 65.5h1M456 71.5h1M459 55.5h1M466 74.5h1M442 75.5h1M465 72.5h1M463 78.5h1M465 59.5h1M449 70.5h1M455 70.5h1M464 79.5h1M422 81.5h1M438 94.5h1M436 88.5h1M428 95.5h1M435 91.5h1M426 94.5h1M435 90.5h1M437 85.5h1M433 90.5h1M421 99.5h1M434 82.5h1M429 93.5h1M429 77.5h1M430 96.5h1M432 90.5h1M431 99.5h1M427 81.5h1M434 88.5h1M423 85.5h1M423 92.5h1M444 81.5h1M431 84.5h1M430 93.5h1M435 84.5h1M436 93.5h1M431 92.5h1M427 89.5h1M430 94.5h1M422 78.5h1M434 86.5h1M429 95.5h1M425 71.5h1M423 82.5h1M431 97.5h1M430 94.5h1M442 90.5h1M434 86.5h1M432 85.5h1M434 91.5h1M435 88.5h1M436 90.5h1M427 103.5h1M432 88.5h1M424 92.5h1M434 95.5h1M426 105.5h1M433 90.5h1M429 87.5h1M424 93.5h1M440 86.5h1M432 83.5h1M434 91.5h1M435 85.5h1M434 103.5h1M431 76.5h1M447 111.5h1M442 96.5h1" stroke="#000" stroke-opacity="0.32" stroke-width="1"/>
<path d="M473 75.5h1M475 67.5h1M469 76.5h1M459 75.5h1M462 77.5h1M460 77.5h1M464 75.5h1M460 72.5h1M458 73.5h1M460 85.5h1M463 76.5h1M460 71.5h1M463 81.5h1M463 76.5h1M465 69.5h1M462 78.5h1M460 75.5h1M465 71.5h1M463 72.5h1M465 78.5h1M470 73.5h1M468 75.5h1M461 78.5h1M468 77.5h1M465 71.5h1M458 74.5h1M459 80.5h1M469 65.5h1M465 81.5h1M466 74.5h1M470 75.5h1M461 84.5h1M468 79.5h1M468 70.5h1M462 79.5h1M464 72.5h1M461 80.5h1M464 77.5h1M457 78.5h1M462 78.5h1M460 75.5h1M470 75.5h1M457 85.5h1M470 71.5h1M465 79.5h1M461 82.5h1M470 77.5h1M469 79.5h1M474 79.5h1M458 80.5h1M475 78.5h1M457 76.5h1M469 80.5h1M461 79.5h1M464 74.5h1M466 81.5h1M464 75.5h1M466 74.5h1M464 73.5h1M467 75.5h1M460 82.5h1M474 78.5h1M460 72.5h1M467 69.5h1M477 77.5h1M473 69.5h1M461 72.5h1M461 81.5h1M467 77.5h1M459 75.5h1M464 74.5h1M468 75.5h1M471 73.5h1M458 80.5h1M467 79.5h1M464 78.5h1M465 77.5h1M470 74.5h1M465 81.5h1M457 79.5h1M463 74.5h1M469 76.5h1M468 74.5h1M468 72.5h1M470 74.5h1M466 82.5h1M465 74.5h1M464 79.5h1M461 75.5h1M465 76.5h1M452 79.5h1M465 74.5h1M459 73.5h1M462 79.5h1M470 68.5h1M466 80.5h1M464 77.5h1M466 71.5h1M457 88.5h1M461 73.5h1M465 75.5h1M471 72.5h1M461 71.5h1M465 67.5h1M462 81.5h1M469 76.5h1M467 80.5h1M463 74.5h1M465 73.5h1M470 71.5h1M466 77.5h1M468 81.5h1M470 67.5h1M475 75.5h1M470 69.5h1M475 80.5h1M470 78.5h1M467 79.5h1M464 79.5h1M472 73.5h1M467 78.5h1M463 76.5h1M463 71.5h1M461 77.5h1M465 80.5h1M463 70.5h1M466 74.5h1M470 77.5h1M466 74.5h1M470 78.5h1M459 71.5h1M464 87.5h1M467 71.5h1M466 82.5h1M459 77.5h1M478 66.5h1M463 78.5h1M474 78.5h1M469 82.5h1M467 73.5h1M470 76.5h1M463 77.5h1M464 70.5h1M465 73.5h1M453 80.5h1M460 78.5h1M468 74.5h1M472 75.5h1M461 70.5h1M468 76.5h1M464 74.5h1M471 73.5h1M459 71.5h1M468 69.5h1M468 75.5h1M463 75.5h1M460 76.5h1M462 77.5h1M476 74.5h1M463 80.5h1M463 81.5h1M464 75.5h1M469 84.5h1M460 78.5h1M462 79.5h1M463 77.5h1M459 71.5h1M478 82.5h1M466 78.5h1M464 75.5h1M474 80.5h1M463 77.5h1M470 79.5h1M470 74.5h1M461 81.5h1M470 74.5h1M464 81.5h1M469 81.5h1M463 72.5h1M466 73.5h1M460 77.5h1M466 73.5h1M460 78.5h1M467 73.5h1M466 78.5h1M468 67.5h1M463 77.5h1M466 73.5h1M465 77.5h1M469 78.5h1M467 74.5h1M463 77.5h1M465 78.5h1M462 72.5h1M464 78.5h1M469 76.5h1M464 74.5h1M461 79.5h1M469 76.5h1M467 75.5h1M464 79.5h1M466 72.5h1M465 74.5h1M462 78.5h1M466 75.5h1M465 82.5h1M464 77.5h1M459 77.5h1M465 74.5h1M468 77.5h1M470 77.5h1M467 77.5h1M463 77.5h1M467 77.5h1M471 76.5h1M465 76.5h1M465 81.5h1M461 77.5h1M468 73.5h1M462 78.5h1M466 75.5h1M466 73.5h1M461 78.5h1M463 78.5h1M464 79.5h1M463 73.5h1M466 75.5h1M463 77.5h1M463 76.5h1M466 63.5h1M453 65.5h1M467 70.5h1M468 69.5h1M465 72.5h1M462 74.5h1M457 77.5h1M470 75.5h1M470 68.5h1M465 70.5h1M450 70.5h1M450 74.5h1M464 67.5h1M450 55.5h1M454 60.5h1M460 67.5h1M446 68.5h1M480 67.5h1M462 79.5h1M450 66.5h1M450 68.5h1M461 69.5h1M450 66.5h1M463 73.5h1M475 71.5h1M439 70.5h1M462 61.5h1M475 68.5h1M471 67.5h1M458 56.5h1M443 67.5h1M466 77.5h1M444 71.5h1M453 70.5h1M472 56.5h1M450 68.5h1M450 71.5h1M437 78.5h1M463 66.5h1M480 68.5h1M469 67.5h1M455 75.5h1M467 68.5h1M455 65.5h1M454 65.5h1M461 69.5h1M468 62.5h1M459 61.5h1M465 74.5h1M464 74.5h1M457 73.5h1M425 90.5h1M429 96.5h1M437 86.5h1M438 94.5h1M433 92.5h1M430 92.5h1M427 87.5h1M430 92.5h1M427 67.5h1M427 75.5h1M439 97.5h1M433 92.5h1M434 82.5h1M434 80.5h1M429 97.5h1M435 81.5h1M434 94.5h1M440 104.5h1M432 85.5h1M429 92.5h1M433 85.5h1M432 102.5h1M427 76.5h1M427 106.5h1M432 94.5h1M435 96.5h1M425 86.5h1M428 102.5h1M429 85.5h1M435 88.5h1M436 88.5h1M430 95.5h1M437 90.5h1M423 92.5h1M433 93.5h1M429 97.5h1M442 84.5h1M429 86.5h1M454 91.5h1M433 103.5h1M491 92.5h1M438 76.5h1M456 82.5h1M491 74.5h1M468 103.5h1M422 102.5h1" stroke="#000" stroke-opacity="0.32" stroke-width="1"/>
<path d="M466 73.5h1M462 66.5h1M465 69.5h1M459 81.5h1M464 78.5h1M461 77.5h1M466 79.5h1M471 68.5h1M464 78.5h1M464 82.5h1M468 73.5h1M458 70.5h1M466 81.5h1M460 71.5h1M466 75.5h1M464 77.5h1M470 75.5h1M464 80.5h1M469 75.5h1M460 80.5h1M462 75.5h1M466 82.5h1M467 76.5h1M462 79.5h1M467 76.5h1M466 74.5h1M470 74.5h1M468 75.5h1M460 77.5h1M471 79.5h1M467 74.5h1M463 72.5h1M467 73.5h1M465 73.5h1M462 71.5h1M471 79.5h1M458 82.5h1M467 72.5h1M461 76.5h1M465 71.5h1M451 82.5h1M475 74.5h1M467 80.5h1M461 82.5h1M456 77.5h1M469 73.5h1M467 73.5h1M470 75.5h1M474 82.5h1M462 72.5h1M472 73.5h1M469 74.5h1M472 72.5h1M475 67.5h1M472 76.5h1M473 76.5h1M464 72.5h1M473 71.5h1M463 73.5h1M472 76.5h1M462 74.5h1M467 72.5h1M468 72.5h1M465 78.5h1M476 67.5h1M467 77.5h1M450 73.5h1M462 73.5h1M463 80.5h1M464 79.5h1M467 71.5h1M461 79.5h1M464 68.5h1M463 69.5h1M472 66.5h1M460 74.5h1M467 71.5h1M466 70.5h1M457 79.5h1M466 64.5h1M471 78.5h1M460 75.5h1M471 79.5h1M463 73.5h1M463 77.5h1M471 76.5h1M467 73.5h1M471 77.5h1M468 71.5h1M467 86.5h1M461 76.5h1M470 79.5h1M470 81.5h1M468 82.5h1M455 78.5h1M468 78.5h1M469 80.5h1M472 81.5h1M464 75.5h1M456 77.5h1M470 72.5h1M466 77.5h1M465 76.5h1M468 75.5h1M462 77.5h1M466 69.5h1M457 79.5h1M461 84.5h1M467 77.5h1M453 79.5h1M464 79.5h1M471 71.5h1M464 75.5h1M482 77.5h1M463 82.5h1M468 78.5h1M465 76.5h1M464 73.5h1M463 78.5h1M463 77.5h1M470 73.5h1M460 81.5h1M460 84.5h1M459 75.5h1M470 82.5h1M461 82.5h1M465 71.5h1M460 78.5h1M471 74.5h1M459 87.5h1M472 74.5h1M463 78.5h1M461 76.5h1M465 76.5h1M462 74.5h1M459 83.5h1M464 73.5h1M467 77.5h1M467 67.5h1M469 75.5h1M467 74.5h1M469 70.5h1M458 76.5h1M469 76.5h1M463 79.5h1M462 66.5h1M470 78.5h1M469 76.5h1M463 79.5h1M465 76.5h1M459 74.5h1M468 75.5h1M463 73.5h1M462 71.5h1M466 76.5h1M464 74.5h1M468 68.5h1M470 83.5h1M471 73.5h1M464 79.5h1M465 84.5h1M463 80.5h1M470 69.5h1M455 74.5h1M469 74.5h1M465 78.5h1M467 76.5h1M459 76.5h1M458 78.5h1M471 76.5h1M462 77.5h1M463 77.5h1M467 80.5h1M470 74.5h1M466 78.5h1M462 81.5h1M464 76.5h1M472 78.5h1M463 75.5h1M463 80.5h1M463 75.5h1M466 81.5h1M466 78.5h1M466 75.5h1M466 79.5h1M470 77.5h1M467 77.5h1M466 78.5h1M463 79.5h1M465 78.5h1M464 80.5h1M465 76.5h1M469 72.5h1M467 70.5h1M464 74.5h1M467 76.5h1M462 76.5h1M459 81.5h1M466 75.5h1M467 74.5h1M469 77.5h1M462 75.5h1M467 77.5h1M467 70.5h1M465 78.5h1M467 75.5h1M464 75.5h1M469 78.5h1M469 77.5h1M462 79.5h1M466 74.5h1M463 76.5h1M470 80.5h1M468 77.5h1M465 78.5h1M470 80.5h1M463 73.5h1M467 70.5h1M463 75.5h1M470 75.5h1M468 73.5h1M464 66.5h1M464 73.5h1M469 76.5h1M461 66.5h1M464 65.5h1M449 75.5h1M463 69.5h1M463 71.5h1M469 73.5h1M456 68.5h1M471 58.5h1M438 66.5h1M458 63.5h1M469 66.5h1M456 60.5h1M456 69.5h1M474 68.5h1M452 69.5h1M451 68.5h1M464 62.5h1M461 81.5h1M459 58.5h1M472 62.5h1M480 70.5h1M465 67.5h1M463 75.5h1M479 69.5h1M452 77.5h1M447 76.5h1M460 70.5h1M463 71.5h1M452 67.5h1M471 67.5h1M454 79.5h1M464 70.5h1M466 66.5h1M484 73.5h1M458 67.5h1M470 71.5h1M460 75.5h1M442 78.5h1M464 64.5h1M461 61.5h1M477 68.5h1M452 60.5h1M492 71.5h1M466 69.5h1M459 77.5h1M479 77.5h1M456 64.5h1M443 59.5h1M470 66.5h1M466 73.5h1M456 64.5h1M438 105.5h1M434 90.5h1M438 111.5h1M437 109.5h1M421 102.5h1M431 101.5h1M431 102.5h1M434 109.5h1M426 93.5h1M437 89.5h1M431 100.5h1M432 88.5h1M426 83.5h1M431 82.5h1M438 89.5h1M430 96.5h1M436 77.5h1M441 94.5h1M432 83.5h1M427 99.5h1M435 94.5h1M434 87.5h1M437 96.5h1M437 95.5h1M442 88.5h1M431 106.5h1M428 106.5h1M438 107.5h1M436 77.5h1M426 78.5h1M424 97.5h1M430 86.5h1M427 82.5h1M429 90.5h1M440 84.5h1M443 94.5h1M438 83.5h1M430 97.5h1M427 87.5h1M431 79.5h1M431 80.5h1M436 77.5h1M441 85.5h1M430 101.5h1M455 94.5h1M496 95.5h1M456 107.5h1M450 81.5h1M440 88.5h1M443 97.5h1" stroke="#000" stroke-opacity="0.32" stroke-width="1"/>
<path d="M460 72.5h1M459 82.5h1M471 78.5h1M465 81.5h1M472 76.5h1M474 68.5h1M472 74.5h1M466 72.5h1M468 78.5h1M466 82.5h1M464 80.5h1M469 78.5h1M469 77.5h1M471 77.5h1M469 77.5h1M468 75.5h1M467 70.5h1M464 85.5h1M462 74.5h1M471 71.5h1M467 77.5h1M462 76.5h1M463 82.5h1M467 79.5h1M474 75.5h1M467 74.5h1M461 71.5h1M465 80.5h1M465 78.5h1M469 76.5h1M462 76.5h1M470 66.5h1M464 74.5h1M474 67.5h1M458 77.5h1M463 77.5h1M465 78.5h1M469 73.5h1M471 82.5h1M467 74.5h1M458 84.5h1M455 78.5h1M472 75.5h1M464 80.5h1M462 75.5h1M466 81.5h1M471 76.5h1M458 71.5h1M471 73.5h1M468 78.5h1M465 69.5h1M470 75.5h1M470 71.5h1M464 82.5h1M471 79.5h1M466 71.5h1M461 78.5h1M460 72.5h1M467 73.5h1M460 78.5h1M470 75.5h1M457 71.5h1M468 75.5h1M462 81.5h1M470 76.5h1M467 73.5h1M466 80.5h1M463 80.5h1M464 85.5h1M452 81.5h1M471 81.5h1M465 76.5h1M464 79.5h1M455 80.5h1M461 72.5h1M477 75.5h1M461 76.5h1M462 85.5h1M468 79.5h1M464 76.5h1M463 66.5h1M465 79.5h1M468 75.5h1M462 75.5h1M462 74.5h1M464 69.5h1M466 82.5h1M462 78.5h1M470 77.5h1M463 68.5h1M461 73.5h1M473 66.5h1M471 75.5h1M469 75.5h1M461 79.5h1M465 81.5h1M462 78.5h1M475 73.5h1M460 75.5h1M472 74.5h1M467 79.5h1M465 75.5h1M457 85.5h1M471 80.5h1M464 81.5h1M461 86.5h1M465 70.5h1M463 75.5h1M468 78.5h1M472 79.5h1M463 79.5h1M464 71.5h1M468 70.5h1M465 78.5h1M471 78.5h1M458 78.5h1M465 78.5h1M470 80.5h1M457 79.5h1M471 78.5h1M465 76.5h1M462 78.5h1M468 74.5h1M458 75.5h1M461 74.5h1M475 77.5h1M465 75.5h1M462 82.5h1M469 77.5h1M463 74.5h1M460 80.5h1M462 78.5h1M460 78.5h1M469 74.5h1M457 79.5h1M469 72.5h1M459 75.5h1M463 73.5h1M462 70.5h1M463 76.5h1M473 67.5h1M469 72.5h1M469 73.5h1M472 71.5h1M465 76.5h1M475 73.5h1M465 74.5h1M470 67.5h1M468 71.5h1M463 66.5h1M463 69.5h1M468 82.5h1M460 76.5h1M468 72.5h1M471 73.5h1M461 77.5h1M464 77.5h1M466 79.5h1M468 78.5h1M466 73.5h1M464 74.5h1M468 75.5h1M462 78.5h1M463 74.5h1M467 78.5h1M461 74.5h1M466 75.5h1M461 75.5h1M466 77.5h1M463 77.5h1M466 74.5h1M468 73.5h1M465 73.5h1M466 75.5h1M464 75.5h1M469 76.5h1M465 80.5h1M468 74.5h1M470 78.5h1M463 75.5h1M465 76.5h1M467 75.5h1M467 79.5h1M463 74.5h1M467 77.5h1M469 72.5h1M465 74.5h1M464 74.5h1M464 72.5h1M462 78.5h1M464 80.5h1M470 80.5h1M464 75.5h1M462 78.5h1M463 77.5h1M469 74.5h1M467 78.5h1M469 75.5h1M468 82.5h1M470 77.5h1M469 76.5h1M463 75.5h1M466 74.5h1M463 80.5h1M465 76.5h1M467 76.5h1M466 75.5h1M460 75.5h1M470 73.5h1M491 70.5h1M458 65.5h1M461 67.5h1M457 57.5h1M472 64.5h1M483 74.5h1M448 70.5h1M456 76.5h1M479 77.5h1M454 69.5h1M472 75.5h1M496 67.5h1M447 71.5h1M467 73.5h1M447 76.5h1M458 63.5h1M448 65.5h1M461 69.5h1M447 68.5h1M457 69.5h1M465 66.5h1M461 68.5h1M477 76.5h1M439 72.5h1M460 67.5h1M476 68.5h1M450 67.5h1M481 70.5h1M465 70.5h1M465 63.5h1M464 71.5h1M478 66.5h1M465 70.5h1M456 66.5h1M446 70.5h1M462 73.5h1M482 76.5h1M443 64.5h1M469 64.5h1M479 73.5h1M464 69.5h1M454 74.5h1M448 66.5h1M461 66.5h1M470 68.5h1M451 63.5h1M485 69.5h1M468 63.5h1M463 67.5h1M472 73.5h1M455 63.5h1M463 67.5h1M466 72.5h1M467 79.5h1M472 66.5h1M438 97.5h1M436 83.5h1M427 80.5h1M428 94.5h1M431 89.5h1M430 100.5h1M430 105.5h1M431 87.5h1M431 91.5h1M436 85.5h1M436 83.5h1M438 83.5h1M437 77.5h1M438 89.5h1M424 91.5h1M432 88.5h1M435 102.5h1M428 108.5h1M431 82.5h1M430 93.5h1M435 87.5h1M419 87.5h1M433 85.5h1M428 96.5h1M435 94.5h1M431 103.5h1M428 91.5h1M432 95.5h1M425 89.5h1M435 88.5h1M435 84.5h1M432 93.5h1M421 96.5h1M443 103.5h1M426 98.5h1M434 87.5h1M425 85.5h1M427 82.5h1M433 88.5h1M439 96.5h1M432 106.5h1M431 89.5h1M433 95.5h1M425 81.5h1M427 96.5h1M418 84.5h1M423 96.5h1M434 99.5h1M423 114.5h1M438 97.5h1M427 117.5h1M433 87.5h1M458 83.5h1M458 78.5h1M442 70.5h1M494 98.5h1M496 106.5h1M452 96.5h1" stroke="#000" stroke-opacity="0.32" stroke-width="1"/>
<path d="M469 77.5h1M473 82.5h1M466 78.5h1M471 71.5h1M456 74.5h1M468 75.5h1M464 84.5h1M471 74.5h1M466 79.5h1M460 78.5h1M463 77.5h1M465 74.5h1M462 79.5h1M467 75.5h1M461 83.5h1M470 78.5h1M464 75.5h1M462 74.5h1M466 68.5h1M464 78.5h1M462 76.5h1M469 71.5h1M462 76.5h1M460 82.5h1M466 77.5h1M465 83.5h1M470 74.5h1M458 76.5h1M459 83.5h1M459 75.5h1M468 72.5h1M468 68.5h1M468 75.5h1M477 71.5h1M470 73.5h1M465 87.5h1M465 81.5h1M470 70.5h1M468 73.5h1M468 76.5h1M466 71.5h1M456 75.5h1M463 73.5h1M466 77.5h1M473 76.5h1M466 75.5h1M458 80.5h1M465 76.5h1M461 80.5h1M461 81.5h1M455 75.5h1M471 71.5h1M465 78.5h1M464 79.5h1M461 80.5h1M463 74.5h1M465 74.5h1M469 74.5h1M464 72.5h1M471 72.5h1M469 80.5h1M466 73.5h1M464 71.5h1M452 84.5h1M459 75.5h1M473 78.5h1M453 76.5h1M468 83.5h1M468 81.5h1M468 68.5h1M458 80.5h1M462 70.5h1M470 86.5h1M462 74.5h1M468 75.5h1M475 67.5h1M466 78.5h1M467 81.5h1M467 74.5h1M463 80.5h1M471 77.5h1M458 84.5h1M465 76.5h1M477 74.5h1M457 77.5h1M464 81.5h1M466 74.5h1M466 77.5h1M464 77.5h1M463 79.5h1M463 81.5h1M457 71.5h1M468 78.5h1M465 74.5h1M461 71.5h1M478 68.5h1M470 76.5h1M466 72.5h1M459 74.5h1M462 81.5h1M466 72.5h1M472 73.5h1M472 71.5h1M459 74.5h1M468 73.5h1M464 65.5h1M468 82.5h1M468 78.5h1M467 77.5h1M466 79.5h1M472 72.5h1M464 83.5h1M465 72.5h1M474 79.5h1M468 72.5h1M462 75.5h1M462 78.5h1M474 74.5h1M467 79.5h1M460 74.5h1M464 73.5h1M465 78.5h1M465 75.5h1M468 78.5h1M475 72.5h1M471 74.5h1M477 71.5h1M468 75.5h1M475 75.5h1M459 72.5h1M471 72.5h1M466 79.5h1M467 71.5h1M468 77.5h1M465 68.5h1M466 79.5h1M470 77.5h1M472 74.5h1M456 81.5h1M455 72.5h1M468 84.5h1M469 72.5h1M469 73.5h1M469 69.5h1M468 73.5h1M463 75.5h1M467 70.5h1M463 70.5h1M464 73.5h1M466 74.5h1M457 79.5h1M473 72.5h1M459 77.5h1M471 73.5h1M461 74.5h1M465 77.5h1M466 77.5h1M468 73.5h1M467 77.5h1M470 78.5h1M462 77.5h1M465 75.5h1M466 73.5h1M465 79.5h1M471 73.5h1M463 76.5h1M470 75.5h1M467 80.5h1M466 77.5h1M464 78.5h1M463 75.5h1M466 78.5h1M468 75.5h1M467 76.5h1M464 77.5h1M465 82.5h1M467 69.5h1M464 75.5h1M469 75.5h1M470 77.5h1M461 80.5h1M469 75.5h1M469 74.5h1M464 79.5h1M461 77.5h1M468 73.5h1M461 79.5h1M467 74.5h1M469 75.5h1M462 77.5h1M464 80.5h1M462 74.5h1M465 75.5h1M462 81.5h1M463 79.5h1M467 74.5h1M467 73.5h1M468 73.5h1M467 74.5h1M466 78.5h1M469 74.5h1M468 78.5h1M467 73.5h1M458 71.5h1M447 65.5h1M472 68.5h1M486 66.5h1M437 70.5h1M457 77.5h1M470 63.5h1M469 74.5h1M452 69.5h1M466 68.5h1M457 71.5h1M475 72.5h1M474 76.5h1M465 63.5h1M465 64.5h1M454 66.5h1M466 73.5h1M450 77.5h1M457 76.5h1M444 69.5h1M476 61.5h1M464 62.5h1M466 65.5h1M461 71.5h1M449 64.5h1M450 69.5h1M455 65.5h1M466 72.5h1M456 68.5h1M460 71.5h1M461 63.5h1M454 75.5h1M451 68.5h1M434 74.5h1M469 72.5h1M477 68.5h1M473 69.5h1M442 74.5h1M480 72.5h1M459 67.5h1M468 73.5h1M441 58.5h1M458 66.5h1M464 66.5h1M463 69.5h1M477 76.5h1M444 76.5h1M453 79.5h1M451 62.5h1M469 55.5h1M483 68.5h1M449 67.5h1M465 79.5h1M468 72.5h1M463 68.5h1M480 64.5h1M476 71.5h1M469 70.5h1M474 71.5h1M466 72.5h1M432 73.5h1M445 74.5h1M464 74.5h1M480 72.5h1M473 64.5h1M454 74.5h1M459 72.5h1M424 84.5h1M436 100.5h1M435 88.5h1M432 73.5h1M423 80.5h1M437 94.5h1M434 90.5h1M434 92.5h1M424 94.5h1M435 93.5h1M440 91.5h1M422 88.5h1M424 99.5h1M435 81.5h1M428 92.5h1M434 97.5h1M424 90.5h1M441 86.5h1M433 82.5h1M439 87.5h1M428 88.5h1M422 100.5h1M431 96.5h1M430 99.5h1M433 88.5h1M440 86.5h1M438 84.5h1M440 91.5h1M425 87.5h1M439 98.5h1M427 91.5h1M429 99.5h1M436 100.5h1M428 84.5h1M432 84.5h1M433 82.5h1M432 98.5h1M427 88.5h1M427 90.5h1M435 101.5h1M430 84.5h1M432 94.5h1M426 112.5h1M434 102.5h1M428 89.5h1M430 111.5h1M437 90.5h1M430 88.5h1M435 93.5h1M442 93.5h1M426 86.5h1M445 86.5h1M429 86.5h1M436 90.5h1M424 83.5h1M436 92.5h1M438 94.5h1M440 82.5h1M432 96.5h1M428 92.5h1M436 95.5h1M425 90.5h1M430 78.5h1M454 111.5h1M457 95.5h1M459 107.5h1" stroke="#000" stroke-opacity="0.32" stroke-width="1"/>
<rect x="417" y="54" width="95" height="66.1" fill="none" stroke="#3c3c3c" stroke-width="1"/>
<path d="M457.6 54V120.1M417 82.3H512" stroke="#3c3c3c" stroke-width="1" fill="none"/>
<text x="448.1" y="75.9" font-size="4.3" text-anchor="middle" fill="#222" stroke="#222" stroke-width="0.12" font-weight="bold">Q1</text>
<text x="466.1" y="75.9" font-size="4.3" text-anchor="middle" fill="#222" stroke="#222" stroke-width="0.12" font-weight="bold">Q2</text>
<text x="448.1" y="93.9" font-size="4.3" text-anchor="middle" fill="#222" stroke="#222" stroke-width="0.12" font-weight="bold">Q3</text>
<text x="466.1" y="93.9" font-size="4.3" text-anchor="middle" fill="#222" stroke="#222" stroke-width="0.12" font-weight="bold">Q4</text>
<path d="M417 62.3h-3M417 73.62h-1.8M417 70.77h-1.8M417 68.75h-1.8M417 67.18h-1.8M417 65.89h-1.8M417 64.81h-1.8M417 63.87h-1.8M417 63.04h-1.8M417 78.5h-3M417 89.82h-1.8M417 86.97h-1.8M417 84.95h-1.8M417 83.38h-1.8M417 82.09h-1.8M417 81.01h-1.8M417 80.07h-1.8M417 79.24h-1.8M417 94.7h-3M417 106.02h-1.8M417 103.17h-1.8M417 101.15h-1.8M417 99.58h-1.8M417 98.29h-1.8M417 97.21h-1.8M417 96.27h-1.8M417 95.44h-1.8M417 110.9h-3M417 119.37h-1.8M417 117.35h-1.8M417 115.78h-1.8M417 114.49h-1.8M417 113.41h-1.8M417 112.47h-1.8M417 111.64h-1.8M419.35 120.1v1.8M422.3 120.1v1.8M424.59 120.1v1.8M426.46 120.1v1.8M428.04 120.1v1.8M429.41 120.1v1.8M430.62 120.1v1.8M431.7 120.1v3M438.81 120.1v1.8M442.97 120.1v1.8M445.92 120.1v1.8M448.21 120.1v1.8M450.08 120.1v1.8M451.66 120.1v1.8M453.03 120.1v1.8M454.24 120.1v1.8M455.32 120.1v3M462.43 120.1v1.8M466.59 120.1v1.8M469.54 120.1v1.8M471.83 120.1v1.8M473.7 120.1v1.8M475.28 120.1v1.8M476.65 120.1v1.8M477.86 120.1v1.8M478.94 120.1v3M486.05 120.1v1.8M490.21 120.1v1.8M493.16 120.1v1.8M495.45 120.1v1.8M497.32 120.1v1.8M498.9 120.1v1.8M500.27 120.1v1.8M501.48 120.1v1.8M502.56 120.1v3M509.67 120.1v1.8" stroke="#333" stroke-width="0.8" fill="none"/>
<text x="411.4" y="64.6" font-size="6.3" text-anchor="end" fill="#1e1e1e" stroke="#1e1e1e" stroke-width="0.25">10<tspan font-size="3.9" dy="-3.0">5</tspan></text>
<text x="411.4" y="80.8" font-size="6.3" text-anchor="end" fill="#1e1e1e" stroke="#1e1e1e" stroke-width="0.25">10<tspan font-size="3.9" dy="-3.0">4</tspan></text>
<text x="411.4" y="97" font-size="6.3" text-anchor="end" fill="#1e1e1e" stroke="#1e1e1e" stroke-width="0.25">10<tspan font-size="3.9" dy="-3.0">3</tspan></text>
<text x="411.4" y="113.2" font-size="6.3" text-anchor="end" fill="#1e1e1e" stroke="#1e1e1e" stroke-width="0.25">10<tspan font-size="3.9" dy="-3.0">2</tspan></text>
<text x="431.7" y="132.7" font-size="6.3" text-anchor="middle" fill="#1e1e1e" stroke="#1e1e1e" stroke-width="0.25">10<tspan font-size="3.9" dy="-3.0">2</tspan></text>
<text x="455.32" y="132.7" font-size="6.3" text-anchor="middle" fill="#1e1e1e" stroke="#1e1e1e" stroke-width="0.25">10<tspan font-size="3.9" dy="-3.0">3</tspan></text>
<text x="478.94" y="132.7" font-size="6.3" text-anchor="middle" fill="#1e1e1e" stroke="#1e1e1e" stroke-width="0.25">10<tspan font-size="3.9" dy="-3.0">4</tspan></text>
<text x="502.56" y="132.7" font-size="6.3" text-anchor="middle" fill="#1e1e1e" stroke="#1e1e1e" stroke-width="0.25">10<tspan font-size="3.9" dy="-3.0">5</tspan></text>
<path d="M63 244.5h1M59 232.5h1M61 236.5h1M69 228.5h1M59 238.5h1M61 230.5h1M69 242.5h1M73 237.5h1M75 242.5h1M73 234.5h1M61 229.5h1M68 230.5h1M71 231.5h1M75 239.5h1M67 233.5h1M58 230.5h1M73 222.5h1M61 230.5h1M61 240.5h1M65 244.5h1M70 241.5h1M60 233.5h1M84 230.5h1M70 232.5h1M73 238.5h1M70 241.5h1M72 249.5h1M61 245.5h1M68 236.5h1M60 239.5h1M62 237.5h1M58 238.5h1M71 250.5h1M71 242.5h1M61 233.5h1M64 239.5h1M66 236.5h1M71 239.5h1M66 231.5h1M70 247.5h1M71 230.5h1M58 243.5h1M60 240.5h1M71 247.5h1M77 239.5h1M58 234.5h1M67 239.5h1M70 228.5h1M65 248.5h1M69 235.5h1M72 240.5h1M59 237.5h1M75 229.5h1M67 238.5h1M64 246.5h1M54 248.5h1M70 233.5h1M67 237.5h1M75 240.5h1M59 240.5h1M57 238.5h1M60 245.5h1M64 242.5h1M69 237.5h1M75 234.5h1M70 229.5h1M56 234.5h1M60 238.5h1M73 239.5h1M67 241.5h1M67 241.5h1M64 237.5h1M66 239.5h1M74 233.5h1M74 227.5h1M77 236.5h1M70 231.5h1M74 240.5h1M70 227.5h1M74 235.5h1M68 241.5h1M59 249.5h1M57 236.5h1M71 240.5h1M79 223.5h1M61 237.5h1M66 242.5h1M76 228.5h1M68 233.5h1M61 235.5h1M74 239.5h1M59 240.5h1M64 241.5h1M73 233.5h1M63 240.5h1M78 240.5h1M63 239.5h1M62 244.5h1M78 232.5h1M68 231.5h1M69 250.5h1M70 230.5h1M66 241.5h1M57 241.5h1M70 229.5h1M64 248.5h1M67 238.5h1M69 232.5h1M65 232.5h1M63 236.5h1M62 246.5h1M67 238.5h1M68 248.5h1M64 241.5h1M65 239.5h1M63 238.5h1M61 242.5h1M71 241.5h1M81 246.5h1M68 243.5h1M67 240.5h1M63 237.5h1M67 238.5h1M55 243.5h1M72 237.5h1M71 242.5h1M79 247.5h1M76 226.5h1M72 235.5h1M71 235.5h1M67 237.5h1M64 236.5h1M72 243.5h1M64 246.5h1M73 236.5h1M77 242.5h1M59 234.5h1M67 242.5h1M70 227.5h1M77 232.5h1M67 234.5h1M73 238.5h1M65 241.5h1M69 235.5h1M67 241.5h1M77 231.5h1M61 233.5h1M71 239.5h1M59 246.5h1M73 240.5h1M76 246.5h1M61 238.5h1M66 242.5h1M74 229.5h1M76 241.5h1M78 239.5h1M75 239.5h1M64 237.5h1M56 231.5h1M62 238.5h1M63 235.5h1M72 228.5h1M65 231.5h1M70 238.5h1M64 228.5h1M78 234.5h1M70 246.5h1M62 244.5h1M62 244.5h1M64 237.5h1M67 236.5h1M61 245.5h1M60 244.5h1M76 236.5h1M61 248.5h1M64 233.5h1M58 244.5h1M67 231.5h1M68 239.5h1M65 243.5h1M62 229.5h1M74 230.5h1M71 239.5h1M67 249.5h1M63 235.5h1M65 240.5h1M68 236.5h1M69 233.5h1M78 230.5h1M67 233.5h1M59 245.5h1M71 243.5h1M65 237.5h1M70 238.5h1M73 247.5h1M72 238.5h1M79 230.5h1M67 240.5h1M70 239.5h1M69 234.5h1M62 242.5h1M63 236.5h1M69 238.5h1M71 238.5h1M61 243.5h1M71 236.5h1M68 240.5h1M61 238.5h1M65 238.5h1M65 244.5h1M73 247.5h1M66 235.5h1M59 240.5h1M66 241.5h1M64 240.5h1M67 242.5h1M60 240.5h1M71 240.5h1M72 242.5h1M68 239.5h1M66 240.5h1M74 236.5h1M73 241.5h1M62 245.5h1M70 237.5h1M68 241.5h1M65 244.5h1M69 237.5h1M67 239.5h1M65 237.5h1M69 241.5h1M72 239.5h1M72 245.5h1M61 239.5h1M81 224.5h1M82 223.5h1M77 223.5h1M78 229.5h1M74 234.5h1M74 236.5h1M75 222.5h1M79 224.5h1M78 238.5h1M71 225.5h1M83 226.5h1M69 238.5h1M89 217.5h1M94 211.5h1" stroke="#000" stroke-opacity="0.32" stroke-width="1"/>
<path d="M82 239.5h1M72 231.5h1M74 225.5h1M66 244.5h1M68 238.5h1M65 246.5h1M58 240.5h1M66 240.5h1M69 249.5h1M73 241.5h1M73 237.5h1M67 243.5h1M74 249.5h1M70 234.5h1M78 218.5h1M74 245.5h1M72 234.5h1M80 233.5h1M62 228.5h1M67 224.5h1M58 241.5h1M77 240.5h1M75 244.5h1M72 235.5h1M61 241.5h1M75 233.5h1M72 247.5h1M75 235.5h1M69 244.5h1M77 239.5h1M76 239.5h1M61 236.5h1M75 233.5h1M78 228.5h1M60 242.5h1M68 238.5h1M71 234.5h1M74 247.5h1M65 237.5h1M67 237.5h1M58 242.5h1M60 233.5h1M68 238.5h1M58 237.5h1M79 239.5h1M58 244.5h1M62 238.5h1M62 238.5h1M77 248.5h1M71 237.5h1M64 249.5h1M73 242.5h1M70 226.5h1M67 237.5h1M66 240.5h1M59 238.5h1M66 240.5h1M74 235.5h1M69 236.5h1M77 244.5h1M66 236.5h1M66 231.5h1M66 236.5h1M66 242.5h1M66 239.5h1M70 230.5h1M67 244.5h1M86 243.5h1M69 232.5h1M72 229.5h1M57 232.5h1M67 245.5h1M70 235.5h1M70 237.5h1M63 244.5h1M67 237.5h1M59 247.5h1M74 236.5h1M57 247.5h1M73 239.5h1M72 236.5h1M62 244.5h1M70 245.5h1M70 237.5h1M64 232.5h1M78 238.5h1M58 235.5h1M54 248.5h1M63 231.5h1M67 235.5h1M65 234.5h1M64 239.5h1M66 246.5h1M78 237.5h1M65 241.5h1M69 237.5h1M73 233.5h1M62 234.5h1M68 234.5h1M68 244.5h1M62 242.5h1M71 248.5h1M64 248.5h1M73 231.5h1M57 236.5h1M64 249.5h1M74 240.5h1M73 246.5h1M70 242.5h1M78 242.5h1M69 247.5h1M58 242.5h1M70 227.5h1M74 243.5h1M59 249.5h1M70 228.5h1M66 236.5h1M65 240.5h1M59 234.5h1M58 237.5h1M84 234.5h1M61 234.5h1M64 245.5h1M70 242.5h1M62 244.5h1M68 242.5h1M63 243.5h1M59 233.5h1M65 235.5h1M76 227.5h1M71 225.5h1M68 250.5h1M55 235.5h1M56 241.5h1M62 236.5h1M74 239.5h1M69 230.5h1M63 246.5h1M63 244.5h1M66 239.5h1M68 237.5h1M70 231.5h1M71 250.5h1M72 235.5h1M74 240.5h1M61 241.5h1M71 239.5h1M64 237.5h1M66 237.5h1M74 236.5h1M63 239.5h1M65 235.5h1M78 248.5h1M61 241.5h1M61 245.5h1M54 248.5h1M69 236.5h1M65 234.5h1M71 225.5h1M68 236.5h1M77 235.5h1M63 236.5h1M69 235.5h1M71 233.5h1M66 240.5h1M65 238.5h1M73 238.5h1M62 239.5h1M61 234.5h1M64 240.5h1M66 245.5h1M63 236.5h1M76 238.5h1M71 243.5h1M74 243.5h1M67 233.5h1M62 240.5h1M68 235.5h1M68 239.5h1M62 246.5h1M65 239.5h1M74 239.5h1M63 239.5h1M74 236.5h1M65 238.5h1M68 246.5h1M71 242.5h1M65 237.5h1M70 228.5h1M68 233.5h1M64 236.5h1M69 239.5h1M71 234.5h1M66 243.5h1M65 238.5h1M68 243.5h1M64 242.5h1M71 225.5h1M84 233.5h1M87 227.5h1M73 231.5h1M87 230.5h1M84 224.5h1M83 231.5h1M72 227.5h1M76 231.5h1M86 229.5h1M82 225.5h1M101 210.5h1M96 215.5h1M80 244.5h1" stroke="#000" stroke-opacity="0.32" stroke-width="1"/>
<path d="M57 236.5h1M67 235.5h1M55 235.5h1M60 247.5h1M67 234.5h1M64 245.5h1M71 238.5h1M65 250.5h1M59 231.5h1M69 246.5h1M56 240.5h1M68 241.5h1M59 239.5h1M58 246.5h1M69 236.5h1M82 242.5h1M56 225.5h1M67 240.5h1M76 245.5h1M63 231.5h1M65 240.5h1M73 246.5h1M72 243.5h1M71 234.5h1M75 233.5h1M65 241.5h1M65 243.5h1M66 245.5h1M62 241.5h1M66 239.5h1M72 230.5h1M66 247.5h1M63 238.5h1M77 235.5h1M75 241.5h1M74 236.5h1M60 250.5h1M74 232.5h1M77 245.5h1M74 246.5h1M73 242.5h1M56 233.5h1M61 240.5h1M65 239.5h1M66 248.5h1M69 236.5h1M74 240.5h1M63 238.5h1M63 230.5h1M72 243.5h1M67 230.5h1M73 235.5h1M62 246.5h1M78 237.5h1M67 225.5h1M60 243.5h1M73 236.5h1M68 234.5h1M69 245.5h1M67 240.5h1M69 234.5h1M78 244.5h1M65 233.5h1M55 243.5h1M72 241.5h1M59 247.5h1M66 236.5h1M58 235.5h1M63 239.5h1M68 241.5h1M57 240.5h1M66 239.5h1M61 228.5h1M61 235.5h1M75 238.5h1M60 238.5h1M64 235.5h1M64 236.5h1M69 242.5h1M68 242.5h1M58 226.5h1M66 239.5h1M71 241.5h1M63 235.5h1M82 242.5h1M65 225.5h1M62 241.5h1M75 240.5h1M63 231.5h1M66 240.5h1M66 240.5h1M69 240.5h1M65 236.5h1M62 245.5h1M70 246.5h1M73 234.5h1M64 233.5h1M68 240.5h1M70 233.5h1M69 238.5h1M71 247.5h1M68 238.5h1M75 231.5h1M63 245.5h1M65 238.5h1M64 239.5h1M64 246.5h1M75 226.5h1M65 236.5h1M72 244.5h1M65 235.5h1M56 250.5h1M72 242.5h1M62 234.5h1M78 232.5h1M66 242.5h1M59 239.5h1M76 237.5h1M77 236.5h1M70 228.5h1M74 235.5h1M69 231.5h1M71 250.5h1M64 237.5h1M59 246.5h1M76 241.5h1M67 236.5h1M63 237.5h1M71 243.5h1M69 235.5h1M59 234.5h1M65 241.5h1M71 236.5h1M68 235.5h1M68 243.5h1M63 238.5h1M75 232.5h1M65 235.5h1M68 235.5h1M66 239.5h1M76 240.5h1M65 233.5h1M75 243.5h1M61 240.5h1M62 240.5h1M69 237.5h1M70 231.5h1M63 223.5h1M65 234.5h1M68 237.5h1M58 229.5h1M61 241.5h1M63 239.5h1M54 248.5h1M64 233.5h1M76 231.5h1M72 235.5h1M71 238.5h1M74 247.5h1M64 239.5h1M64 244.5h1M68 242.5h1M63 238.5h1M68 238.5h1M63 235.5h1M69 247.5h1M67 249.5h1M71 237.5h1M72 239.5h1M63 242.5h1M72 235.5h1M68 239.5h1M57 234.5h1M60 238.5h1M69 242.5h1M56 237.5h1M67 242.5h1M54 245.5h1M60 248.5h1M58 234.5h1M70 240.5h1M71 248.5h1M59 247.5h1M69 235.5h1M57 240.5h1M71 229.5h1M64 244.5h1M63 250.5h1M78 232.5h1M62 233.5h1M66 240.5h1M74 240.5h1M60 245.5h1M69 239.5h1M72 235.5h1M65 235.5h1M62 238.5h1M66 237.5h1M63 241.5h1M69 240.5h1M67 239.5h1M63 239.5h1M66 239.5h1M69 244.5h1M67 233.5h1M67 239.5h1M64 242.5h1M67 243.5h1M68 237.5h1M64 240.5h1M63 233.5h1M54 243.5h1M67 233.5h1M64 242.5h1M75 240.5h1M71 234.5h1M93 220.5h1M77 226.5h1M86 230.5h1M72 233.5h1M76 230.5h1M69 237.5h1M72 239.5h1M85 228.5h1M86 232.5h1M86 231.5h1M72 236.5h1M83 232.5h1M85 232.5h1M82 239.5h1M77 238.5h1M86 227.5h1M64 235.5h1M74 230.5h1M74 227.5h1M93 220.5h1" stroke="#000" stroke-opacity="0.32" stroke-width="1"/>
<path d="M61 234.5h1M65 243.5h1M77 233.5h1M60 233.5h1M68 238.5h1M62 244.5h1M71 243.5h1M70 238.5h1M72 241.5h1M68 243.5h1M71 240.5h1M78 227.5h1M81 228.5h1M70 236.5h1M65 233.5h1M79 238.5h1M58 245.5h1M64 241.5h1M65 238.5h1M63 236.5h1M71 237.5h1M64 241.5h1M63 241.5h1M69 233.5h1M66 246.5h1M74 237.5h1M58 241.5h1M80 233.5h1M62 240.5h1M68 228.5h1M72 235.5h1M63 237.5h1M67 235.5h1M70 241.5h1M76 234.5h1M67 242.5h1M68 240.5h1M58 237.5h1M70 227.5h1M68 236.5h1M68 236.5h1M74 235.5h1M74 231.5h1M64 243.5h1M56 239.5h1M61 246.5h1M74 239.5h1M78 240.5h1M74 247.5h1M77 226.5h1M63 234.5h1M62 244.5h1M75 243.5h1M72 225.5h1M74 226.5h1M71 246.5h1M69 244.5h1M70 233.5h1M74 243.5h1M65 239.5h1M60 240.5h1M62 241.5h1M68 233.5h1M56 239.5h1M57 238.5h1M69 233.5h1M61 241.5h1M69 244.5h1M64 239.5h1M77 232.5h1M65 241.5h1M57 239.5h1M80 236.5h1M68 242.5h1M65 238.5h1M66 232.5h1M66 233.5h1M78 224.5h1M68 228.5h1M62 229.5h1M60 238.5h1M73 238.5h1M69 246.5h1M78 239.5h1M74 237.5h1M76 238.5h1M73 231.5h1M64 240.5h1M65 232.5h1M69 241.5h1M61 249.5h1M61 232.5h1M74 243.5h1M83 234.5h1M68 243.5h1M75 243.5h1M65 244.5h1M69 236.5h1M58 241.5h1M67 240.5h1M68 233.5h1M77 238.5h1M58 245.5h1M70 230.5h1M67 234.5h1M69 236.5h1M68 235.5h1M67 240.5h1M55 244.5h1M61 243.5h1M83 243.5h1M79 246.5h1M61 247.5h1M69 243.5h1M67 241.5h1M65 243.5h1M58 240.5h1M64 242.5h1M66 230.5h1M65 237.5h1M66 224.5h1M65 246.5h1M77 230.5h1M78 226.5h1M63 249.5h1M66 246.5h1M57 244.5h1M61 246.5h1M62 239.5h1M85 232.5h1M71 238.5h1M60 244.5h1M68 239.5h1M68 229.5h1M65 230.5h1M69 234.5h1M66 240.5h1M61 240.5h1M69 245.5h1M77 236.5h1M61 244.5h1M68 242.5h1M63 236.5h1M71 246.5h1M62 230.5h1M78 230.5h1M61 242.5h1M69 242.5h1M73 233.5h1M71 241.5h1M71 232.5h1M73 246.5h1M68 241.5h1M61 240.5h1M63 242.5h1M67 240.5h1M68 238.5h1M60 239.5h1M63 236.5h1M62 242.5h1M71 236.5h1M75 242.5h1M65 238.5h1M74 237.5h1M64 240.5h1M63 244.5h1M55 230.5h1M77 241.5h1M59 248.5h1M64 250.5h1M67 240.5h1M58 235.5h1M69 249.5h1M67 241.5h1M69 240.5h1M71 247.5h1M72 238.5h1M76 234.5h1M65 233.5h1M60 241.5h1M69 226.5h1M72 242.5h1M71 234.5h1M64 249.5h1M77 250.5h1M71 238.5h1M67 248.5h1M61 232.5h1M61 243.5h1M63 243.5h1M78 239.5h1M67 239.5h1M64 244.5h1M61 233.5h1M70 233.5h1M59 242.5h1M63 241.5h1M69 240.5h1M64 237.5h1M64 236.5h1M66 238.5h1M65 235.5h1M66 234.5h1M76 235.5h1M67 236.5h1M65 244.5h1M68 244.5h1M60 235.5h1M64 238.5h1M68 239.5h1M65 238.5h1M65 244.5h1M67 242.5h1M70 242.5h1M68 239.5h1M65 242.5h1M62 244.5h1M65 241.5h1M61 248.5h1M67 239.5h1M58 242.5h1M71 241.5h1M60 243.5h1M64 246.5h1M69 238.5h1M65 242.5h1M65 240.5h1M62 239.5h1M68 246.5h1M67 235.5h1M87 232.5h1M80 230.5h1M90 228.5h1M70 227.5h1M81 232.5h1M77 230.5h1M84 229.5h1M79 221.5h1M65 233.5h1M79 227.5h1M81 228.5h1M67 239.5h1M70 227.5h1M68 232.5h1M78 235.5h1M82 214.5h1M104 229.5h1M102 221.5h1M95 231.5h1M97 207.5h1M105 219.5h1" stroke="#000" stroke-opacity="0.32" stroke-width="1"/>
<path d="M74 244.5h1M58 228.5h1M63 241.5h1M74 230.5h1M66 241.5h1M61 249.5h1M68 245.5h1M70 240.5h1M69 237.5h1M70 234.5h1M70 241.5h1M66 243.5h1M68 242.5h1M72 240.5h1M69 236.5h1M74 240.5h1M68 240.5h1M69 236.5h1M70 242.5h1M59 234.5h1M66 235.5h1M64 223.5h1M62 237.5h1M65 242.5h1M82 242.5h1M63 230.5h1M64 234.5h1M65 241.5h1M71 230.5h1M56 233.5h1M65 238.5h1M57 235.5h1M70 231.5h1M65 244.5h1M76 231.5h1M61 230.5h1M84 232.5h1M78 234.5h1M62 232.5h1M65 239.5h1M61 237.5h1M66 238.5h1M60 234.5h1M66 237.5h1M60 238.5h1M72 233.5h1M63 236.5h1M64 229.5h1M66 238.5h1M75 237.5h1M69 237.5h1M65 240.5h1M80 244.5h1M76 232.5h1M68 243.5h1M75 246.5h1M68 245.5h1M57 244.5h1M63 243.5h1M68 235.5h1M61 239.5h1M75 229.5h1M61 232.5h1M61 236.5h1M63 239.5h1M70 238.5h1M74 242.5h1M68 232.5h1M72 242.5h1M72 241.5h1M67 238.5h1M64 232.5h1M68 240.5h1M62 223.5h1M74 243.5h1M71 225.5h1M57 234.5h1M74 238.5h1M75 244.5h1M73 231.5h1M72 229.5h1M61 240.5h1M67 245.5h1M67 241.5h1M71 237.5h1M66 241.5h1M74 233.5h1M66 235.5h1M71 246.5h1M76 240.5h1M75 230.5h1M62 240.5h1M75 239.5h1M70 243.5h1M65 246.5h1M62 236.5h1M61 228.5h1M67 238.5h1M62 240.5h1M65 240.5h1M75 229.5h1M64 240.5h1M67 239.5h1M74 228.5h1M66 240.5h1M67 238.5h1M65 232.5h1M63 244.5h1M72 241.5h1M58 240.5h1M71 247.5h1M71 240.5h1M55 243.5h1M67 246.5h1M67 244.5h1M63 233.5h1M58 243.5h1M65 238.5h1M61 235.5h1M68 241.5h1M63 242.5h1M67 248.5h1M64 234.5h1M65 245.5h1M71 232.5h1M64 240.5h1M71 243.5h1M67 237.5h1M73 241.5h1M61 241.5h1M66 239.5h1M81 235.5h1M70 234.5h1M75 230.5h1M57 240.5h1M55 240.5h1M77 244.5h1M70 243.5h1M70 238.5h1M59 234.5h1M62 235.5h1M63 249.5h1M63 239.5h1M67 236.5h1M77 244.5h1M72 239.5h1M72 241.5h1M79 244.5h1M65 228.5h1M60 241.5h1M72 244.5h1M62 234.5h1M60 238.5h1M62 239.5h1M63 240.5h1M69 239.5h1M59 248.5h1M71 240.5h1M65 233.5h1M69 240.5h1M59 236.5h1M67 232.5h1M63 233.5h1M71 237.5h1M72 237.5h1M67 245.5h1M62 234.5h1M64 241.5h1M78 237.5h1M70 232.5h1M74 238.5h1M65 234.5h1M60 237.5h1M62 244.5h1M70 224.5h1M74 245.5h1M73 229.5h1M62 245.5h1M60 239.5h1M63 225.5h1M63 235.5h1M66 236.5h1M67 237.5h1M60 247.5h1M57 235.5h1M61 242.5h1M65 232.5h1M75 233.5h1M69 239.5h1M63 248.5h1M63 236.5h1M63 235.5h1M60 241.5h1M71 237.5h1M74 236.5h1M73 237.5h1M65 241.5h1M65 232.5h1M59 235.5h1M76 245.5h1M59 247.5h1M72 236.5h1M60 240.5h1M75 247.5h1M71 234.5h1M61 241.5h1M74 243.5h1M67 244.5h1M67 240.5h1M65 239.5h1M68 245.5h1M71 243.5h1M68 240.5h1M65 241.5h1M65 244.5h1M67 248.5h1M72 237.5h1M68 239.5h1M68 241.5h1M61 237.5h1M60 232.5h1M61 242.5h1M67 240.5h1M66 236.5h1M66 240.5h1M65 243.5h1M70 234.5h1M62 238.5h1M71 249.5h1M68 238.5h1M69 241.5h1M62 237.5h1M68 242.5h1M63 241.5h1M64 235.5h1M80 230.5h1M74 235.5h1M67 229.5h1M71 227.5h1M69 237.5h1M73 231.5h1M80 229.5h1M75 225.5h1M80 227.5h1M84 221.5h1M68 241.5h1M108 211.5h1M82 218.5h1M91 201.5h1M95 218.5h1" stroke="#000" stroke-opacity="0.32" stroke-width="1"/>
<rect x="53.5" y="186" width="94" height="65.9" fill="none" stroke="#3c3c3c" stroke-width="1"/>
<path d="M93.8 186V251.9M53.5 214.2H147.5" stroke="#3c3c3c" stroke-width="1" fill="none"/>
<text x="84.3" y="207.8" font-size="4.3" text-anchor="middle" fill="#222" stroke="#222" stroke-width="0.12" font-weight="bold">Q1</text>
<text x="102.3" y="207.8" font-size="4.3" text-anchor="middle" fill="#222" stroke="#222" stroke-width="0.12" font-weight="bold">Q2</text>
<text x="84.3" y="225.8" font-size="4.3" text-anchor="middle" fill="#222" stroke="#222" stroke-width="0.12" font-weight="bold">Q3</text>
<text x="102.3" y="225.8" font-size="4.3" text-anchor="middle" fill="#222" stroke="#222" stroke-width="0.12" font-weight="bold">Q4</text>
<path d="M53.5 193.8h-3M53.5 205.12h-1.8M53.5 202.27h-1.8M53.5 200.25h-1.8M53.5 198.68h-1.8M53.5 197.39h-1.8M53.5 196.31h-1.8M53.5 195.37h-1.8M53.5 194.54h-1.8M53.5 210h-3M53.5 221.32h-1.8M53.5 218.47h-1.8M53.5 216.45h-1.8M53.5 214.88h-1.8M53.5 213.59h-1.8M53.5 212.51h-1.8M53.5 211.57h-1.8M53.5 210.74h-1.8M53.5 226.2h-3M53.5 237.52h-1.8M53.5 234.67h-1.8M53.5 232.65h-1.8M53.5 231.08h-1.8M53.5 229.79h-1.8M53.5 228.71h-1.8M53.5 227.77h-1.8M53.5 226.94h-1.8M53.5 242.4h-3M53.5 250.87h-1.8M53.5 248.85h-1.8M53.5 247.28h-1.8M53.5 245.99h-1.8M53.5 244.91h-1.8M53.5 243.97h-1.8M53.5 243.14h-1.8M54.75 251.9v1.8M57.7 251.9v1.8M59.99 251.9v1.8M61.86 251.9v1.8M63.44 251.9v1.8M64.81 251.9v1.8M66.02 251.9v1.8M67.1 251.9v3M74.21 251.9v1.8M78.37 251.9v1.8M81.32 251.9v1.8M83.61 251.9v1.8M85.48 251.9v1.8M87.06 251.9v1.8M88.43 251.9v1.8M89.64 251.9v1.8M90.72 251.9v3M97.83 251.9v1.8M101.99 251.9v1.8M104.94 251.9v1.8M107.23 251.9v1.8M109.1 251.9v1.8M110.68 251.9v1.8M112.05 251.9v1.8M113.26 251.9v1.8M114.34 251.9v3M121.45 251.9v1.8M125.61 251.9v1.8M128.56 251.9v1.8M130.85 251.9v1.8M132.72 251.9v1.8M134.3 251.9v1.8M135.67 251.9v1.8M136.88 251.9v1.8M137.96 251.9v3M145.07 251.9v1.8" stroke="#333" stroke-width="0.8" fill="none"/>
<text x="47.9" y="196.1" font-size="6.3" text-anchor="end" fill="#1e1e1e" stroke="#1e1e1e" stroke-width="0.25">10<tspan font-size="3.9" dy="-3.0">5</tspan></text>
<text x="47.9" y="212.3" font-size="6.3" text-anchor="end" fill="#1e1e1e" stroke="#1e1e1e" stroke-width="0.25">10<tspan font-size="3.9" dy="-3.0">4</tspan></text>
<text x="47.9" y="228.5" font-size="6.3" text-anchor="end" fill="#1e1e1e" stroke="#1e1e1e" stroke-width="0.25">10<tspan font-size="3.9" dy="-3.0">3</tspan></text>
<text x="47.9" y="244.7" font-size="6.3" text-anchor="end" fill="#1e1e1e" stroke="#1e1e1e" stroke-width="0.25">10<tspan font-size="3.9" dy="-3.0">2</tspan></text>
<text x="67.1" y="262.8" font-size="6.3" text-anchor="middle" fill="#1e1e1e" stroke="#1e1e1e" stroke-width="0.25">10<tspan font-size="3.9" dy="-3.0">2</tspan></text>
<text x="90.72" y="262.8" font-size="6.3" text-anchor="middle" fill="#1e1e1e" stroke="#1e1e1e" stroke-width="0.25">10<tspan font-size="3.9" dy="-3.0">3</tspan></text>
<text x="114.34" y="262.8" font-size="6.3" text-anchor="middle" fill="#1e1e1e" stroke="#1e1e1e" stroke-width="0.25">10<tspan font-size="3.9" dy="-3.0">4</tspan></text>
<text x="137.96" y="262.8" font-size="6.3" text-anchor="middle" fill="#1e1e1e" stroke="#1e1e1e" stroke-width="0.25">10<tspan font-size="3.9" dy="-3.0">5</tspan></text>
<path d="M211 198.5h1M227 199.5h1M230 204.5h1M199 198.5h1M208 197.5h1M206 199.5h1M199 201.5h1M213 197.5h1M217 194.5h1M233 195.5h1M215 199.5h1M236 196.5h1M226 191.5h1M209 195.5h1M200 197.5h1M206 192.5h1M204 201.5h1M212 197.5h1M222 194.5h1M185 200.5h1M217 194.5h1M214 200.5h1M212 200.5h1M195 197.5h1M201 203.5h1M191 199.5h1M226 192.5h1M207 205.5h1M210 198.5h1M206 196.5h1M206 203.5h1M188 199.5h1M210 204.5h1M221 202.5h1M198 201.5h1M198 202.5h1M230 194.5h1M216 194.5h1M224 197.5h1M184 205.5h1M196 201.5h1M219 205.5h1M188 199.5h1M181 198.5h1M205 203.5h1M183 202.5h1M220 201.5h1M218 201.5h1M207 196.5h1M188 193.5h1M196 199.5h1M224 200.5h1M202 198.5h1M232 199.5h1M193 200.5h1M195 197.5h1M189 199.5h1M225 197.5h1M216 197.5h1M188 197.5h1M182 198.5h1M202 198.5h1M204 203.5h1M215 199.5h1M230 200.5h1M244 197.5h1M201 193.5h1M192 191.5h1M190 198.5h1M217 202.5h1M184 201.5h1M200 197.5h1M228 198.5h1M185 203.5h1M208 197.5h1M231 193.5h1M227 199.5h1M224 191.5h1M205 196.5h1M224 189.5h1M187 196.5h1M193 201.5h1M188 200.5h1M222 199.5h1M206 192.5h1M214 198.5h1M234 195.5h1M199 206.5h1M188 199.5h1M205 195.5h1M231 197.5h1M184 198.5h1M197 189.5h1M231 196.5h1M215 198.5h1M195 195.5h1M187 196.5h1M186 203.5h1M197 201.5h1M186 194.5h1M219 197.5h1M229 191.5h1M214 198.5h1M238 198.5h1M214 201.5h1M217 194.5h1M185 192.5h1M190 196.5h1M216 194.5h1M198 192.5h1M206 199.5h1M207 201.5h1M234 197.5h1M195 203.5h1M205 204.5h1M203 199.5h1M207 199.5h1M230 194.5h1M210 200.5h1M193 198.5h1M215 197.5h1M228 194.5h1M232 200.5h1M226 199.5h1M218 198.5h1M232 195.5h1M226 200.5h1M228 197.5h1M200 199.5h1M226 200.5h1M209 196.5h1M199 197.5h1M212 197.5h1M228 198.5h1M225 199.5h1M228 201.5h1M218 206.5h1M228 198.5h1M183 205.5h1M211 196.5h1M192 195.5h1M198 201.5h1M205 199.5h1M231 195.5h1M202 196.5h1M220 196.5h1M228 193.5h1M212 195.5h1M214 199.5h1M221 198.5h1M221 201.5h1M218 204.5h1M208 197.5h1M201 198.5h1M193 200.5h1M256 205.5h1M181 193.5h1M213 191.5h1M202 192.5h1M217 194.5h1M238 188.5h1M216 196.5h1M227 195.5h1M182 199.5h1M207 201.5h1M224 194.5h1M215 206.5h1M184 237.5h1M189 228.5h1M182 236.5h1M191 238.5h1M180 235.5h1M196 246.5h1M188 237.5h1M187 236.5h1M176 237.5h1M189 243.5h1M177 234.5h1M193 236.5h1M186 233.5h1M181 231.5h1M192 238.5h1M192 229.5h1M186 238.5h1M198 234.5h1M181 238.5h1M192 236.5h1M182 238.5h1M188 232.5h1M195 224.5h1M179 238.5h1M189 244.5h1M182 232.5h1M199 238.5h1M189 229.5h1M180 233.5h1M182 236.5h1M181 235.5h1M189 238.5h1M183 245.5h1M190 230.5h1M194 247.5h1M181 241.5h1M189 237.5h1M186 238.5h1M191 237.5h1M186 232.5h1M180 236.5h1M194 242.5h1M193 235.5h1M184 238.5h1M189 238.5h1M184 242.5h1M183 240.5h1M182 230.5h1M196 238.5h1M185 237.5h1M194 243.5h1M187 231.5h1M180 241.5h1M182 233.5h1M193 241.5h1M190 239.5h1M184 232.5h1M187 234.5h1M189 238.5h1M177 236.5h1M184 235.5h1M184 239.5h1M195 234.5h1M181 231.5h1M183 246.5h1M179 236.5h1M187 245.5h1M181 238.5h1M184 244.5h1M191 231.5h1M189 240.5h1M183 228.5h1M210 230.5h1M193 222.5h1M200 222.5h1M222 208.5h1M205 213.5h1" stroke="#000" stroke-opacity="0.32" stroke-width="1"/>
<path d="M206 198.5h1M211 197.5h1M225 200.5h1M193 201.5h1M211 197.5h1M229 204.5h1M209 198.5h1M208 189.5h1M211 196.5h1M192 195.5h1M241 197.5h1M237 198.5h1M228 203.5h1M211 192.5h1M191 201.5h1M222 196.5h1M224 202.5h1M204 195.5h1M204 196.5h1M232 193.5h1M207 200.5h1M235 192.5h1M182 203.5h1M207 199.5h1M207 205.5h1M204 195.5h1M229 198.5h1M223 197.5h1M236 203.5h1M199 201.5h1M227 204.5h1M199 199.5h1M210 201.5h1M200 199.5h1M195 197.5h1M205 200.5h1M218 196.5h1M233 199.5h1M206 199.5h1M231 203.5h1M228 195.5h1M195 208.5h1M184 199.5h1M200 197.5h1M182 193.5h1M213 197.5h1M221 198.5h1M217 199.5h1M227 192.5h1M227 198.5h1M229 203.5h1M199 197.5h1M200 197.5h1M223 197.5h1M211 194.5h1M198 196.5h1M204 206.5h1M239 202.5h1M238 194.5h1M227 197.5h1M190 196.5h1M233 195.5h1M240 197.5h1M188 202.5h1M207 197.5h1M240 194.5h1M208 196.5h1M185 196.5h1M222 201.5h1M221 193.5h1M217 199.5h1M209 197.5h1M183 190.5h1M210 199.5h1M215 204.5h1M198 197.5h1M210 195.5h1M217 196.5h1M236 200.5h1M196 197.5h1M201 203.5h1M193 208.5h1M229 199.5h1M205 197.5h1M197 199.5h1M205 198.5h1M229 198.5h1M221 202.5h1M216 197.5h1M195 199.5h1M204 205.5h1M204 194.5h1M224 197.5h1M198 195.5h1M206 206.5h1M184 196.5h1M227 193.5h1M194 201.5h1M194 193.5h1M201 195.5h1M220 198.5h1M207 201.5h1M226 201.5h1M198 200.5h1M195 202.5h1M201 201.5h1M211 206.5h1M219 201.5h1M224 199.5h1M189 202.5h1M186 201.5h1M219 198.5h1M232 199.5h1M223 194.5h1M238 201.5h1M191 197.5h1M215 199.5h1M232 194.5h1M189 196.5h1M190 197.5h1M236 193.5h1M229 204.5h1M191 198.5h1M215 200.5h1M205 199.5h1M199 200.5h1M234 200.5h1M226 195.5h1M224 194.5h1M183 197.5h1M217 207.5h1M209 201.5h1M228 195.5h1M217 204.5h1M205 196.5h1M199 200.5h1M189 199.5h1M198 198.5h1M195 198.5h1M209 200.5h1M199 198.5h1M191 201.5h1M197 201.5h1M202 199.5h1M201 194.5h1M203 205.5h1M212 195.5h1M235 202.5h1M212 192.5h1M229 199.5h1M195 195.5h1M215 205.5h1M186 200.5h1M210 203.5h1M226 194.5h1M201 197.5h1M220 193.5h1M220 195.5h1M221 201.5h1M230 192.5h1M197 204.5h1M208 199.5h1M202 205.5h1M200 198.5h1M232 204.5h1M239 194.5h1M240 190.5h1M242 204.5h1M251 188.5h1M198 189.5h1M202 193.5h1M247 204.5h1M234 204.5h1M230 200.5h1M226 200.5h1M222 201.5h1M221 208.5h1M185 249.5h1M186 238.5h1M192 242.5h1M193 228.5h1M184 236.5h1M190 240.5h1M186 234.5h1M193 237.5h1M189 238.5h1M191 245.5h1M181 230.5h1M193 249.5h1M190 246.5h1M182 241.5h1M184 228.5h1M195 244.5h1M187 239.5h1M194 230.5h1M181 234.5h1M191 245.5h1M186 227.5h1M181 231.5h1M185 235.5h1M193 247.5h1M184 237.5h1M184 232.5h1M187 238.5h1M190 227.5h1M186 242.5h1M193 229.5h1M193 240.5h1M189 240.5h1M182 234.5h1M184 235.5h1M184 232.5h1M189 226.5h1M193 233.5h1M183 237.5h1M187 234.5h1M188 230.5h1M194 233.5h1M193 241.5h1M190 235.5h1M182 237.5h1M182 237.5h1M185 233.5h1M191 232.5h1M192 231.5h1M191 246.5h1M188 239.5h1M189 230.5h1M185 237.5h1M184 233.5h1M186 238.5h1M179 236.5h1M184 239.5h1M186 235.5h1M186 239.5h1M182 236.5h1M188 234.5h1M187 240.5h1M194 229.5h1M187 231.5h1M190 238.5h1M184 237.5h1M177 235.5h1M188 232.5h1M186 248.5h1M183 235.5h1M182 232.5h1M186 238.5h1M193 230.5h1M175 235.5h1M179 237.5h1M184 231.5h1M202 243.5h1M210 234.5h1M244 235.5h1M217 225.5h1M201 211.5h1M224 229.5h1M222 227.5h1" stroke="#000" stroke-opacity="0.32" stroke-width="1"/>
<path d="M198 200.5h1M193 198.5h1M238 200.5h1M233 195.5h1M211 201.5h1M230 198.5h1M225 207.5h1M215 204.5h1M210 197.5h1M197 201.5h1M187 204.5h1M228 196.5h1M199 200.5h1M230 200.5h1M229 200.5h1M206 200.5h1M231 207.5h1M214 198.5h1M200 200.5h1M182 198.5h1M215 196.5h1M198 202.5h1M237 200.5h1M180 205.5h1M189 197.5h1M212 194.5h1M220 207.5h1M228 199.5h1M219 200.5h1M228 199.5h1M206 203.5h1M181 198.5h1M196 205.5h1M184 198.5h1M210 203.5h1M201 199.5h1M192 193.5h1M198 196.5h1M220 197.5h1M189 198.5h1M197 198.5h1M226 200.5h1M214 201.5h1M223 194.5h1M216 198.5h1M239 198.5h1M205 201.5h1M235 196.5h1M207 201.5h1M229 200.5h1M185 198.5h1M199 196.5h1M214 199.5h1M217 193.5h1M188 196.5h1M237 199.5h1M205 201.5h1M194 199.5h1M216 202.5h1M222 203.5h1M210 200.5h1M216 204.5h1M192 197.5h1M193 206.5h1M197 194.5h1M226 192.5h1M193 197.5h1M223 200.5h1M227 200.5h1M225 202.5h1M209 193.5h1M223 194.5h1M225 197.5h1M226 204.5h1M183 201.5h1M191 199.5h1M205 199.5h1M222 195.5h1M211 203.5h1M220 204.5h1M236 200.5h1M209 202.5h1M219 202.5h1M194 206.5h1M198 196.5h1M195 199.5h1M217 199.5h1M236 190.5h1M198 199.5h1M238 196.5h1M183 194.5h1M210 196.5h1M192 202.5h1M220 197.5h1M211 197.5h1M237 195.5h1M188 201.5h1M192 201.5h1M193 198.5h1M218 203.5h1M237 197.5h1M197 198.5h1M205 196.5h1M215 201.5h1M193 195.5h1M188 203.5h1M230 196.5h1M213 196.5h1M231 197.5h1M212 190.5h1M209 203.5h1M205 201.5h1M220 194.5h1M212 192.5h1M188 202.5h1M227 198.5h1M206 202.5h1M189 195.5h1M201 200.5h1M225 201.5h1M182 203.5h1M199 197.5h1M223 205.5h1M233 195.5h1M235 194.5h1M190 199.5h1M221 198.5h1M189 198.5h1M223 204.5h1M212 199.5h1M237 201.5h1M211 196.5h1M221 200.5h1M232 196.5h1M187 200.5h1M233 199.5h1M225 196.5h1M209 197.5h1M199 198.5h1M208 202.5h1M204 193.5h1M199 201.5h1M198 203.5h1M225 196.5h1M202 197.5h1M231 197.5h1M199 193.5h1M190 199.5h1M192 205.5h1M244 197.5h1M205 203.5h1M217 207.5h1M206 196.5h1M183 237.5h1M188 241.5h1M187 239.5h1M183 219.5h1M179 231.5h1M188 236.5h1M186 237.5h1M183 231.5h1M185 227.5h1M187 237.5h1M184 234.5h1M186 239.5h1M175 235.5h1M183 237.5h1M188 243.5h1M183 226.5h1M194 248.5h1M180 246.5h1M184 229.5h1M184 234.5h1M185 226.5h1M193 240.5h1M187 243.5h1M184 246.5h1M182 237.5h1M192 244.5h1M181 240.5h1M190 242.5h1M186 235.5h1M180 242.5h1M187 237.5h1M183 239.5h1M187 237.5h1M180 242.5h1M192 234.5h1M193 234.5h1M183 239.5h1M185 230.5h1M186 236.5h1M185 228.5h1M181 241.5h1M180 234.5h1M184 240.5h1M183 236.5h1M181 240.5h1M192 240.5h1M187 232.5h1M178 241.5h1M192 238.5h1M187 232.5h1M192 232.5h1M183 234.5h1M188 239.5h1M184 248.5h1M197 234.5h1M183 233.5h1M187 235.5h1M188 244.5h1M183 238.5h1M185 240.5h1M180 241.5h1M190 241.5h1M190 237.5h1M189 233.5h1M185 243.5h1M182 232.5h1M185 232.5h1M189 232.5h1M181 241.5h1M189 238.5h1M182 231.5h1M187 237.5h1M184 236.5h1M189 240.5h1M182 240.5h1M208 229.5h1M233 237.5h1M193 211.5h1M188 207.5h1M205 206.5h1M228 204.5h1M240 221.5h1M267 217.5h1M228 213.5h1M229 219.5h1" stroke="#000" stroke-opacity="0.32" stroke-width="1"/>
<path d="M191 200.5h1M188 198.5h1M208 205.5h1M228 204.5h1M186 196.5h1M222 199.5h1M226 207.5h1M213 193.5h1M226 198.5h1M211 202.5h1M235 198.5h1M221 201.5h1M203 200.5h1M203 198.5h1M221 196.5h1M208 199.5h1M192 201.5h1M201 201.5h1M194 205.5h1M195 201.5h1M203 202.5h1M218 199.5h1M187 198.5h1M199 198.5h1M220 198.5h1M187 200.5h1M199 200.5h1M193 192.5h1M221 196.5h1M223 202.5h1M230 196.5h1M215 194.5h1M215 200.5h1M224 198.5h1M212 200.5h1M183 194.5h1M198 198.5h1M221 197.5h1M236 202.5h1M202 196.5h1M196 195.5h1M196 199.5h1M217 199.5h1M195 197.5h1M196 195.5h1M216 196.5h1M207 196.5h1M239 198.5h1M196 200.5h1M235 201.5h1M187 200.5h1M208 200.5h1M188 202.5h1M198 197.5h1M191 201.5h1M218 198.5h1M198 195.5h1M231 203.5h1M208 201.5h1M209 195.5h1M221 204.5h1M200 202.5h1M226 203.5h1M187 196.5h1M214 197.5h1M219 203.5h1M219 201.5h1M215 211.5h1M224 196.5h1M212 195.5h1M206 193.5h1M222 199.5h1M224 199.5h1M211 197.5h1M208 198.5h1M195 201.5h1M225 199.5h1M188 199.5h1M202 198.5h1M229 192.5h1M211 195.5h1M196 199.5h1M207 197.5h1M215 196.5h1M196 205.5h1M217 202.5h1M228 200.5h1M208 202.5h1M231 200.5h1M212 202.5h1M227 198.5h1M201 201.5h1M220 200.5h1M192 194.5h1M235 201.5h1M199 194.5h1M194 202.5h1M227 194.5h1M218 201.5h1M220 203.5h1M196 196.5h1M207 198.5h1M210 194.5h1M230 195.5h1M228 199.5h1M183 205.5h1M233 198.5h1M217 198.5h1M227 196.5h1M208 202.5h1M196 196.5h1M186 197.5h1M205 196.5h1M189 197.5h1M184 199.5h1M192 201.5h1M221 197.5h1M196 196.5h1M221 197.5h1M217 202.5h1M220 200.5h1M238 200.5h1M208 197.5h1M245 198.5h1M236 193.5h1M217 194.5h1M224 200.5h1M208 199.5h1M215 196.5h1M230 195.5h1M192 200.5h1M233 195.5h1M183 198.5h1M193 198.5h1M202 199.5h1M220 192.5h1M186 200.5h1M193 201.5h1M212 199.5h1M221 202.5h1M206 198.5h1M186 196.5h1M226 204.5h1M208 204.5h1M199 198.5h1M231 200.5h1M202 195.5h1M218 194.5h1M194 196.5h1M219 197.5h1M209 197.5h1M205 195.5h1M211 199.5h1M207 195.5h1M200 198.5h1M230 199.5h1M180 199.5h1M201 199.5h1M213 194.5h1M237 193.5h1M226 204.5h1M214 205.5h1M200 193.5h1M209 199.5h1M235 205.5h1M192 198.5h1M221 194.5h1M213 193.5h1M180 191.5h1M213 193.5h1M219 203.5h1M212 189.5h1M207 208.5h1M193 201.5h1M197 196.5h1M206 196.5h1M203 204.5h1M179 246.5h1M189 235.5h1M187 234.5h1M184 239.5h1M180 240.5h1M188 246.5h1M196 242.5h1M185 234.5h1M191 237.5h1M191 240.5h1M188 227.5h1M193 237.5h1M182 231.5h1M184 243.5h1M188 239.5h1M187 234.5h1M186 232.5h1M186 230.5h1M186 237.5h1M183 240.5h1M187 246.5h1M182 241.5h1M191 233.5h1M196 236.5h1M191 243.5h1M189 236.5h1M180 242.5h1M196 241.5h1M183 240.5h1M190 227.5h1M183 243.5h1M189 242.5h1M183 242.5h1M192 238.5h1M186 241.5h1M189 234.5h1M189 245.5h1M192 239.5h1M192 240.5h1M183 224.5h1M184 234.5h1M187 242.5h1M190 244.5h1M192 241.5h1M178 233.5h1M184 238.5h1M180 231.5h1M178 243.5h1M189 240.5h1M197 236.5h1M192 233.5h1M180 239.5h1M196 240.5h1M190 231.5h1M186 245.5h1M188 234.5h1M187 229.5h1M177 228.5h1M185 237.5h1M188 231.5h1M182 244.5h1M182 244.5h1M178 234.5h1M182 236.5h1M194 243.5h1M189 225.5h1M178 242.5h1M186 227.5h1M219 221.5h1M228 204.5h1M201 225.5h1M197 211.5h1M214 219.5h1M236 225.5h1M244 221.5h1M175 214.5h1M252 211.5h1" stroke="#000" stroke-opacity="0.32" stroke-width="1"/>
<path d="M221 195.5h1M236 196.5h1M182 201.5h1M213 200.5h1M222 196.5h1M234 200.5h1M229 206.5h1M210 200.5h1M201 202.5h1M191 196.5h1M215 196.5h1M186 197.5h1M209 196.5h1M207 200.5h1M237 201.5h1M237 196.5h1M216 199.5h1M216 201.5h1M228 193.5h1M230 198.5h1M190 198.5h1M216 197.5h1M229 201.5h1M215 204.5h1M186 197.5h1M221 198.5h1M186 199.5h1M222 204.5h1M224 196.5h1M216 203.5h1M224 199.5h1M219 199.5h1M217 200.5h1M231 203.5h1M234 197.5h1M196 200.5h1M230 202.5h1M235 193.5h1M189 202.5h1M209 196.5h1M233 198.5h1M204 198.5h1M222 195.5h1M227 199.5h1M200 191.5h1M238 199.5h1M215 194.5h1M202 196.5h1M206 199.5h1M201 198.5h1M211 205.5h1M218 194.5h1M187 199.5h1M207 197.5h1M217 195.5h1M230 200.5h1M190 200.5h1M223 202.5h1M227 197.5h1M198 200.5h1M227 196.5h1M213 199.5h1M217 202.5h1M189 199.5h1M228 192.5h1M198 203.5h1M212 202.5h1M232 192.5h1M223 197.5h1M237 203.5h1M182 200.5h1M218 198.5h1M218 202.5h1M212 201.5h1M200 199.5h1M216 193.5h1M216 202.5h1M198 200.5h1M197 198.5h1M195 193.5h1M214 193.5h1M196 194.5h1M192 201.5h1M228 192.5h1M222 193.5h1M223 200.5h1M201 196.5h1M213 211.5h1M216 199.5h1M202 204.5h1M196 194.5h1M189 197.5h1M186 199.5h1M224 194.5h1M236 198.5h1M217 198.5h1M213 200.5h1M208 195.5h1M218 200.5h1M206 201.5h1M216 197.5h1M239 200.5h1M189 197.5h1M235 201.5h1M224 201.5h1M193 196.5h1M211 195.5h1M224 196.5h1M232 197.5h1M194 202.5h1M231 199.5h1M214 206.5h1M195 204.5h1M219 199.5h1M201 195.5h1M234 192.5h1M231 200.5h1M192 202.5h1M234 196.5h1M229 196.5h1M206 195.5h1M194 198.5h1M236 203.5h1M199 200.5h1M229 198.5h1M227 195.5h1M220 194.5h1M204 201.5h1M218 201.5h1M197 207.5h1M236 201.5h1M209 196.5h1M238 199.5h1M204 202.5h1M191 201.5h1M210 196.5h1M206 204.5h1M233 197.5h1M200 202.5h1M204 199.5h1M202 201.5h1M222 192.5h1M195 200.5h1M185 198.5h1M207 201.5h1M225 199.5h1M192 197.5h1M216 198.5h1M229 199.5h1M220 197.5h1M226 197.5h1M213 199.5h1M196 199.5h1M205 201.5h1M197 202.5h1M223 203.5h1M214 201.5h1M216 197.5h1M218 201.5h1M226 203.5h1M205 195.5h1M225 196.5h1M234 200.5h1M186 194.5h1M209 196.5h1M207 198.5h1M236 196.5h1M220 200.5h1M195 197.5h1M206 198.5h1M209 199.5h1M202 188.5h1M198 189.5h1M202 196.5h1M230 199.5h1M207 202.5h1M227 190.5h1M220 190.5h1M203 202.5h1M236 204.5h1M235 188.5h1M195 188.5h1M186 246.5h1M182 229.5h1M191 239.5h1M179 242.5h1M186 231.5h1M189 234.5h1M175 224.5h1M188 241.5h1M191 243.5h1M180 239.5h1M181 235.5h1M184 244.5h1M186 237.5h1M182 245.5h1M183 241.5h1M181 235.5h1M189 236.5h1M178 235.5h1M189 234.5h1M183 239.5h1M187 241.5h1M191 231.5h1M184 242.5h1M191 235.5h1M193 231.5h1M180 234.5h1M189 245.5h1M193 236.5h1M193 234.5h1M175 233.5h1M188 233.5h1M183 249.5h1M183 232.5h1M180 241.5h1M182 247.5h1M195 242.5h1M182 248.5h1M190 239.5h1M188 238.5h1M193 233.5h1M182 241.5h1M182 235.5h1M178 245.5h1M189 233.5h1M193 235.5h1M184 228.5h1M198 249.5h1M187 236.5h1M186 238.5h1M185 231.5h1M184 227.5h1M185 226.5h1M189 233.5h1M187 238.5h1M184 247.5h1M193 223.5h1M185 240.5h1M188 244.5h1M191 243.5h1M199 230.5h1M180 235.5h1M183 243.5h1M180 230.5h1M187 238.5h1M185 239.5h1M183 238.5h1M186 230.5h1M187 233.5h1M186 232.5h1M182 244.5h1M178 230.5h1M180 227.5h1M179 238.5h1M183 236.5h1M183 232.5h1M185 238.5h1M178 237.5h1M189 243.5h1M193 233.5h1M184 233.5h1M190 229.5h1M194 231.5h1M214 202.5h1M199 228.5h1M195 234.5h1M197 206.5h1M201 224.5h1M221 235.5h1M222 227.5h1M215 225.5h1M208 219.5h1M265 217.5h1M202 220.5h1" stroke="#000" stroke-opacity="0.32" stroke-width="1"/>
<rect x="174" y="186" width="94.7" height="65.9" fill="none" stroke="#3c3c3c" stroke-width="1"/>
<path d="M214.6 186V251.9M174 214.2H268.7" stroke="#3c3c3c" stroke-width="1" fill="none"/>
<text x="205.1" y="207.8" font-size="4.3" text-anchor="middle" fill="#222" stroke="#222" stroke-width="0.12" font-weight="bold">Q1</text>
<text x="223.1" y="207.8" font-size="4.3" text-anchor="middle" fill="#222" stroke="#222" stroke-width="0.12" font-weight="bold">Q2</text>
<text x="205.1" y="225.8" font-size="4.3" text-anchor="middle" fill="#222" stroke="#222" stroke-width="0.12" font-weight="bold">Q3</text>
<text x="223.1" y="225.8" font-size="4.3" text-anchor="middle" fill="#222" stroke="#222" stroke-width="0.12" font-weight="bold">Q4</text>
<path d="M174 193.8h-3M174 205.12h-1.8M174 202.27h-1.8M174 200.25h-1.8M174 198.68h-1.8M174 197.39h-1.8M174 196.31h-1.8M174 195.37h-1.8M174 194.54h-1.8M174 210h-3M174 221.32h-1.8M174 218.47h-1.8M174 216.45h-1.8M174 214.88h-1.8M174 213.59h-1.8M174 212.51h-1.8M174 211.57h-1.8M174 210.74h-1.8M174 226.2h-3M174 237.52h-1.8M174 234.67h-1.8M174 232.65h-1.8M174 231.08h-1.8M174 229.79h-1.8M174 228.71h-1.8M174 227.77h-1.8M174 226.94h-1.8M174 242.4h-3M174 250.87h-1.8M174 248.85h-1.8M174 247.28h-1.8M174 245.99h-1.8M174 244.91h-1.8M174 243.97h-1.8M174 243.14h-1.8M175.85 251.9v1.8M178.8 251.9v1.8M181.09 251.9v1.8M182.96 251.9v1.8M184.54 251.9v1.8M185.91 251.9v1.8M187.12 251.9v1.8M188.2 251.9v3M195.31 251.9v1.8M199.47 251.9v1.8M202.42 251.9v1.8M204.71 251.9v1.8M206.58 251.9v1.8M208.16 251.9v1.8M209.53 251.9v1.8M210.74 251.9v1.8M211.82 251.9v3M218.93 251.9v1.8M223.09 251.9v1.8M226.04 251.9v1.8M228.33 251.9v1.8M230.2 251.9v1.8M231.78 251.9v1.8M233.15 251.9v1.8M234.36 251.9v1.8M235.44 251.9v3M242.55 251.9v1.8M246.71 251.9v1.8M249.66 251.9v1.8M251.95 251.9v1.8M253.82 251.9v1.8M255.4 251.9v1.8M256.77 251.9v1.8M257.98 251.9v1.8M259.06 251.9v3M266.17 251.9v1.8" stroke="#333" stroke-width="0.8" fill="none"/>
<text x="168.4" y="196.1" font-size="6.3" text-anchor="end" fill="#1e1e1e" stroke="#1e1e1e" stroke-width="0.25">10<tspan font-size="3.9" dy="-3.0">5</tspan></text>
<text x="168.4" y="212.3" font-size="6.3" text-anchor="end" fill="#1e1e1e" stroke="#1e1e1e" stroke-width="0.25">10<tspan font-size="3.9" dy="-3.0">4</tspan></text>
<text x="168.4" y="228.5" font-size="6.3" text-anchor="end" fill="#1e1e1e" stroke="#1e1e1e" stroke-width="0.25">10<tspan font-size="3.9" dy="-3.0">3</tspan></text>
<text x="168.4" y="244.7" font-size="6.3" text-anchor="end" fill="#1e1e1e" stroke="#1e1e1e" stroke-width="0.25">10<tspan font-size="3.9" dy="-3.0">2</tspan></text>
<text x="188.2" y="262.8" font-size="6.3" text-anchor="middle" fill="#1e1e1e" stroke="#1e1e1e" stroke-width="0.25">10<tspan font-size="3.9" dy="-3.0">2</tspan></text>
<text x="211.82" y="262.8" font-size="6.3" text-anchor="middle" fill="#1e1e1e" stroke="#1e1e1e" stroke-width="0.25">10<tspan font-size="3.9" dy="-3.0">3</tspan></text>
<text x="235.44" y="262.8" font-size="6.3" text-anchor="middle" fill="#1e1e1e" stroke="#1e1e1e" stroke-width="0.25">10<tspan font-size="3.9" dy="-3.0">4</tspan></text>
<text x="259.06" y="262.8" font-size="6.3" text-anchor="middle" fill="#1e1e1e" stroke="#1e1e1e" stroke-width="0.25">10<tspan font-size="3.9" dy="-3.0">5</tspan></text>
<path d="M328 196.5h1M328 196.5h1M323 198.5h1M327 199.5h1M342 199.5h1M318 202.5h1M328 197.5h1M350 197.5h1M333 214.5h1M350 200.5h1M339 200.5h1M326 198.5h1M325 196.5h1M329 201.5h1M344 206.5h1M326 198.5h1M333 202.5h1M339 202.5h1M335 201.5h1M344 198.5h1M334 200.5h1M328 192.5h1M341 204.5h1M353 207.5h1M344 206.5h1M325 193.5h1M337 199.5h1M354 198.5h1M332 200.5h1M341 207.5h1M326 190.5h1M335 198.5h1M345 201.5h1M320 207.5h1M334 195.5h1M350 199.5h1M324 202.5h1M308 192.5h1M344 202.5h1M314 201.5h1M332 198.5h1M361 198.5h1M349 203.5h1M348 202.5h1M339 199.5h1M340 208.5h1M333 198.5h1M325 198.5h1M356 200.5h1M355 199.5h1M332 196.5h1M339 202.5h1M340 199.5h1M331 207.5h1M339 198.5h1M325 203.5h1M340 198.5h1M322 199.5h1M328 203.5h1M332 205.5h1M341 196.5h1M328 197.5h1M330 199.5h1M334 200.5h1M337 197.5h1M327 201.5h1M321 197.5h1M338 200.5h1M338 192.5h1M339 199.5h1M347 201.5h1M339 205.5h1M325 200.5h1M318 203.5h1M349 203.5h1M316 205.5h1M328 202.5h1M348 202.5h1M342 202.5h1M330 197.5h1M329 201.5h1M338 200.5h1M350 201.5h1M344 195.5h1M340 199.5h1M330 196.5h1M329 190.5h1M345 196.5h1M344 198.5h1M314 204.5h1M338 192.5h1M335 202.5h1M329 200.5h1M333 202.5h1M358 204.5h1M320 200.5h1M350 204.5h1M327 205.5h1M348 203.5h1M337 200.5h1M321 200.5h1M333 200.5h1M328 197.5h1M353 203.5h1M341 207.5h1M326 196.5h1M348 205.5h1M327 197.5h1M347 206.5h1M329 208.5h1M319 196.5h1M328 201.5h1M323 200.5h1M344 199.5h1M325 198.5h1M336 194.5h1M332 203.5h1M339 206.5h1M346 200.5h1M327 205.5h1M320 198.5h1M329 196.5h1M330 194.5h1M329 196.5h1M332 198.5h1M338 194.5h1M336 199.5h1M333 201.5h1M333 198.5h1M334 195.5h1M331 201.5h1M323 197.5h1M328 191.5h1M337 189.5h1M328 196.5h1M329 198.5h1M327 197.5h1M331 195.5h1M335 197.5h1M345 191.5h1M334 197.5h1M328 198.5h1M342 195.5h1M340 197.5h1M334 191.5h1M331 194.5h1M341 194.5h1M336 200.5h1M330 196.5h1M349 202.5h1M342 202.5h1M356 198.5h1M345 197.5h1M345 196.5h1M349 205.5h1M343 206.5h1M344 200.5h1M337 203.5h1M341 207.5h1M336 201.5h1M346 200.5h1M344 205.5h1M353 203.5h1M347 206.5h1M343 201.5h1M344 202.5h1M336 200.5h1M343 206.5h1M342 204.5h1M338 203.5h1M351 199.5h1M344 202.5h1M347 202.5h1M345 203.5h1M343 204.5h1M342 203.5h1M335 207.5h1M362 211.5h1M314 194.5h1M345 197.5h1M383 196.5h1M344 193.5h1M329 206.5h1M365 195.5h1M348 206.5h1M338 198.5h1M295 193.5h1M322 193.5h1M314 204.5h1M380 199.5h1M330 212.5h1M359 198.5h1M321 199.5h1M357 193.5h1M370 199.5h1M359 194.5h1M354 191.5h1M322 202.5h1M319 235.5h1M305 236.5h1M313 237.5h1M304 237.5h1M307 246.5h1M305 233.5h1M309 238.5h1M309 238.5h1M304 244.5h1M311 241.5h1M308 240.5h1M299 237.5h1M305 232.5h1M310 224.5h1M315 234.5h1M313 234.5h1M311 244.5h1M302 233.5h1M304 249.5h1M313 234.5h1M313 241.5h1M310 244.5h1M311 236.5h1M310 232.5h1M308 224.5h1M319 226.5h1M312 239.5h1M314 231.5h1M311 245.5h1M301 245.5h1M308 219.5h1M301 233.5h1M321 240.5h1M299 241.5h1M302 237.5h1M306 233.5h1M309 242.5h1M309 241.5h1M311 232.5h1M309 233.5h1M304 229.5h1M300 248.5h1M307 233.5h1M300 239.5h1M317 245.5h1M299 245.5h1M305 241.5h1M308 219.5h1M303 237.5h1M302 241.5h1M310 242.5h1M304 240.5h1M307 234.5h1M305 238.5h1M303 235.5h1M300 236.5h1M306 233.5h1M309 244.5h1M306 242.5h1M316 243.5h1M313 228.5h1M346 211.5h1M368 222.5h1M356 227.5h1M315 206.5h1M329 220.5h1" stroke="#000" stroke-opacity="0.32" stroke-width="1"/>
<path d="M334 207.5h1M326 204.5h1M357 197.5h1M321 206.5h1M336 194.5h1M357 196.5h1M349 197.5h1M333 200.5h1M327 200.5h1M320 200.5h1M337 202.5h1M326 204.5h1M334 192.5h1M356 201.5h1M325 197.5h1M349 199.5h1M339 192.5h1M334 199.5h1M337 197.5h1M328 190.5h1M333 197.5h1M313 194.5h1M326 200.5h1M326 195.5h1M324 196.5h1M338 203.5h1M335 198.5h1M329 196.5h1M343 201.5h1M345 205.5h1M347 196.5h1M334 198.5h1M330 199.5h1M340 193.5h1M340 204.5h1M343 198.5h1M335 206.5h1M331 198.5h1M325 200.5h1M326 199.5h1M339 190.5h1M331 199.5h1M316 195.5h1M333 199.5h1M342 193.5h1M338 200.5h1M329 208.5h1M330 192.5h1M329 195.5h1M350 198.5h1M344 199.5h1M351 200.5h1M334 200.5h1M347 202.5h1M342 199.5h1M344 199.5h1M328 199.5h1M319 201.5h1M335 201.5h1M330 197.5h1M326 199.5h1M343 195.5h1M359 201.5h1M355 204.5h1M324 203.5h1M327 191.5h1M330 195.5h1M338 198.5h1M326 198.5h1M346 200.5h1M324 208.5h1M349 193.5h1M331 205.5h1M344 202.5h1M347 205.5h1M318 201.5h1M328 201.5h1M339 198.5h1M332 200.5h1M327 198.5h1M338 196.5h1M315 200.5h1M322 199.5h1M320 200.5h1M324 202.5h1M339 196.5h1M345 196.5h1M321 211.5h1M327 201.5h1M327 191.5h1M338 202.5h1M332 203.5h1M349 198.5h1M328 207.5h1M339 197.5h1M319 207.5h1M330 198.5h1M313 195.5h1M348 203.5h1M348 197.5h1M345 209.5h1M346 198.5h1M352 194.5h1M324 201.5h1M318 203.5h1M333 195.5h1M328 194.5h1M345 201.5h1M316 201.5h1M323 196.5h1M347 200.5h1M334 198.5h1M333 187.5h1M331 198.5h1M327 199.5h1M330 194.5h1M329 197.5h1M334 195.5h1M336 202.5h1M336 201.5h1M339 197.5h1M321 199.5h1M333 194.5h1M328 195.5h1M326 200.5h1M330 200.5h1M329 196.5h1M334 194.5h1M330 201.5h1M334 197.5h1M331 193.5h1M324 197.5h1M329 199.5h1M330 196.5h1M332 196.5h1M334 199.5h1M344 201.5h1M326 201.5h1M333 193.5h1M322 196.5h1M340 200.5h1M329 195.5h1M337 201.5h1M344 204.5h1M356 199.5h1M343 204.5h1M345 201.5h1M342 209.5h1M345 203.5h1M342 201.5h1M336 208.5h1M351 205.5h1M350 203.5h1M347 202.5h1M349 203.5h1M341 199.5h1M347 202.5h1M342 197.5h1M344 199.5h1M333 201.5h1M344 204.5h1M336 205.5h1M346 203.5h1M349 196.5h1M336 199.5h1M336 201.5h1M344 203.5h1M341 197.5h1M342 200.5h1M345 199.5h1M339 206.5h1M352 199.5h1M333 196.5h1M347 207.5h1M367 190.5h1M354 204.5h1M319 198.5h1M315 191.5h1M318 203.5h1M375 207.5h1M375 200.5h1M347 209.5h1M346 203.5h1M339 187.5h1M350 199.5h1M380 191.5h1M357 208.5h1M350 199.5h1M311 234.5h1M314 240.5h1M308 227.5h1M303 244.5h1M315 238.5h1M300 237.5h1M316 235.5h1M298 225.5h1M307 233.5h1M300 227.5h1M318 234.5h1M304 244.5h1M309 219.5h1M314 241.5h1M320 239.5h1M314 234.5h1M306 238.5h1M315 241.5h1M298 227.5h1M304 236.5h1M312 242.5h1M307 224.5h1M311 238.5h1M294 237.5h1M309 235.5h1M299 225.5h1M307 243.5h1M308 236.5h1M318 242.5h1M310 236.5h1M308 248.5h1M301 240.5h1M298 230.5h1M308 224.5h1M308 228.5h1M306 246.5h1M314 238.5h1M297 227.5h1M307 233.5h1M321 228.5h1M305 234.5h1M309 232.5h1M308 237.5h1M308 235.5h1M299 241.5h1M305 237.5h1M305 233.5h1M315 242.5h1M301 245.5h1M304 246.5h1M305 229.5h1M299 233.5h1M307 243.5h1M303 242.5h1M310 239.5h1M304 237.5h1M305 227.5h1M313 236.5h1M300 240.5h1M295 223.5h1M313 233.5h1M315 239.5h1M307 236.5h1M308 228.5h1M312 221.5h1M319 228.5h1M321 235.5h1M296 248.5h1M314 213.5h1M338 203.5h1M362 250.5h1" stroke="#000" stroke-opacity="0.32" stroke-width="1"/>
<path d="M321 200.5h1M330 200.5h1M330 195.5h1M333 202.5h1M350 197.5h1M335 199.5h1M323 201.5h1M356 204.5h1M351 196.5h1M356 195.5h1M355 203.5h1M337 200.5h1M340 199.5h1M319 200.5h1M324 202.5h1M327 197.5h1M335 204.5h1M332 203.5h1M316 201.5h1M339 197.5h1M340 195.5h1M331 205.5h1M344 196.5h1M320 205.5h1M334 200.5h1M328 199.5h1M342 199.5h1M347 204.5h1M313 197.5h1M341 194.5h1M320 196.5h1M338 197.5h1M330 196.5h1M326 205.5h1M354 205.5h1M329 200.5h1M326 193.5h1M323 201.5h1M331 204.5h1M327 202.5h1M325 191.5h1M346 195.5h1M348 193.5h1M347 199.5h1M320 199.5h1M321 202.5h1M346 194.5h1M325 207.5h1M342 198.5h1M335 196.5h1M327 200.5h1M345 198.5h1M325 199.5h1M345 202.5h1M339 203.5h1M348 198.5h1M331 195.5h1M349 203.5h1M323 200.5h1M318 201.5h1M332 197.5h1M332 202.5h1M339 202.5h1M346 203.5h1M342 206.5h1M333 196.5h1M343 202.5h1M315 205.5h1M331 199.5h1M322 209.5h1M352 199.5h1M349 203.5h1M337 202.5h1M316 202.5h1M323 202.5h1M348 196.5h1M351 202.5h1M354 196.5h1M313 198.5h1M326 201.5h1M305 199.5h1M319 191.5h1M348 202.5h1M324 206.5h1M316 197.5h1M320 203.5h1M340 198.5h1M331 202.5h1M327 204.5h1M330 199.5h1M332 199.5h1M321 190.5h1M326 194.5h1M326 196.5h1M360 198.5h1M332 199.5h1M351 201.5h1M324 195.5h1M330 197.5h1M333 198.5h1M342 199.5h1M339 198.5h1M347 198.5h1M320 202.5h1M338 199.5h1M333 205.5h1M350 195.5h1M326 189.5h1M345 197.5h1M340 199.5h1M341 206.5h1M321 206.5h1M322 204.5h1M346 198.5h1M323 203.5h1M346 203.5h1M334 195.5h1M336 197.5h1M316 203.5h1M348 200.5h1M323 200.5h1M337 188.5h1M336 200.5h1M333 198.5h1M335 200.5h1M335 199.5h1M348 195.5h1M316 209.5h1M329 202.5h1M319 203.5h1M340 200.5h1M329 198.5h1M343 198.5h1M334 199.5h1M330 197.5h1M326 193.5h1M330 196.5h1M329 195.5h1M325 196.5h1M341 199.5h1M332 196.5h1M337 196.5h1M334 194.5h1M327 196.5h1M324 197.5h1M334 200.5h1M335 195.5h1M334 194.5h1M337 194.5h1M332 201.5h1M328 196.5h1M332 199.5h1M338 195.5h1M340 196.5h1M328 202.5h1M335 198.5h1M332 192.5h1M337 193.5h1M335 197.5h1M324 197.5h1M326 198.5h1M337 197.5h1M333 196.5h1M329 198.5h1M338 196.5h1M341 195.5h1M326 197.5h1M340 198.5h1M356 198.5h1M341 205.5h1M345 198.5h1M341 201.5h1M344 205.5h1M336 205.5h1M343 201.5h1M343 197.5h1M341 199.5h1M347 206.5h1M333 204.5h1M348 202.5h1M338 199.5h1M343 202.5h1M337 206.5h1M344 199.5h1M333 205.5h1M346 200.5h1M343 202.5h1M333 200.5h1M346 199.5h1M338 199.5h1M338 205.5h1M337 204.5h1M336 207.5h1M339 197.5h1M340 204.5h1M350 203.5h1M339 200.5h1M346 201.5h1M354 188.5h1M340 196.5h1M342 205.5h1M359 199.5h1M329 201.5h1M328 208.5h1M333 198.5h1M348 197.5h1M360 205.5h1M328 204.5h1M344 189.5h1M380 200.5h1M347 206.5h1M329 197.5h1M341 192.5h1M353 193.5h1M312 233.5h1M310 235.5h1M306 237.5h1M309 234.5h1M297 235.5h1M305 246.5h1M322 238.5h1M305 240.5h1M308 240.5h1M306 234.5h1M305 240.5h1M305 240.5h1M311 248.5h1M313 244.5h1M311 229.5h1M317 241.5h1M306 242.5h1M307 230.5h1M307 234.5h1M316 233.5h1M314 232.5h1M316 240.5h1M305 230.5h1M308 236.5h1M309 240.5h1M300 223.5h1M295 242.5h1M299 242.5h1M313 236.5h1M311 227.5h1M314 236.5h1M302 230.5h1M311 240.5h1M315 240.5h1M314 235.5h1M306 239.5h1M316 241.5h1M298 238.5h1M298 232.5h1M307 236.5h1M302 236.5h1M315 237.5h1M353 218.5h1M352 241.5h1M346 217.5h1M351 209.5h1M376 193.5h1" stroke="#000" stroke-opacity="0.32" stroke-width="1"/>
<path d="M333 201.5h1M328 203.5h1M320 203.5h1M334 193.5h1M353 195.5h1M325 199.5h1M336 193.5h1M339 192.5h1M332 200.5h1M320 199.5h1M318 208.5h1M338 196.5h1M325 201.5h1M350 201.5h1M338 198.5h1M323 199.5h1M335 197.5h1M334 199.5h1M317 202.5h1M354 194.5h1M351 200.5h1M335 197.5h1M359 196.5h1M341 195.5h1M355 203.5h1M319 202.5h1M322 202.5h1M326 192.5h1M325 201.5h1M320 198.5h1M327 200.5h1M316 200.5h1M322 199.5h1M326 193.5h1M354 204.5h1M320 196.5h1M322 211.5h1M337 192.5h1M350 191.5h1M325 196.5h1M321 203.5h1M329 196.5h1M323 202.5h1M324 195.5h1M351 204.5h1M324 199.5h1M337 193.5h1M341 203.5h1M333 195.5h1M327 190.5h1M361 196.5h1M311 198.5h1M335 193.5h1M336 205.5h1M338 206.5h1M322 192.5h1M320 203.5h1M349 205.5h1M326 197.5h1M328 199.5h1M322 201.5h1M327 206.5h1M319 192.5h1M345 197.5h1M312 200.5h1M351 200.5h1M348 202.5h1M314 202.5h1M342 201.5h1M359 196.5h1M331 203.5h1M316 197.5h1M322 200.5h1M329 196.5h1M332 195.5h1M325 194.5h1M343 202.5h1M338 195.5h1M338 204.5h1M351 202.5h1M332 197.5h1M337 195.5h1M355 200.5h1M331 202.5h1M348 200.5h1M328 198.5h1M327 198.5h1M335 195.5h1M330 200.5h1M341 202.5h1M345 202.5h1M319 194.5h1M322 201.5h1M334 195.5h1M312 196.5h1M342 202.5h1M319 196.5h1M338 198.5h1M341 196.5h1M361 204.5h1M318 202.5h1M338 197.5h1M320 200.5h1M317 201.5h1M336 195.5h1M322 195.5h1M328 202.5h1M314 204.5h1M331 195.5h1M330 196.5h1M331 205.5h1M317 198.5h1M321 198.5h1M312 206.5h1M343 196.5h1M346 200.5h1M333 197.5h1M345 198.5h1M334 201.5h1M335 197.5h1M331 201.5h1M333 192.5h1M335 199.5h1M336 198.5h1M335 198.5h1M329 196.5h1M334 198.5h1M335 197.5h1M335 193.5h1M327 198.5h1M333 194.5h1M330 197.5h1M331 193.5h1M340 194.5h1M331 195.5h1M331 195.5h1M328 200.5h1M337 199.5h1M321 200.5h1M335 196.5h1M333 195.5h1M333 203.5h1M333 193.5h1M337 198.5h1M324 197.5h1M323 197.5h1M326 195.5h1M332 200.5h1M344 202.5h1M334 198.5h1M333 197.5h1M324 192.5h1M335 196.5h1M346 202.5h1M341 199.5h1M339 202.5h1M350 205.5h1M337 209.5h1M341 203.5h1M345 205.5h1M342 196.5h1M340 203.5h1M349 205.5h1M348 197.5h1M333 204.5h1M345 203.5h1M345 206.5h1M338 204.5h1M356 205.5h1M343 210.5h1M345 206.5h1M343 202.5h1M345 204.5h1M336 205.5h1M337 204.5h1M340 202.5h1M345 203.5h1M343 200.5h1M339 199.5h1M336 208.5h1M341 205.5h1M335 200.5h1M336 201.5h1M346 197.5h1M344 202.5h1M374 202.5h1M306 201.5h1M312 203.5h1M326 203.5h1M369 198.5h1M331 207.5h1M335 196.5h1M369 203.5h1M331 199.5h1M366 199.5h1M323 195.5h1M336 193.5h1M361 207.5h1M344 197.5h1M356 197.5h1M361 189.5h1M324 198.5h1M334 197.5h1M343 194.5h1M370 191.5h1M359 201.5h1M318 202.5h1M295 238.5h1M307 242.5h1M305 230.5h1M308 232.5h1M308 234.5h1M303 233.5h1M304 235.5h1M299 226.5h1M300 226.5h1M306 240.5h1M300 239.5h1M304 230.5h1M311 237.5h1M320 241.5h1M307 237.5h1M320 235.5h1M294 243.5h1M305 243.5h1M304 236.5h1M307 233.5h1M299 225.5h1M313 243.5h1M312 226.5h1M307 240.5h1M309 238.5h1M309 242.5h1M310 235.5h1M307 227.5h1M311 241.5h1M304 230.5h1M304 225.5h1M301 235.5h1M311 233.5h1M311 235.5h1M301 227.5h1M311 231.5h1M305 240.5h1M307 227.5h1M307 232.5h1M311 237.5h1M312 239.5h1M309 242.5h1M311 245.5h1M305 233.5h1M299 236.5h1M310 230.5h1M309 233.5h1M318 232.5h1M305 240.5h1M297 227.5h1M310 237.5h1M312 234.5h1M308 243.5h1M313 234.5h1M309 224.5h1M307 239.5h1M312 233.5h1M314 237.5h1M300 227.5h1M327 230.5h1M372 239.5h1M358 229.5h1M326 243.5h1M384 225.5h1" stroke="#000" stroke-opacity="0.32" stroke-width="1"/>
<path d="M324 200.5h1M330 195.5h1M330 202.5h1M345 199.5h1M342 197.5h1M333 198.5h1M325 196.5h1M320 199.5h1M323 200.5h1M343 196.5h1M322 198.5h1M335 197.5h1M326 199.5h1M333 205.5h1M326 200.5h1M335 198.5h1M311 203.5h1M330 203.5h1M335 202.5h1M328 204.5h1M345 198.5h1M330 197.5h1M346 202.5h1M321 202.5h1M317 201.5h1M331 195.5h1M343 199.5h1M338 198.5h1M337 199.5h1M333 195.5h1M348 198.5h1M318 203.5h1M347 200.5h1M340 195.5h1M344 194.5h1M319 201.5h1M338 202.5h1M351 198.5h1M335 201.5h1M336 199.5h1M353 194.5h1M338 200.5h1M337 194.5h1M315 198.5h1M325 201.5h1M335 198.5h1M324 203.5h1M338 202.5h1M323 207.5h1M334 197.5h1M317 199.5h1M339 200.5h1M317 203.5h1M330 205.5h1M340 203.5h1M338 202.5h1M325 210.5h1M347 196.5h1M328 204.5h1M339 198.5h1M346 200.5h1M332 194.5h1M329 201.5h1M342 204.5h1M332 196.5h1M333 204.5h1M347 195.5h1M326 198.5h1M344 203.5h1M343 200.5h1M333 198.5h1M350 206.5h1M325 194.5h1M338 199.5h1M341 197.5h1M325 200.5h1M321 200.5h1M343 198.5h1M321 203.5h1M325 200.5h1M322 197.5h1M325 206.5h1M340 210.5h1M336 195.5h1M323 201.5h1M335 204.5h1M322 199.5h1M342 200.5h1M341 200.5h1M350 194.5h1M325 198.5h1M335 195.5h1M342 200.5h1M345 198.5h1M338 195.5h1M323 194.5h1M340 199.5h1M354 200.5h1M323 204.5h1M333 195.5h1M350 194.5h1M342 197.5h1M338 199.5h1M348 207.5h1M350 195.5h1M328 198.5h1M312 200.5h1M337 200.5h1M329 196.5h1M326 204.5h1M338 203.5h1M338 199.5h1M343 195.5h1M344 194.5h1M335 203.5h1M325 202.5h1M321 201.5h1M342 199.5h1M335 201.5h1M335 202.5h1M320 203.5h1M337 195.5h1M337 195.5h1M338 199.5h1M335 200.5h1M333 198.5h1M339 195.5h1M335 194.5h1M318 193.5h1M333 196.5h1M327 197.5h1M330 200.5h1M328 198.5h1M329 199.5h1M327 191.5h1M330 192.5h1M333 196.5h1M329 194.5h1M331 198.5h1M330 198.5h1M330 198.5h1M334 192.5h1M336 192.5h1M344 199.5h1M333 194.5h1M327 199.5h1M329 195.5h1M331 196.5h1M345 205.5h1M344 199.5h1M341 200.5h1M340 194.5h1M338 202.5h1M340 200.5h1M340 200.5h1M349 206.5h1M347 199.5h1M353 204.5h1M345 205.5h1M349 205.5h1M351 204.5h1M346 199.5h1M346 205.5h1M348 203.5h1M339 200.5h1M345 199.5h1M342 202.5h1M342 200.5h1M339 202.5h1M348 205.5h1M336 205.5h1M349 201.5h1M346 201.5h1M338 201.5h1M341 198.5h1M337 203.5h1M342 201.5h1M347 201.5h1M344 199.5h1M297 197.5h1M327 192.5h1M377 215.5h1M331 196.5h1M371 201.5h1M357 194.5h1M326 192.5h1M314 190.5h1M362 196.5h1M364 201.5h1M350 196.5h1M352 203.5h1M340 193.5h1M357 204.5h1M330 205.5h1M328 201.5h1M335 201.5h1M384 199.5h1M348 199.5h1M345 201.5h1M316 204.5h1M312 231.5h1M311 225.5h1M306 226.5h1M299 241.5h1M295 227.5h1M304 232.5h1M309 232.5h1M315 243.5h1M307 230.5h1M310 243.5h1M313 236.5h1M310 231.5h1M314 238.5h1M303 243.5h1M302 236.5h1M315 238.5h1M308 230.5h1M312 240.5h1M314 231.5h1M309 236.5h1M295 236.5h1M309 230.5h1M304 234.5h1M312 224.5h1M303 246.5h1M311 241.5h1M303 225.5h1M305 226.5h1M312 238.5h1M309 233.5h1M309 235.5h1M309 232.5h1M312 240.5h1M306 240.5h1M304 236.5h1M297 234.5h1M306 239.5h1M309 234.5h1M302 237.5h1M304 236.5h1M306 228.5h1M305 232.5h1M304 229.5h1M309 234.5h1M307 247.5h1M306 238.5h1M301 242.5h1M307 237.5h1M299 229.5h1M304 240.5h1M304 228.5h1M321 237.5h1M297 235.5h1M317 229.5h1M313 242.5h1M311 239.5h1M305 230.5h1M304 237.5h1M309 229.5h1M312 222.5h1M315 243.5h1M311 228.5h1M341 215.5h1M368 228.5h1M326 226.5h1M352 214.5h1M360 220.5h1M342 215.5h1M338 243.5h1M356 238.5h1M354 243.5h1M317 241.5h1" stroke="#000" stroke-opacity="0.32" stroke-width="1"/>
<rect x="293.8" y="186" width="94.7" height="65.9" fill="none" stroke="#3c3c3c" stroke-width="1"/>
<path d="M334.6 186V251.9M293.8 214.2H388.5" stroke="#3c3c3c" stroke-width="1" fill="none"/>
<text x="325.1" y="207.8" font-size="4.3" text-anchor="middle" fill="#222" stroke="#222" stroke-width="0.12" font-weight="bold">Q1</text>
<text x="343.1" y="207.8" font-size="4.3" text-anchor="middle" fill="#222" stroke="#222" stroke-width="0.12" font-weight="bold">Q2</text>
<text x="325.1" y="225.8" font-size="4.3" text-anchor="middle" fill="#222" stroke="#222" stroke-width="0.12" font-weight="bold">Q3</text>
<text x="343.1" y="225.8" font-size="4.3" text-anchor="middle" fill="#222" stroke="#222" stroke-width="0.12" font-weight="bold">Q4</text>
<path d="M293.8 193.8h-3M293.8 205.12h-1.8M293.8 202.27h-1.8M293.8 200.25h-1.8M293.8 198.68h-1.8M293.8 197.39h-1.8M293.8 196.31h-1.8M293.8 195.37h-1.8M293.8 194.54h-1.8M293.8 210h-3M293.8 221.32h-1.8M293.8 218.47h-1.8M293.8 216.45h-1.8M293.8 214.88h-1.8M293.8 213.59h-1.8M293.8 212.51h-1.8M293.8 211.57h-1.8M293.8 210.74h-1.8M293.8 226.2h-3M293.8 237.52h-1.8M293.8 234.67h-1.8M293.8 232.65h-1.8M293.8 231.08h-1.8M293.8 229.79h-1.8M293.8 228.71h-1.8M293.8 227.77h-1.8M293.8 226.94h-1.8M293.8 242.4h-3M293.8 250.87h-1.8M293.8 248.85h-1.8M293.8 247.28h-1.8M293.8 245.99h-1.8M293.8 244.91h-1.8M293.8 243.97h-1.8M293.8 243.14h-1.8M295.35 251.9v1.8M298.3 251.9v1.8M300.59 251.9v1.8M302.46 251.9v1.8M304.04 251.9v1.8M305.41 251.9v1.8M306.62 251.9v1.8M307.7 251.9v3M314.81 251.9v1.8M318.97 251.9v1.8M321.92 251.9v1.8M324.21 251.9v1.8M326.08 251.9v1.8M327.66 251.9v1.8M329.03 251.9v1.8M330.24 251.9v1.8M331.32 251.9v3M338.43 251.9v1.8M342.59 251.9v1.8M345.54 251.9v1.8M347.83 251.9v1.8M349.7 251.9v1.8M351.28 251.9v1.8M352.65 251.9v1.8M353.86 251.9v1.8M354.94 251.9v3M362.05 251.9v1.8M366.21 251.9v1.8M369.16 251.9v1.8M371.45 251.9v1.8M373.32 251.9v1.8M374.9 251.9v1.8M376.27 251.9v1.8M377.48 251.9v1.8M378.56 251.9v3M385.67 251.9v1.8" stroke="#333" stroke-width="0.8" fill="none"/>
<text x="288.2" y="196.1" font-size="6.3" text-anchor="end" fill="#1e1e1e" stroke="#1e1e1e" stroke-width="0.25">10<tspan font-size="3.9" dy="-3.0">5</tspan></text>
<text x="288.2" y="212.3" font-size="6.3" text-anchor="end" fill="#1e1e1e" stroke="#1e1e1e" stroke-width="0.25">10<tspan font-size="3.9" dy="-3.0">4</tspan></text>
<text x="288.2" y="228.5" font-size="6.3" text-anchor="end" fill="#1e1e1e" stroke="#1e1e1e" stroke-width="0.25">10<tspan font-size="3.9" dy="-3.0">3</tspan></text>
<text x="288.2" y="244.7" font-size="6.3" text-anchor="end" fill="#1e1e1e" stroke="#1e1e1e" stroke-width="0.25">10<tspan font-size="3.9" dy="-3.0">2</tspan></text>
<text x="307.7" y="262.8" font-size="6.3" text-anchor="middle" fill="#1e1e1e" stroke="#1e1e1e" stroke-width="0.25">10<tspan font-size="3.9" dy="-3.0">2</tspan></text>
<text x="331.32" y="262.8" font-size="6.3" text-anchor="middle" fill="#1e1e1e" stroke="#1e1e1e" stroke-width="0.25">10<tspan font-size="3.9" dy="-3.0">3</tspan></text>
<text x="354.94" y="262.8" font-size="6.3" text-anchor="middle" fill="#1e1e1e" stroke="#1e1e1e" stroke-width="0.25">10<tspan font-size="3.9" dy="-3.0">4</tspan></text>
<text x="378.56" y="262.8" font-size="6.3" text-anchor="middle" fill="#1e1e1e" stroke="#1e1e1e" stroke-width="0.25">10<tspan font-size="3.9" dy="-3.0">5</tspan></text>
<path d="M460 199.5h1M455 205.5h1M470 200.5h1M467 202.5h1M469 197.5h1M467 204.5h1M478 200.5h1M473 203.5h1M462 201.5h1M470 199.5h1M470 203.5h1M464 208.5h1M466 204.5h1M460 205.5h1M475 202.5h1M466 200.5h1M470 203.5h1M456 215.5h1M462 202.5h1M465 196.5h1M465 200.5h1M477 199.5h1M465 208.5h1M467 211.5h1M471 200.5h1M472 200.5h1M467 201.5h1M470 201.5h1M470 203.5h1M469 202.5h1M467 206.5h1M468 198.5h1M473 203.5h1M468 201.5h1M472 198.5h1M467 198.5h1M472 205.5h1M475 201.5h1M461 202.5h1M465 205.5h1M471 206.5h1M464 203.5h1M464 201.5h1M473 199.5h1M473 202.5h1M463 206.5h1M455 203.5h1M464 201.5h1M472 204.5h1M462 198.5h1M464 201.5h1M466 202.5h1M457 205.5h1M463 208.5h1M454 199.5h1M454 197.5h1M464 206.5h1M471 197.5h1M464 204.5h1M465 203.5h1M459 203.5h1M467 202.5h1M456 205.5h1M454 209.5h1M473 202.5h1M465 206.5h1M464 203.5h1M462 209.5h1M458 200.5h1M470 206.5h1M460 202.5h1M460 205.5h1M463 195.5h1M464 198.5h1M463 209.5h1M473 203.5h1M462 197.5h1M454 209.5h1M457 205.5h1M466 190.5h1M469 202.5h1M467 197.5h1M461 205.5h1M466 199.5h1M467 206.5h1M456 205.5h1M462 200.5h1M463 206.5h1M468 196.5h1M470 201.5h1M463 201.5h1M466 199.5h1M466 203.5h1M466 204.5h1M465 200.5h1M462 201.5h1M473 199.5h1M468 210.5h1M454 199.5h1M467 203.5h1M473 197.5h1M470 198.5h1M467 193.5h1M455 203.5h1M458 204.5h1M467 204.5h1M461 206.5h1M444 190.5h1M454 195.5h1M443 206.5h1M458 192.5h1M457 196.5h1M457 195.5h1M432 195.5h1M475 195.5h1M452 206.5h1M475 198.5h1M453 205.5h1M459 197.5h1M455 188.5h1M445 194.5h1M448 193.5h1M437 201.5h1M422 195.5h1M439 198.5h1M444 189.5h1M456 209.5h1M474 194.5h1M466 206.5h1M445 200.5h1M431 189.5h1M502 194.5h1M444 195.5h1M448 200.5h1M478 199.5h1M476 207.5h1M468 197.5h1M437 201.5h1M450 202.5h1M441 200.5h1M458 193.5h1M447 187.5h1M452 193.5h1M453 202.5h1M455 205.5h1M460 207.5h1M447 193.5h1M450 201.5h1M458 207.5h1M451 199.5h1M447 200.5h1M443 190.5h1M441 198.5h1M469 195.5h1M455 198.5h1M454 197.5h1M452 207.5h1M449 203.5h1M455 205.5h1M463 204.5h1M455 201.5h1M458 200.5h1M436 199.5h1M472 204.5h1M463 198.5h1M435 195.5h1M443 191.5h1M457 207.5h1M479 201.5h1M431 237.5h1M437 230.5h1M424 237.5h1M427 223.5h1M428 247.5h1M425 233.5h1M435 223.5h1M436 236.5h1M426 234.5h1M433 234.5h1M433 224.5h1M428 241.5h1M427 240.5h1M434 234.5h1M435 239.5h1M426 242.5h1M426 239.5h1M421 232.5h1M432 238.5h1M429 247.5h1M431 228.5h1M427 236.5h1M429 247.5h1M436 229.5h1M429 244.5h1M434 246.5h1M427 243.5h1M431 233.5h1M427 228.5h1M435 242.5h1M424 230.5h1M426 234.5h1M430 245.5h1M428 244.5h1M431 233.5h1M437 233.5h1M433 245.5h1M436 240.5h1M433 243.5h1M423 246.5h1M436 235.5h1M429 243.5h1M430 239.5h1M432 240.5h1M434 225.5h1M432 228.5h1M435 238.5h1M430 235.5h1M440 235.5h1M429 245.5h1M438 234.5h1M443 225.5h1M428 241.5h1M428 240.5h1M431 233.5h1M423 236.5h1M425 237.5h1M441 219.5h1M443 248.5h1M446 212.5h1M421 213.5h1M442 240.5h1M469 223.5h1M447 229.5h1M469 234.5h1M428 225.5h1" stroke="#000" stroke-opacity="0.32" stroke-width="1"/>
<path d="M466 204.5h1M455 207.5h1M471 205.5h1M463 198.5h1M466 205.5h1M461 206.5h1M468 201.5h1M463 201.5h1M470 198.5h1M455 207.5h1M467 198.5h1M462 196.5h1M457 204.5h1M466 202.5h1M462 199.5h1M468 195.5h1M460 202.5h1M463 206.5h1M468 202.5h1M454 201.5h1M450 207.5h1M470 202.5h1M460 193.5h1M466 202.5h1M464 196.5h1M457 206.5h1M464 211.5h1M461 195.5h1M461 200.5h1M458 216.5h1M454 197.5h1M469 214.5h1M461 198.5h1M456 207.5h1M471 204.5h1M459 205.5h1M469 204.5h1M467 202.5h1M462 207.5h1M460 203.5h1M464 202.5h1M464 200.5h1M456 195.5h1M456 202.5h1M469 200.5h1M468 206.5h1M468 205.5h1M474 199.5h1M473 213.5h1M461 198.5h1M462 208.5h1M460 201.5h1M471 206.5h1M457 208.5h1M462 203.5h1M459 198.5h1M476 210.5h1M462 205.5h1M465 202.5h1M468 197.5h1M468 198.5h1M467 195.5h1M458 206.5h1M457 205.5h1M458 201.5h1M468 200.5h1M465 207.5h1M461 197.5h1M456 204.5h1M465 203.5h1M464 207.5h1M471 194.5h1M466 210.5h1M471 205.5h1M462 199.5h1M470 206.5h1M467 205.5h1M455 204.5h1M463 203.5h1M468 204.5h1M466 204.5h1M460 207.5h1M452 210.5h1M463 210.5h1M473 197.5h1M455 208.5h1M455 206.5h1M454 204.5h1M455 212.5h1M462 194.5h1M469 201.5h1M459 206.5h1M455 203.5h1M463 212.5h1M475 192.5h1M473 198.5h1M475 200.5h1M452 197.5h1M464 203.5h1M457 208.5h1M464 204.5h1M460 208.5h1M464 203.5h1M472 201.5h1M463 200.5h1M464 205.5h1M463 207.5h1M471 200.5h1M454 213.5h1M471 197.5h1M461 198.5h1M461 201.5h1M457 204.5h1M465 195.5h1M466 206.5h1M466 205.5h1M460 200.5h1M465 203.5h1M467 202.5h1M471 203.5h1M463 197.5h1M460 198.5h1M453 194.5h1M475 209.5h1M455 198.5h1M463 201.5h1M426 192.5h1M484 198.5h1M444 196.5h1M450 199.5h1M434 200.5h1M470 203.5h1M443 207.5h1M438 203.5h1M457 203.5h1M465 200.5h1M431 195.5h1M456 194.5h1M431 194.5h1M452 196.5h1M439 197.5h1M448 203.5h1M468 197.5h1M473 193.5h1M462 196.5h1M461 210.5h1M480 197.5h1M469 198.5h1M456 198.5h1M440 201.5h1M443 199.5h1M431 201.5h1M434 196.5h1M448 202.5h1M429 190.5h1M451 197.5h1M449 197.5h1M472 201.5h1M453 193.5h1M447 199.5h1M442 191.5h1M445 203.5h1M436 203.5h1M448 208.5h1M422 200.5h1M463 203.5h1M439 197.5h1M474 208.5h1M471 202.5h1M454 196.5h1M466 205.5h1M463 191.5h1M426 196.5h1M460 193.5h1M436 239.5h1M433 238.5h1M428 231.5h1M435 238.5h1M428 231.5h1M433 238.5h1M431 240.5h1M423 232.5h1M439 246.5h1M435 237.5h1M424 230.5h1M432 230.5h1M434 232.5h1M418 230.5h1M435 237.5h1M424 238.5h1M425 236.5h1M431 238.5h1M426 238.5h1M428 238.5h1M428 245.5h1M428 239.5h1M433 235.5h1M432 245.5h1M430 240.5h1M430 232.5h1M430 236.5h1M438 229.5h1M429 242.5h1M434 237.5h1M418 242.5h1M428 227.5h1M429 236.5h1M425 234.5h1M429 233.5h1M429 232.5h1M431 241.5h1M429 229.5h1M439 231.5h1M431 237.5h1M426 235.5h1M424 227.5h1M429 229.5h1M430 223.5h1M431 232.5h1M435 242.5h1M437 246.5h1M429 238.5h1M421 222.5h1M424 237.5h1M434 244.5h1M433 234.5h1M428 235.5h1M433 238.5h1M434 243.5h1M435 225.5h1M425 236.5h1M434 242.5h1M435 229.5h1M433 231.5h1M427 236.5h1M433 240.5h1M457 247.5h1M453 221.5h1M426 217.5h1M423 232.5h1M440 235.5h1M449 227.5h1M461 221.5h1" stroke="#000" stroke-opacity="0.32" stroke-width="1"/>
<path d="M453 205.5h1M453 204.5h1M462 198.5h1M470 207.5h1M457 204.5h1M460 205.5h1M463 201.5h1M465 204.5h1M460 206.5h1M470 200.5h1M460 204.5h1M464 199.5h1M463 195.5h1M468 203.5h1M457 204.5h1M460 209.5h1M462 203.5h1M465 200.5h1M464 201.5h1M456 202.5h1M467 196.5h1M462 207.5h1M459 206.5h1M457 203.5h1M467 205.5h1M466 202.5h1M466 206.5h1M466 206.5h1M463 204.5h1M464 203.5h1M463 209.5h1M470 202.5h1M462 202.5h1M463 207.5h1M469 198.5h1M472 206.5h1M466 201.5h1M466 198.5h1M456 203.5h1M464 203.5h1M469 207.5h1M461 201.5h1M468 196.5h1M465 201.5h1M468 205.5h1M467 191.5h1M468 203.5h1M467 207.5h1M456 207.5h1M463 199.5h1M467 200.5h1M471 205.5h1M472 203.5h1M464 204.5h1M459 207.5h1M459 203.5h1M479 196.5h1M461 198.5h1M469 208.5h1M458 206.5h1M465 200.5h1M454 196.5h1M450 193.5h1M471 207.5h1M453 206.5h1M463 208.5h1M467 207.5h1M474 194.5h1M466 198.5h1M469 199.5h1M466 199.5h1M470 193.5h1M460 206.5h1M462 204.5h1M461 198.5h1M463 202.5h1M465 207.5h1M467 195.5h1M460 202.5h1M472 204.5h1M455 202.5h1M455 202.5h1M466 207.5h1M474 200.5h1M465 209.5h1M463 206.5h1M461 202.5h1M458 210.5h1M467 202.5h1M475 198.5h1M467 195.5h1M468 212.5h1M463 200.5h1M460 198.5h1M429 195.5h1M449 209.5h1M456 205.5h1M454 198.5h1M470 192.5h1M450 204.5h1M462 203.5h1M470 194.5h1M452 192.5h1M464 201.5h1M444 199.5h1M434 199.5h1M451 195.5h1M455 199.5h1M458 194.5h1M474 199.5h1M450 207.5h1M466 189.5h1M462 203.5h1M459 190.5h1M471 203.5h1M445 187.5h1M461 208.5h1M422 203.5h1M458 203.5h1M446 197.5h1M435 193.5h1M437 199.5h1M458 205.5h1M436 200.5h1M476 198.5h1M451 198.5h1M467 196.5h1M444 191.5h1M446 194.5h1M431 188.5h1M449 199.5h1M472 202.5h1M449 199.5h1M472 194.5h1M449 196.5h1M464 193.5h1M431 198.5h1M451 197.5h1M448 205.5h1M466 194.5h1M458 202.5h1M458 194.5h1M452 197.5h1M460 204.5h1M434 195.5h1M466 201.5h1M484 192.5h1M461 197.5h1M467 202.5h1M458 197.5h1M492 195.5h1M476 205.5h1M461 198.5h1M456 200.5h1M447 193.5h1M427 203.5h1M447 198.5h1M464 195.5h1M441 189.5h1M457 198.5h1M453 195.5h1M443 196.5h1M439 199.5h1M476 197.5h1M431 200.5h1M484 195.5h1M431 247.5h1M431 226.5h1M436 226.5h1M436 234.5h1M427 242.5h1M429 243.5h1M428 235.5h1M435 237.5h1M436 233.5h1M436 230.5h1M424 247.5h1M434 245.5h1M432 232.5h1M432 244.5h1M432 238.5h1M430 237.5h1M428 223.5h1M420 239.5h1M441 227.5h1M429 228.5h1M419 233.5h1M438 236.5h1M421 229.5h1M427 229.5h1M430 233.5h1M429 229.5h1M427 238.5h1M425 233.5h1M423 237.5h1M426 241.5h1M432 241.5h1M430 232.5h1M421 230.5h1M430 235.5h1M430 238.5h1M426 245.5h1M431 244.5h1M429 244.5h1M428 238.5h1M430 245.5h1M433 236.5h1M428 241.5h1M440 234.5h1M438 234.5h1M427 224.5h1M431 248.5h1M438 241.5h1M432 232.5h1M427 247.5h1M435 229.5h1M446 238.5h1M428 232.5h1M428 234.5h1M430 220.5h1M432 232.5h1M432 234.5h1M428 247.5h1M431 240.5h1M442 231.5h1M435 227.5h1M439 237.5h1M430 243.5h1M434 238.5h1M445 246.5h1M436 237.5h1M429 234.5h1M432 241.5h1M434 228.5h1M440 230.5h1M432 248.5h1M430 228.5h1M430 231.5h1M448 234.5h1M494 238.5h1M448 229.5h1" stroke="#000" stroke-opacity="0.32" stroke-width="1"/>
<path d="M462 207.5h1M477 203.5h1M468 204.5h1M472 201.5h1M450 201.5h1M463 197.5h1M464 199.5h1M464 205.5h1M468 195.5h1M465 203.5h1M459 199.5h1M456 197.5h1M467 203.5h1M461 197.5h1M469 205.5h1M463 206.5h1M470 203.5h1M471 202.5h1M458 194.5h1M469 211.5h1M463 204.5h1M460 195.5h1M463 203.5h1M460 207.5h1M466 208.5h1M465 199.5h1M471 200.5h1M462 205.5h1M460 197.5h1M470 197.5h1M456 201.5h1M465 211.5h1M459 194.5h1M466 206.5h1M459 203.5h1M455 204.5h1M464 197.5h1M461 210.5h1M464 204.5h1M473 198.5h1M470 205.5h1M463 199.5h1M460 207.5h1M470 200.5h1M472 201.5h1M457 199.5h1M470 207.5h1M460 212.5h1M475 204.5h1M465 207.5h1M470 194.5h1M464 204.5h1M476 212.5h1M465 201.5h1M474 201.5h1M469 211.5h1M474 206.5h1M463 204.5h1M469 203.5h1M458 204.5h1M473 195.5h1M457 205.5h1M470 203.5h1M465 203.5h1M461 200.5h1M465 208.5h1M475 204.5h1M466 197.5h1M469 207.5h1M460 204.5h1M464 203.5h1M464 208.5h1M467 208.5h1M463 205.5h1M469 207.5h1M463 200.5h1M465 204.5h1M462 199.5h1M476 199.5h1M467 199.5h1M470 203.5h1M469 200.5h1M461 200.5h1M470 208.5h1M468 204.5h1M451 204.5h1M461 205.5h1M468 199.5h1M470 209.5h1M467 201.5h1M469 213.5h1M471 198.5h1M462 208.5h1M464 202.5h1M466 200.5h1M463 208.5h1M456 206.5h1M460 200.5h1M459 203.5h1M460 199.5h1M456 199.5h1M466 201.5h1M465 213.5h1M458 198.5h1M473 198.5h1M455 204.5h1M462 197.5h1M465 196.5h1M468 204.5h1M469 191.5h1M432 209.5h1M453 209.5h1M474 192.5h1M449 205.5h1M471 203.5h1M463 197.5h1M442 202.5h1M480 195.5h1M434 198.5h1M467 199.5h1M428 193.5h1M448 194.5h1M449 194.5h1M441 193.5h1M454 199.5h1M452 209.5h1M427 197.5h1M471 200.5h1M452 201.5h1M428 209.5h1M481 198.5h1M465 195.5h1M446 195.5h1M486 191.5h1M439 207.5h1M464 200.5h1M458 196.5h1M456 196.5h1M454 209.5h1M472 191.5h1M454 195.5h1M437 203.5h1M422 198.5h1M439 199.5h1M467 195.5h1M453 195.5h1M452 202.5h1M450 195.5h1M439 195.5h1M445 192.5h1M461 197.5h1M451 193.5h1M422 197.5h1M440 198.5h1M444 196.5h1M448 201.5h1M422 202.5h1M428 204.5h1M463 207.5h1M465 196.5h1M440 189.5h1M449 195.5h1M455 198.5h1M455 199.5h1M425 205.5h1M437 207.5h1M459 207.5h1M448 199.5h1M480 201.5h1M445 200.5h1M459 204.5h1M442 204.5h1M458 205.5h1M446 201.5h1M449 212.5h1M458 196.5h1M453 189.5h1M454 202.5h1M467 204.5h1M439 246.5h1M431 239.5h1M430 240.5h1M426 240.5h1M434 229.5h1M423 226.5h1M430 250.5h1M429 237.5h1M431 241.5h1M426 234.5h1M429 242.5h1M440 236.5h1M438 231.5h1M427 241.5h1M432 241.5h1M429 241.5h1M427 242.5h1M431 239.5h1M436 233.5h1M439 236.5h1M429 235.5h1M431 242.5h1M422 244.5h1M429 238.5h1M437 242.5h1M437 229.5h1M436 231.5h1M426 242.5h1M435 238.5h1M445 239.5h1M445 228.5h1M434 231.5h1M433 231.5h1M423 230.5h1M428 241.5h1M435 244.5h1M427 228.5h1M423 235.5h1M435 237.5h1M432 233.5h1M429 233.5h1M428 241.5h1M437 233.5h1M428 241.5h1M427 228.5h1M423 222.5h1M433 235.5h1M428 241.5h1M425 238.5h1M435 237.5h1M429 242.5h1M437 246.5h1M427 244.5h1M430 234.5h1M435 236.5h1M436 243.5h1M427 241.5h1M435 237.5h1M431 241.5h1M428 231.5h1M429 233.5h1M454 236.5h1M458 235.5h1M444 212.5h1M463 216.5h1M424 234.5h1M450 238.5h1M418 233.5h1M451 228.5h1" stroke="#000" stroke-opacity="0.32" stroke-width="1"/>
<path d="M462 203.5h1M481 211.5h1M467 202.5h1M464 204.5h1M468 201.5h1M470 200.5h1M457 201.5h1M472 204.5h1M462 198.5h1M470 201.5h1M464 208.5h1M468 202.5h1M466 200.5h1M470 210.5h1M473 203.5h1M455 199.5h1M465 200.5h1M460 198.5h1M466 206.5h1M462 201.5h1M473 203.5h1M464 197.5h1M474 197.5h1M467 196.5h1M466 207.5h1M461 202.5h1M455 215.5h1M453 206.5h1M471 200.5h1M465 200.5h1M459 203.5h1M467 198.5h1M467 204.5h1M477 199.5h1M454 204.5h1M472 203.5h1M467 204.5h1M459 205.5h1M468 202.5h1M456 199.5h1M472 204.5h1M461 204.5h1M469 198.5h1M467 196.5h1M473 201.5h1M464 210.5h1M469 205.5h1M467 204.5h1M465 197.5h1M466 198.5h1M469 206.5h1M477 205.5h1M453 211.5h1M459 202.5h1M478 198.5h1M466 202.5h1M472 208.5h1M473 197.5h1M467 207.5h1M463 204.5h1M451 204.5h1M458 200.5h1M449 198.5h1M466 206.5h1M469 202.5h1M463 202.5h1M464 202.5h1M460 205.5h1M467 200.5h1M460 198.5h1M456 206.5h1M461 204.5h1M464 202.5h1M462 200.5h1M462 204.5h1M459 205.5h1M465 209.5h1M463 197.5h1M475 206.5h1M465 205.5h1M463 200.5h1M460 196.5h1M457 205.5h1M465 205.5h1M466 210.5h1M461 198.5h1M475 207.5h1M477 202.5h1M471 209.5h1M463 207.5h1M458 196.5h1M465 201.5h1M453 202.5h1M461 196.5h1M462 206.5h1M460 207.5h1M471 204.5h1M465 202.5h1M480 197.5h1M454 202.5h1M447 198.5h1M449 202.5h1M470 192.5h1M451 201.5h1M449 201.5h1M424 201.5h1M466 198.5h1M465 200.5h1M441 200.5h1M425 200.5h1M434 200.5h1M444 201.5h1M427 189.5h1M438 198.5h1M469 202.5h1M446 194.5h1M465 193.5h1M448 205.5h1M446 190.5h1M439 190.5h1M462 213.5h1M460 194.5h1M460 196.5h1M443 200.5h1M453 189.5h1M455 198.5h1M453 200.5h1M464 209.5h1M439 203.5h1M443 199.5h1M461 204.5h1M441 197.5h1M446 192.5h1M467 205.5h1M472 209.5h1M435 207.5h1M457 198.5h1M457 194.5h1M452 197.5h1M455 192.5h1M455 195.5h1M449 187.5h1M466 202.5h1M461 203.5h1M475 198.5h1M457 198.5h1M464 190.5h1M465 199.5h1M458 189.5h1M465 192.5h1M465 195.5h1M445 199.5h1M438 190.5h1M458 204.5h1M435 196.5h1M456 196.5h1M453 205.5h1M455 198.5h1M486 197.5h1M444 196.5h1M427 239.5h1M427 232.5h1M420 237.5h1M442 229.5h1M431 238.5h1M429 235.5h1M432 233.5h1M420 235.5h1M434 243.5h1M420 231.5h1M429 237.5h1M438 241.5h1M423 231.5h1M422 231.5h1M435 237.5h1M428 235.5h1M421 242.5h1M444 235.5h1M433 243.5h1M428 234.5h1M436 228.5h1M437 241.5h1M420 234.5h1M426 243.5h1M424 244.5h1M430 232.5h1M435 235.5h1M438 240.5h1M435 236.5h1M428 235.5h1M428 235.5h1M435 239.5h1M424 240.5h1M433 235.5h1M435 236.5h1M427 236.5h1M429 240.5h1M433 229.5h1M429 238.5h1M424 240.5h1M434 245.5h1M432 233.5h1M436 229.5h1M431 236.5h1M432 235.5h1M434 242.5h1M430 224.5h1M433 246.5h1M431 246.5h1M431 243.5h1M433 231.5h1M427 229.5h1M430 231.5h1M437 241.5h1M429 240.5h1M419 245.5h1M434 232.5h1M436 237.5h1M427 234.5h1M436 239.5h1M443 238.5h1M438 234.5h1M437 244.5h1M427 230.5h1M432 236.5h1M431 241.5h1M426 234.5h1M431 245.5h1M434 226.5h1M438 235.5h1M424 234.5h1M430 235.5h1M423 243.5h1M477 236.5h1M445 239.5h1" stroke="#000" stroke-opacity="0.32" stroke-width="1"/>
<rect x="417" y="186" width="94.5" height="65.9" fill="none" stroke="#3c3c3c" stroke-width="1"/>
<path d="M457.4 186V251.9M417 214.2H511.5" stroke="#3c3c3c" stroke-width="1" fill="none"/>
<text x="447.9" y="207.8" font-size="4.3" text-anchor="middle" fill="#222" stroke="#222" stroke-width="0.12" font-weight="bold">Q1</text>
<text x="465.9" y="207.8" font-size="4.3" text-anchor="middle" fill="#222" stroke="#222" stroke-width="0.12" font-weight="bold">Q2</text>
<text x="447.9" y="225.8" font-size="4.3" text-anchor="middle" fill="#222" stroke="#222" stroke-width="0.12" font-weight="bold">Q3</text>
<text x="465.9" y="225.8" font-size="4.3" text-anchor="middle" fill="#222" stroke="#222" stroke-width="0.12" font-weight="bold">Q4</text>
<path d="M417 193.8h-3M417 205.12h-1.8M417 202.27h-1.8M417 200.25h-1.8M417 198.68h-1.8M417 197.39h-1.8M417 196.31h-1.8M417 195.37h-1.8M417 194.54h-1.8M417 210h-3M417 221.32h-1.8M417 218.47h-1.8M417 216.45h-1.8M417 214.88h-1.8M417 213.59h-1.8M417 212.51h-1.8M417 211.57h-1.8M417 210.74h-1.8M417 226.2h-3M417 237.52h-1.8M417 234.67h-1.8M417 232.65h-1.8M417 231.08h-1.8M417 229.79h-1.8M417 228.71h-1.8M417 227.77h-1.8M417 226.94h-1.8M417 242.4h-3M417 250.87h-1.8M417 248.85h-1.8M417 247.28h-1.8M417 245.99h-1.8M417 244.91h-1.8M417 243.97h-1.8M417 243.14h-1.8M419.35 251.9v1.8M422.3 251.9v1.8M424.59 251.9v1.8M426.46 251.9v1.8M428.04 251.9v1.8M429.41 251.9v1.8M430.62 251.9v1.8M431.7 251.9v3M438.81 251.9v1.8M442.97 251.9v1.8M445.92 251.9v1.8M448.21 251.9v1.8M450.08 251.9v1.8M451.66 251.9v1.8M453.03 251.9v1.8M454.24 251.9v1.8M455.32 251.9v3M462.43 251.9v1.8M466.59 251.9v1.8M469.54 251.9v1.8M471.83 251.9v1.8M473.7 251.9v1.8M475.28 251.9v1.8M476.65 251.9v1.8M477.86 251.9v1.8M478.94 251.9v3M486.05 251.9v1.8M490.21 251.9v1.8M493.16 251.9v1.8M495.45 251.9v1.8M497.32 251.9v1.8M498.9 251.9v1.8M500.27 251.9v1.8M501.48 251.9v1.8M502.56 251.9v3M509.67 251.9v1.8" stroke="#333" stroke-width="0.8" fill="none"/>
<text x="411.4" y="196.1" font-size="6.3" text-anchor="end" fill="#1e1e1e" stroke="#1e1e1e" stroke-width="0.25">10<tspan font-size="3.9" dy="-3.0">5</tspan></text>
<text x="411.4" y="212.3" font-size="6.3" text-anchor="end" fill="#1e1e1e" stroke="#1e1e1e" stroke-width="0.25">10<tspan font-size="3.9" dy="-3.0">4</tspan></text>
<text x="411.4" y="228.5" font-size="6.3" text-anchor="end" fill="#1e1e1e" stroke="#1e1e1e" stroke-width="0.25">10<tspan font-size="3.9" dy="-3.0">3</tspan></text>
<text x="411.4" y="244.7" font-size="6.3" text-anchor="end" fill="#1e1e1e" stroke="#1e1e1e" stroke-width="0.25">10<tspan font-size="3.9" dy="-3.0">2</tspan></text>
<text x="431.7" y="262.8" font-size="6.3" text-anchor="middle" fill="#1e1e1e" stroke="#1e1e1e" stroke-width="0.25">10<tspan font-size="3.9" dy="-3.0">2</tspan></text>
<text x="455.32" y="262.8" font-size="6.3" text-anchor="middle" fill="#1e1e1e" stroke="#1e1e1e" stroke-width="0.25">10<tspan font-size="3.9" dy="-3.0">3</tspan></text>
<text x="478.94" y="262.8" font-size="6.3" text-anchor="middle" fill="#1e1e1e" stroke="#1e1e1e" stroke-width="0.25">10<tspan font-size="3.9" dy="-3.0">4</tspan></text>
<text x="502.56" y="262.8" font-size="6.3" text-anchor="middle" fill="#1e1e1e" stroke="#1e1e1e" stroke-width="0.25">10<tspan font-size="3.9" dy="-3.0">5</tspan></text>
<text x="100.5" y="35" font-size="10" text-anchor="middle" font-weight="normal" fill="#2a2a2a" stroke="#2a2a2a" stroke-width="0.18" >unstimulated</text>
<text x="221.35" y="35" font-size="10" text-anchor="middle" font-weight="normal" fill="#2a2a2a" stroke="#2a2a2a" stroke-width="0.18" >stimulated</text>
<text x="341" y="25.5" font-size="10" text-anchor="middle" font-weight="normal" fill="#2a2a2a" stroke="#2a2a2a" stroke-width="0.18" >stimulated</text>
<text x="341" y="37.8" font-size="10" text-anchor="middle" font-weight="normal" fill="#2a2a2a" stroke="#2a2a2a" stroke-width="0.18" >+ DMSO-treated</text>
<text x="341" y="50" font-size="10" text-anchor="middle" font-weight="normal" fill="#2a2a2a" stroke="#2a2a2a" stroke-width="0.18" >SUP-HD1</text>
<text x="464.5" y="25.5" font-size="10" text-anchor="middle" font-weight="normal" fill="#2a2a2a" stroke="#2a2a2a" stroke-width="0.18" >stimulated</text>
<text x="464.5" y="37.8" font-size="10" text-anchor="middle" font-weight="normal" fill="#2a2a2a" stroke="#2a2a2a" stroke-width="0.18" >+ B489-treated</text>
<text x="464.5" y="50" font-size="10" text-anchor="middle" font-weight="normal" fill="#2a2a2a" stroke="#2a2a2a" stroke-width="0.18" >SUP-HD1</text>
<text x="100.5" y="167.8" font-size="10" text-anchor="middle" font-weight="normal" fill="#2a2a2a" stroke="#2a2a2a" stroke-width="0.18" >unstimulated</text>
<text x="221.35" y="167.8" font-size="10" text-anchor="middle" font-weight="normal" fill="#2a2a2a" stroke="#2a2a2a" stroke-width="0.18" >stimulated</text>
<text x="341.15" y="158.3" font-size="10" text-anchor="middle" font-weight="normal" fill="#2a2a2a" stroke="#2a2a2a" stroke-width="0.18" >stimulated</text>
<text x="341.15" y="170.6" font-size="10" text-anchor="middle" font-weight="normal" fill="#2a2a2a" stroke="#2a2a2a" stroke-width="0.18" >+ DMSO-treated</text>
<text x="341.15" y="182.8" font-size="10" text-anchor="middle" font-weight="normal" fill="#2a2a2a" stroke="#2a2a2a" stroke-width="0.18" >HDLM-2</text>
<text x="464.25" y="158.3" font-size="10" text-anchor="middle" font-weight="normal" fill="#2a2a2a" stroke="#2a2a2a" stroke-width="0.18" >stimulated</text>
<text x="464.25" y="170.6" font-size="10" text-anchor="middle" font-weight="normal" fill="#2a2a2a" stroke="#2a2a2a" stroke-width="0.18" >+ B489-treated</text>
<text x="464.25" y="182.8" font-size="10" text-anchor="middle" font-weight="normal" fill="#2a2a2a" stroke="#2a2a2a" stroke-width="0.18" >HDLM-2</text>
<path d="M33.7 252V56" stroke="#333" stroke-width="1.3"/>
<path d="M31.4 57.3L33.7 51.8L36 57.3Z" fill="#111"/>
<path d="M52 267.6H506" stroke="#333" stroke-width="1.3"/>
<path d="M505 265L511.5 267.6L505 270.2Z" fill="#111"/>
<text x="0" y="0" font-size="10" text-anchor="middle" font-weight="normal" fill="#2a2a2a" stroke="#2a2a2a" stroke-width="0.18" transform="translate(28.6 153.8) rotate(-90) scale(0.895 1)">CD69 (Log fluorescence intensity)</text>
<text x="0" y="0" font-size="10" text-anchor="middle" font-weight="normal" fill="#2a2a2a" stroke="#2a2a2a" stroke-width="0.18" transform="translate(279.6 279.7) scale(0.9 1)">CD25 (Log fluorescence intensity)</text>
<text x="0" y="0" font-size="11.9" text-anchor="start" font-weight="bold" fill="#000" stroke="#000" stroke-width="0.18" transform="translate(7.9 17.6) scale(0.93 1)">A</text>
<text x="0" y="0" font-size="12.6" text-anchor="start" font-weight="bold" fill="#000" stroke="#000" stroke-width="0.18" transform="translate(7.6 308.1) scale(0.92 1)">B</text>
<text x="0" y="0" font-size="10" text-anchor="middle" font-weight="normal" fill="#2a2a2a" stroke="#2a2a2a" stroke-width="0.18" transform="translate(29.1 400.8) rotate(-90) scale(0.91 1)">% T cells</text>
<path d="M54 469.7V327.7" stroke="#000" stroke-width="1.35"/>
<text x="49" y="472.2" font-size="8.6" text-anchor="end" font-weight="normal" fill="#1e1e1e" stroke="#1e1e1e" stroke-width="0.18" >0</text>
<text x="49" y="458.4" font-size="8.6" text-anchor="end" font-weight="normal" fill="#1e1e1e" stroke="#1e1e1e" stroke-width="0.18" >10</text>
<text x="49" y="444.6" font-size="8.6" text-anchor="end" font-weight="normal" fill="#1e1e1e" stroke="#1e1e1e" stroke-width="0.18" >20</text>
<text x="49" y="430.8" font-size="8.6" text-anchor="end" font-weight="normal" fill="#1e1e1e" stroke="#1e1e1e" stroke-width="0.18" >30</text>
<text x="49" y="417" font-size="8.6" text-anchor="end" font-weight="normal" fill="#1e1e1e" stroke="#1e1e1e" stroke-width="0.18" >40</text>
<text x="49" y="403.2" font-size="8.6" text-anchor="end" font-weight="normal" fill="#1e1e1e" stroke="#1e1e1e" stroke-width="0.18" >50</text>
<text x="49" y="389.4" font-size="8.6" text-anchor="end" font-weight="normal" fill="#1e1e1e" stroke="#1e1e1e" stroke-width="0.18" >60</text>
<text x="49" y="375.6" font-size="8.6" text-anchor="end" font-weight="normal" fill="#1e1e1e" stroke="#1e1e1e" stroke-width="0.18" >70</text>
<text x="49" y="361.8" font-size="8.6" text-anchor="end" font-weight="normal" fill="#1e1e1e" stroke="#1e1e1e" stroke-width="0.18" >80</text>
<text x="49" y="348" font-size="8.6" text-anchor="end" font-weight="normal" fill="#1e1e1e" stroke="#1e1e1e" stroke-width="0.18" >90</text>
<text x="49" y="334.2" font-size="8.6" text-anchor="end" font-weight="normal" fill="#1e1e1e" stroke="#1e1e1e" stroke-width="0.18" >100</text>
<path d="M54 469.2h-3.6M54 455.4h-3.6M54 441.6h-3.6M54 427.8h-3.6M54 414h-3.6M54 400.2h-3.6M54 386.4h-3.6M54 372.6h-3.6M54 358.8h-3.6M54 345h-3.6M54 331.2h-3.6" stroke="#000" stroke-width="1.1"/>
<rect x="60" y="468.1" width="8.4" height="1.1" fill="#b0002f" opacity="0.65"/>
<rect x="68.65" y="434.26" width="7.9" height="34.94" fill="#2e4d8e" stroke="#1e325e" stroke-width="0.5"/>
<path d="M72.6 429.18V438.84M70.6 429.18h4M70.6 438.84h4" stroke="#000" stroke-width="1.1"/>
<rect x="77.05" y="442.4" width="7.9" height="26.8" fill="#6aab3d" stroke="#4a7a2a" stroke-width="0.5"/>
<path d="M81 440.36V443.95M79 440.36h4M79 443.95h4" stroke="#000" stroke-width="1.1"/>
<rect x="85.45" y="462.41" width="7.9" height="6.79" fill="#58226f" stroke="#3a1649" stroke-width="0.5"/>
<path d="M89.4 460.51V463.82M87.4 460.51h4M87.4 463.82h4" stroke="#000" stroke-width="1.1"/>
<rect x="105.1" y="468.1" width="8.4" height="1.1" fill="#b0002f" opacity="0.65"/>
<rect x="113.75" y="429.15" width="7.9" height="40.05" fill="#2e4d8e" stroke="#1e325e" stroke-width="0.5"/>
<path d="M117.7 424.76V433.04M115.7 424.76h4M115.7 433.04h4" stroke="#000" stroke-width="1.1"/>
<rect x="122.15" y="406.25" width="7.9" height="62.95" fill="#6aab3d" stroke="#4a7a2a" stroke-width="0.5"/>
<path d="M126.1 401.86V410.14M124.1 401.86h4M124.1 410.14h4" stroke="#000" stroke-width="1.1"/>
<rect x="130.55" y="363.19" width="7.9" height="106.01" fill="#58226f" stroke="#3a1649" stroke-width="0.5"/>
<path d="M134.5 359.08V366.8M132.5 359.08h4M132.5 366.8h4" stroke="#000" stroke-width="1.1"/>
<rect x="150.45" y="332.83" width="7.9" height="136.37" fill="#b0002f" stroke="#7a0025" stroke-width="0.5"/>
<path d="M154.4 332.17V332.99M152.4 332.17h4M152.4 332.99h4" stroke="#000" stroke-width="1.1"/>
<rect x="158.85" y="410.8" width="7.9" height="58.4" fill="#2e4d8e" stroke="#1e325e" stroke-width="0.5"/>
<path d="M162.8 409.72V411.38M160.8 409.72h4M160.8 411.38h4" stroke="#000" stroke-width="1.1"/>
<rect x="167.25" y="425.43" width="7.9" height="43.77" fill="#6aab3d" stroke="#4a7a2a" stroke-width="0.5"/>
<path d="M171.2 421.73V428.63M169.2 421.73h4M169.2 428.63h4" stroke="#000" stroke-width="1.1"/>
<rect x="175.65" y="452.2" width="7.9" height="17" fill="#58226f" stroke="#3a1649" stroke-width="0.5"/>
<path d="M179.6 449.47V454.43M177.6 449.47h4M177.6 454.43h4" stroke="#000" stroke-width="1.1"/>
<rect x="195.3" y="468.1" width="8.4" height="1.1" fill="#b0002f" opacity="0.65"/>
<rect x="203.7" y="468.1" width="8.4" height="1.1" fill="#2e4d8e" opacity="0.65"/>
<path d="M207.9 468.1V468.92M205.9 468.1h4M205.9 468.92h4" stroke="#000" stroke-width="1.1"/>
<rect x="212.1" y="468.1" width="8.4" height="1.1" fill="#6aab3d" opacity="0.65"/>
<path d="M216.3 467.82V468.65M214.3 467.82h4M214.3 468.65h4" stroke="#000" stroke-width="1.1"/>
<rect x="220.75" y="464.48" width="7.9" height="4.72" fill="#58226f" stroke="#3a1649" stroke-width="0.5"/>
<path d="M224.7 463.82V464.65M222.7 463.82h4M222.7 464.65h4" stroke="#000" stroke-width="1.1"/>
<text x="76.8" y="482.8" font-size="8.3" text-anchor="middle" font-weight="normal" fill="#222" stroke="#222" stroke-width="0.18" >CD69+/</text>
<text x="76.8" y="492.6" font-size="8.3" text-anchor="middle" font-weight="normal" fill="#222" stroke="#222" stroke-width="0.18" >CD25-</text>
<text x="121.9" y="482.8" font-size="8.3" text-anchor="middle" font-weight="normal" fill="#222" stroke="#222" stroke-width="0.18" >CD69+/</text>
<text x="121.9" y="492.6" font-size="8.3" text-anchor="middle" font-weight="normal" fill="#222" stroke="#222" stroke-width="0.18" >CD25+</text>
<text x="167" y="482.8" font-size="8.3" text-anchor="middle" font-weight="normal" fill="#222" stroke="#222" stroke-width="0.18" >CD69-/</text>
<text x="167" y="492.6" font-size="8.3" text-anchor="middle" font-weight="normal" fill="#222" stroke="#222" stroke-width="0.18" >CD25-</text>
<text x="212.1" y="482.8" font-size="8.3" text-anchor="middle" font-weight="normal" fill="#222" stroke="#222" stroke-width="0.18" >CD69-/</text>
<text x="212.1" y="492.6" font-size="8.3" text-anchor="middle" font-weight="normal" fill="#222" stroke="#222" stroke-width="0.18" >CD25+</text>
<text x="144.1" y="323.5" font-size="9.8" text-anchor="middle" font-weight="normal" fill="#2a2a2a" stroke="#2a2a2a" stroke-width="0.18" >SUP-HD1</text>
<path d="M265 469.4V326.6" stroke="#000" stroke-width="1.35"/>
<text x="260" y="471.9" font-size="8.6" text-anchor="end" font-weight="normal" fill="#1e1e1e" stroke="#1e1e1e" stroke-width="0.18" >0</text>
<text x="260" y="458.02" font-size="8.6" text-anchor="end" font-weight="normal" fill="#1e1e1e" stroke="#1e1e1e" stroke-width="0.18" >10</text>
<text x="260" y="444.14" font-size="8.6" text-anchor="end" font-weight="normal" fill="#1e1e1e" stroke="#1e1e1e" stroke-width="0.18" >20</text>
<text x="260" y="430.26" font-size="8.6" text-anchor="end" font-weight="normal" fill="#1e1e1e" stroke="#1e1e1e" stroke-width="0.18" >30</text>
<text x="260" y="416.38" font-size="8.6" text-anchor="end" font-weight="normal" fill="#1e1e1e" stroke="#1e1e1e" stroke-width="0.18" >40</text>
<text x="260" y="402.5" font-size="8.6" text-anchor="end" font-weight="normal" fill="#1e1e1e" stroke="#1e1e1e" stroke-width="0.18" >50</text>
<text x="260" y="388.62" font-size="8.6" text-anchor="end" font-weight="normal" fill="#1e1e1e" stroke="#1e1e1e" stroke-width="0.18" >60</text>
<text x="260" y="374.74" font-size="8.6" text-anchor="end" font-weight="normal" fill="#1e1e1e" stroke="#1e1e1e" stroke-width="0.18" >70</text>
<text x="260" y="360.86" font-size="8.6" text-anchor="end" font-weight="normal" fill="#1e1e1e" stroke="#1e1e1e" stroke-width="0.18" >80</text>
<text x="260" y="346.98" font-size="8.6" text-anchor="end" font-weight="normal" fill="#1e1e1e" stroke="#1e1e1e" stroke-width="0.18" >90</text>
<text x="260" y="333.1" font-size="8.6" text-anchor="end" font-weight="normal" fill="#1e1e1e" stroke="#1e1e1e" stroke-width="0.18" >100</text>
<path d="M265 468.9h-3.6M265 455.02h-3.6M265 441.14h-3.6M265 427.26h-3.6M265 413.38h-3.6M265 399.5h-3.6M265 385.62h-3.6M265 371.74h-3.6M265 357.86h-3.6M265 343.98h-3.6M265 330.1h-3.6" stroke="#000" stroke-width="1.1"/>
<rect x="271" y="467.8" width="8.4" height="1.1" fill="#b0002f" opacity="0.65"/>
<rect x="279.65" y="440" width="7.9" height="28.9" fill="#2e4d8e" stroke="#1e325e" stroke-width="0.5"/>
<path d="M283.6 435.31V444.19M281.6 435.31h4M281.6 444.19h4" stroke="#000" stroke-width="1.1"/>
<rect x="288.05" y="420.99" width="7.9" height="47.91" fill="#6aab3d" stroke="#4a7a2a" stroke-width="0.5"/>
<path d="M292 416.29V425.18M290 416.29h4M290 425.18h4" stroke="#000" stroke-width="1.1"/>
<rect x="296.45" y="440" width="7.9" height="28.9" fill="#58226f" stroke="#3a1649" stroke-width="0.5"/>
<path d="M300.4 431.42V448.08M298.4 431.42h4M298.4 448.08h4" stroke="#000" stroke-width="1.1"/>
<rect x="316.1" y="467.8" width="8.4" height="1.1" fill="#b0002f" opacity="0.65"/>
<rect x="324.75" y="418.9" width="7.9" height="50" fill="#2e4d8e" stroke="#1e325e" stroke-width="0.5"/>
<path d="M328.7 415.05V422.26M326.7 415.05h4M326.7 422.26h4" stroke="#000" stroke-width="1.1"/>
<rect x="333.15" y="420.01" width="7.9" height="48.89" fill="#6aab3d" stroke="#4a7a2a" stroke-width="0.5"/>
<path d="M337.1 413.52V426.01M335.1 413.52h4M335.1 426.01h4" stroke="#000" stroke-width="1.1"/>
<rect x="341.55" y="395.17" width="7.9" height="73.73" fill="#58226f" stroke="#3a1649" stroke-width="0.5"/>
<path d="M345.5 387.98V401.86M343.5 387.98h4M343.5 401.86h4" stroke="#000" stroke-width="1.1"/>
<rect x="361.45" y="330.91" width="7.9" height="137.99" fill="#b0002f" stroke="#7a0025" stroke-width="0.5"/>
<path d="M365.4 330.24V331.07M363.4 330.24h4M363.4 331.07h4" stroke="#000" stroke-width="1.1"/>
<rect x="369.85" y="427.51" width="7.9" height="41.39" fill="#2e4d8e" stroke="#1e325e" stroke-width="0.5"/>
<path d="M373.8 414.21V440.31M371.8 414.21h4M371.8 440.31h4" stroke="#000" stroke-width="1.1"/>
<rect x="378.25" y="433.76" width="7.9" height="35.14" fill="#6aab3d" stroke="#4a7a2a" stroke-width="0.5"/>
<path d="M382.2 425.18V441.83M380.2 425.18h4M380.2 441.83h4" stroke="#000" stroke-width="1.1"/>
<rect x="386.65" y="438.2" width="7.9" height="30.7" fill="#58226f" stroke="#3a1649" stroke-width="0.5"/>
<path d="M390.6 418.79V457.1M388.6 418.79h4M388.6 457.1h4" stroke="#000" stroke-width="1.1"/>
<rect x="406.3" y="467.8" width="8.4" height="1.1" fill="#b0002f" opacity="0.65"/>
<rect x="414.95" y="451.38" width="7.9" height="17.52" fill="#2e4d8e" stroke="#1e325e" stroke-width="0.5"/>
<path d="M418.9 433.92V468.34M416.9 433.92h4M416.9 468.34h4" stroke="#000" stroke-width="1.1"/>
<rect x="423.35" y="462.77" width="7.9" height="6.13" fill="#6aab3d" stroke="#4a7a2a" stroke-width="0.5"/>
<path d="M427.3 456.27V468.76M425.3 456.27h4M425.3 468.76h4" stroke="#000" stroke-width="1.1"/>
<rect x="431.75" y="464.29" width="7.9" height="4.61" fill="#58226f" stroke="#3a1649" stroke-width="0.5"/>
<path d="M435.7 459.6V468.48M433.7 459.6h4M433.7 468.48h4" stroke="#000" stroke-width="1.1"/>
<text x="287.8" y="482.8" font-size="8.3" text-anchor="middle" font-weight="normal" fill="#222" stroke="#222" stroke-width="0.18" >CD69+/</text>
<text x="287.8" y="492.6" font-size="8.3" text-anchor="middle" font-weight="normal" fill="#222" stroke="#222" stroke-width="0.18" >CD25-</text>
<text x="332.9" y="482.8" font-size="8.3" text-anchor="middle" font-weight="normal" fill="#222" stroke="#222" stroke-width="0.18" >CD69+/</text>
<text x="332.9" y="492.6" font-size="8.3" text-anchor="middle" font-weight="normal" fill="#222" stroke="#222" stroke-width="0.18" >CD25+</text>
<text x="378" y="482.8" font-size="8.3" text-anchor="middle" font-weight="normal" fill="#222" stroke="#222" stroke-width="0.18" >CD69-/</text>
<text x="378" y="492.6" font-size="8.3" text-anchor="middle" font-weight="normal" fill="#222" stroke="#222" stroke-width="0.18" >CD25-</text>
<text x="423.1" y="482.8" font-size="8.3" text-anchor="middle" font-weight="normal" fill="#222" stroke="#222" stroke-width="0.18" >CD69-/</text>
<text x="423.1" y="492.6" font-size="8.3" text-anchor="middle" font-weight="normal" fill="#222" stroke="#222" stroke-width="0.18" >CD25+</text>
<text x="355.2" y="323.5" font-size="9.8" text-anchor="middle" font-weight="normal" fill="#2a2a2a" stroke="#2a2a2a" stroke-width="0.18" >HDLM-2</text>
<path d="M117.4 356.9V355.7Q117.4 354.7 118.4 354.7H133.9Q134.9 354.7 134.9 355.7V356.9" fill="none" stroke="#111" stroke-width="1.1"/>
<circle cx="120.3" cy="350.2" r="1.2" fill="#111"/>
<circle cx="124.2" cy="350.2" r="1.2" fill="#111"/>
<circle cx="128.1" cy="350.2" r="1.2" fill="#111"/>
<circle cx="132" cy="350.2" r="1.2" fill="#111"/>
<path d="M117.2 400.1V398.9Q117.2 397.9 118.2 397.9H125.8Q126.8 397.9 126.8 398.9V400.1" fill="none" stroke="#111" stroke-width="1.1"/>
<circle cx="116.15" cy="392.9" r="1.2" fill="#111"/>
<circle cx="120.05" cy="392.9" r="1.2" fill="#111"/>
<circle cx="123.95" cy="392.9" r="1.2" fill="#111"/>
<circle cx="127.85" cy="392.9" r="1.2" fill="#111"/>
<path d="M327.8 386.4V385.2Q327.8 384.2 328.8 384.2H344.1Q345.1 384.2 345.1 385.2V386.4" fill="none" stroke="#111" stroke-width="1.1"/>
<circle cx="330.6" cy="378.9" r="1.2" fill="#111"/>
<circle cx="334.5" cy="378.9" r="1.2" fill="#111"/>
<circle cx="338.4" cy="378.9" r="1.2" fill="#111"/>
<circle cx="342.3" cy="378.9" r="1.2" fill="#111"/>
<text x="438.3" y="340.7" font-size="7.9" text-anchor="start" font-weight="normal" fill="#222" stroke="#222" stroke-width="0.18" >T cells</text>
<rect x="429.4" y="347.5" width="4.8" height="4.8" fill="#b0002f" stroke="#7a0025" stroke-width="0.6"/>
<text x="437.9" y="352.6" font-size="7.9" text-anchor="start" font-weight="normal" fill="#222" stroke="#222" stroke-width="0.18" >unstimulated</text>
<rect x="429.4" y="359.2" width="4.8" height="4.8" fill="#2e4d8e" stroke="#1e325e" stroke-width="0.6"/>
<text x="437.9" y="364.3" font-size="7.9" text-anchor="start" font-weight="normal" fill="#222" stroke="#222" stroke-width="0.18" >stimulated</text>
<rect x="429.4" y="371.1" width="4.8" height="4.8" fill="#6aab3d" stroke="#4a7a2a" stroke-width="0.6"/>
<text x="437.9" y="376.2" font-size="7.9" text-anchor="start" font-weight="normal" fill="#222" stroke="#222" stroke-width="0.18" >stimulated +</text>
<text x="437.9" y="385.5" font-size="7.9" text-anchor="start" font-weight="normal" fill="#222" stroke="#222" stroke-width="0.18" >DMSO-treated RS</text>
<rect x="429.4" y="392.2" width="4.8" height="4.8" fill="#58226f" stroke="#3a1649" stroke-width="0.6"/>
<text x="437.9" y="397.3" font-size="7.9" text-anchor="start" font-weight="normal" fill="#222" stroke="#222" stroke-width="0.18" >stimulated +</text>
<text x="437.9" y="406.6" font-size="7.9" text-anchor="start" font-weight="normal" fill="#222" stroke="#222" stroke-width="0.18" >B489-treated RS</text>
<path d="M0 0.6H520M0.6 0V502" fill="none" stroke="#000" stroke-width="1.2"/>
<path d="M0 501.25H520M519.25 0V502" fill="none" stroke="#000" stroke-width="1.5"/>
</svg>
</body></html>
